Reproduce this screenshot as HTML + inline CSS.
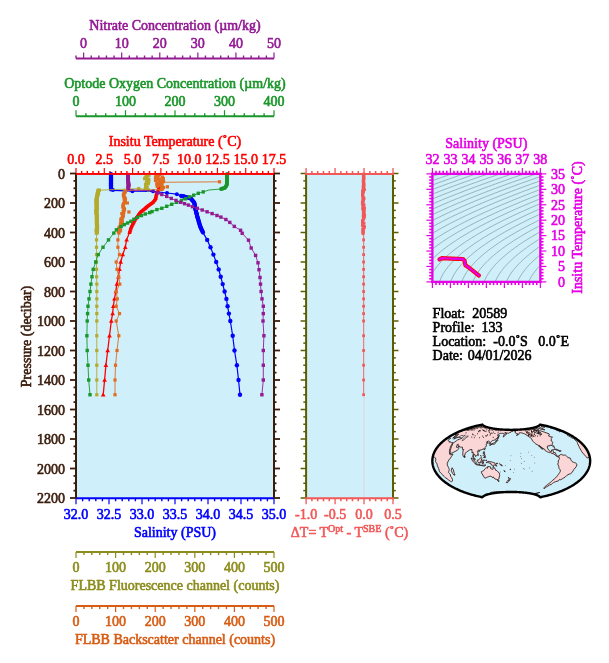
<!DOCTYPE html><html><head><meta charset="utf-8"><style>html,body{margin:0;padding:0;background:#fff;width:609px;height:663px;overflow:hidden}svg{display:block;will-change:transform}</style></head><body><svg width="609" height="663" viewBox="0 0 609 663" font-family="Liberation Serif, serif"><line x1="76.00" y1="58.50" x2="274.00" y2="58.50" stroke="#941a94" stroke-width="2" /><line x1="76.00" y1="58.50" x2="76.00" y2="55.50" stroke="#941a94" stroke-width="1.4" /><line x1="83.62" y1="58.50" x2="83.62" y2="52.50" stroke="#941a94" stroke-width="1.2" /><line x1="91.23" y1="58.50" x2="91.23" y2="55.50" stroke="#941a94" stroke-width="1.4" /><line x1="98.85" y1="58.50" x2="98.85" y2="55.50" stroke="#941a94" stroke-width="1.4" /><line x1="106.46" y1="58.50" x2="106.46" y2="55.50" stroke="#941a94" stroke-width="1.4" /><line x1="114.08" y1="58.50" x2="114.08" y2="55.50" stroke="#941a94" stroke-width="1.4" /><line x1="121.69" y1="58.50" x2="121.69" y2="52.50" stroke="#941a94" stroke-width="1.2" /><line x1="129.31" y1="58.50" x2="129.31" y2="55.50" stroke="#941a94" stroke-width="1.4" /><line x1="136.92" y1="58.50" x2="136.92" y2="55.50" stroke="#941a94" stroke-width="1.4" /><line x1="144.54" y1="58.50" x2="144.54" y2="55.50" stroke="#941a94" stroke-width="1.4" /><line x1="152.15" y1="58.50" x2="152.15" y2="55.50" stroke="#941a94" stroke-width="1.4" /><line x1="159.77" y1="58.50" x2="159.77" y2="52.50" stroke="#941a94" stroke-width="1.2" /><line x1="167.38" y1="58.50" x2="167.38" y2="55.50" stroke="#941a94" stroke-width="1.4" /><line x1="175.00" y1="58.50" x2="175.00" y2="55.50" stroke="#941a94" stroke-width="1.4" /><line x1="182.62" y1="58.50" x2="182.62" y2="55.50" stroke="#941a94" stroke-width="1.4" /><line x1="190.23" y1="58.50" x2="190.23" y2="55.50" stroke="#941a94" stroke-width="1.4" /><line x1="197.85" y1="58.50" x2="197.85" y2="52.50" stroke="#941a94" stroke-width="1.2" /><line x1="205.46" y1="58.50" x2="205.46" y2="55.50" stroke="#941a94" stroke-width="1.4" /><line x1="213.08" y1="58.50" x2="213.08" y2="55.50" stroke="#941a94" stroke-width="1.4" /><line x1="220.69" y1="58.50" x2="220.69" y2="55.50" stroke="#941a94" stroke-width="1.4" /><line x1="228.31" y1="58.50" x2="228.31" y2="55.50" stroke="#941a94" stroke-width="1.4" /><line x1="235.92" y1="58.50" x2="235.92" y2="52.50" stroke="#941a94" stroke-width="1.2" /><line x1="243.54" y1="58.50" x2="243.54" y2="55.50" stroke="#941a94" stroke-width="1.4" /><line x1="251.15" y1="58.50" x2="251.15" y2="55.50" stroke="#941a94" stroke-width="1.4" /><line x1="258.77" y1="58.50" x2="258.77" y2="55.50" stroke="#941a94" stroke-width="1.4" /><line x1="266.38" y1="58.50" x2="266.38" y2="55.50" stroke="#941a94" stroke-width="1.4" /><line x1="274.00" y1="58.50" x2="274.00" y2="52.50" stroke="#941a94" stroke-width="1.2" /><text x="83.62" y="48.00" fill="#941a94" stroke="#941a94" stroke-width="0.6" font-size="14" text-anchor="middle" >0</text><text x="121.69" y="48.00" fill="#941a94" stroke="#941a94" stroke-width="0.6" font-size="14" text-anchor="middle" >10</text><text x="159.77" y="48.00" fill="#941a94" stroke="#941a94" stroke-width="0.6" font-size="14" text-anchor="middle" >20</text><text x="197.85" y="48.00" fill="#941a94" stroke="#941a94" stroke-width="0.6" font-size="14" text-anchor="middle" >30</text><text x="235.92" y="48.00" fill="#941a94" stroke="#941a94" stroke-width="0.6" font-size="14" text-anchor="middle" >40</text><text x="274.00" y="48.00" fill="#941a94" stroke="#941a94" stroke-width="0.6" font-size="14" text-anchor="middle" >50</text><text x="175.00" y="30.00" fill="#941a94" stroke="#941a94" stroke-width="0.6" font-size="14" text-anchor="middle" >Nitrate Concentration (µm/kg)</text><line x1="76.00" y1="116.20" x2="274.00" y2="116.20" stroke="#1a962a" stroke-width="2" /><line x1="76.00" y1="116.20" x2="76.00" y2="110.20" stroke="#1a962a" stroke-width="1.2" /><line x1="85.90" y1="116.20" x2="85.90" y2="113.20" stroke="#1a962a" stroke-width="1.4" /><line x1="95.80" y1="116.20" x2="95.80" y2="113.20" stroke="#1a962a" stroke-width="1.4" /><line x1="105.70" y1="116.20" x2="105.70" y2="113.20" stroke="#1a962a" stroke-width="1.4" /><line x1="115.60" y1="116.20" x2="115.60" y2="113.20" stroke="#1a962a" stroke-width="1.4" /><line x1="125.50" y1="116.20" x2="125.50" y2="110.20" stroke="#1a962a" stroke-width="1.2" /><line x1="135.40" y1="116.20" x2="135.40" y2="113.20" stroke="#1a962a" stroke-width="1.4" /><line x1="145.30" y1="116.20" x2="145.30" y2="113.20" stroke="#1a962a" stroke-width="1.4" /><line x1="155.20" y1="116.20" x2="155.20" y2="113.20" stroke="#1a962a" stroke-width="1.4" /><line x1="165.10" y1="116.20" x2="165.10" y2="113.20" stroke="#1a962a" stroke-width="1.4" /><line x1="175.00" y1="116.20" x2="175.00" y2="110.20" stroke="#1a962a" stroke-width="1.2" /><line x1="184.90" y1="116.20" x2="184.90" y2="113.20" stroke="#1a962a" stroke-width="1.4" /><line x1="194.80" y1="116.20" x2="194.80" y2="113.20" stroke="#1a962a" stroke-width="1.4" /><line x1="204.70" y1="116.20" x2="204.70" y2="113.20" stroke="#1a962a" stroke-width="1.4" /><line x1="214.60" y1="116.20" x2="214.60" y2="113.20" stroke="#1a962a" stroke-width="1.4" /><line x1="224.50" y1="116.20" x2="224.50" y2="110.20" stroke="#1a962a" stroke-width="1.2" /><line x1="234.40" y1="116.20" x2="234.40" y2="113.20" stroke="#1a962a" stroke-width="1.4" /><line x1="244.30" y1="116.20" x2="244.30" y2="113.20" stroke="#1a962a" stroke-width="1.4" /><line x1="254.20" y1="116.20" x2="254.20" y2="113.20" stroke="#1a962a" stroke-width="1.4" /><line x1="264.10" y1="116.20" x2="264.10" y2="113.20" stroke="#1a962a" stroke-width="1.4" /><line x1="274.00" y1="116.20" x2="274.00" y2="110.20" stroke="#1a962a" stroke-width="1.2" /><text x="76.00" y="106.00" fill="#1a962a" stroke="#1a962a" stroke-width="0.6" font-size="14" text-anchor="middle" >0</text><text x="125.50" y="106.00" fill="#1a962a" stroke="#1a962a" stroke-width="0.6" font-size="14" text-anchor="middle" >100</text><text x="175.00" y="106.00" fill="#1a962a" stroke="#1a962a" stroke-width="0.6" font-size="14" text-anchor="middle" >200</text><text x="224.50" y="106.00" fill="#1a962a" stroke="#1a962a" stroke-width="0.6" font-size="14" text-anchor="middle" >300</text><text x="274.00" y="106.00" fill="#1a962a" stroke="#1a962a" stroke-width="0.6" font-size="14" text-anchor="middle" >400</text><text x="175.00" y="88.00" fill="#1a962a" stroke="#1a962a" stroke-width="0.6" font-size="14" text-anchor="middle" >Optode Oxygen Concentration (µm/kg)</text><rect x="76.0" y="173.5" width="198.0" height="324.5" fill="#cff0fa"/><line x1="76.00" y1="173.90" x2="274.00" y2="173.90" stroke="#ff0000" stroke-width="1.8" /><line x1="76.00" y1="173.90" x2="76.00" y2="167.90" stroke="#ff0000" stroke-width="1.2" /><line x1="81.66" y1="173.90" x2="81.66" y2="170.90" stroke="#ff0000" stroke-width="1.4" /><line x1="87.31" y1="173.90" x2="87.31" y2="170.90" stroke="#ff0000" stroke-width="1.4" /><line x1="92.97" y1="173.90" x2="92.97" y2="170.90" stroke="#ff0000" stroke-width="1.4" /><line x1="98.63" y1="173.90" x2="98.63" y2="170.90" stroke="#ff0000" stroke-width="1.4" /><line x1="104.29" y1="173.90" x2="104.29" y2="167.90" stroke="#ff0000" stroke-width="1.2" /><line x1="109.94" y1="173.90" x2="109.94" y2="170.90" stroke="#ff0000" stroke-width="1.4" /><line x1="115.60" y1="173.90" x2="115.60" y2="170.90" stroke="#ff0000" stroke-width="1.4" /><line x1="121.26" y1="173.90" x2="121.26" y2="170.90" stroke="#ff0000" stroke-width="1.4" /><line x1="126.91" y1="173.90" x2="126.91" y2="170.90" stroke="#ff0000" stroke-width="1.4" /><line x1="132.57" y1="173.90" x2="132.57" y2="167.90" stroke="#ff0000" stroke-width="1.2" /><line x1="138.23" y1="173.90" x2="138.23" y2="170.90" stroke="#ff0000" stroke-width="1.4" /><line x1="143.89" y1="173.90" x2="143.89" y2="170.90" stroke="#ff0000" stroke-width="1.4" /><line x1="149.54" y1="173.90" x2="149.54" y2="170.90" stroke="#ff0000" stroke-width="1.4" /><line x1="155.20" y1="173.90" x2="155.20" y2="170.90" stroke="#ff0000" stroke-width="1.4" /><line x1="160.86" y1="173.90" x2="160.86" y2="167.90" stroke="#ff0000" stroke-width="1.2" /><line x1="166.51" y1="173.90" x2="166.51" y2="170.90" stroke="#ff0000" stroke-width="1.4" /><line x1="172.17" y1="173.90" x2="172.17" y2="170.90" stroke="#ff0000" stroke-width="1.4" /><line x1="177.83" y1="173.90" x2="177.83" y2="170.90" stroke="#ff0000" stroke-width="1.4" /><line x1="183.49" y1="173.90" x2="183.49" y2="170.90" stroke="#ff0000" stroke-width="1.4" /><line x1="189.14" y1="173.90" x2="189.14" y2="167.90" stroke="#ff0000" stroke-width="1.2" /><line x1="194.80" y1="173.90" x2="194.80" y2="170.90" stroke="#ff0000" stroke-width="1.4" /><line x1="200.46" y1="173.90" x2="200.46" y2="170.90" stroke="#ff0000" stroke-width="1.4" /><line x1="206.11" y1="173.90" x2="206.11" y2="170.90" stroke="#ff0000" stroke-width="1.4" /><line x1="211.77" y1="173.90" x2="211.77" y2="170.90" stroke="#ff0000" stroke-width="1.4" /><line x1="217.43" y1="173.90" x2="217.43" y2="167.90" stroke="#ff0000" stroke-width="1.2" /><line x1="223.09" y1="173.90" x2="223.09" y2="170.90" stroke="#ff0000" stroke-width="1.4" /><line x1="228.74" y1="173.90" x2="228.74" y2="170.90" stroke="#ff0000" stroke-width="1.4" /><line x1="234.40" y1="173.90" x2="234.40" y2="170.90" stroke="#ff0000" stroke-width="1.4" /><line x1="240.06" y1="173.90" x2="240.06" y2="170.90" stroke="#ff0000" stroke-width="1.4" /><line x1="245.71" y1="173.90" x2="245.71" y2="167.90" stroke="#ff0000" stroke-width="1.2" /><line x1="251.37" y1="173.90" x2="251.37" y2="170.90" stroke="#ff0000" stroke-width="1.4" /><line x1="257.03" y1="173.90" x2="257.03" y2="170.90" stroke="#ff0000" stroke-width="1.4" /><line x1="262.69" y1="173.90" x2="262.69" y2="170.90" stroke="#ff0000" stroke-width="1.4" /><line x1="268.34" y1="173.90" x2="268.34" y2="170.90" stroke="#ff0000" stroke-width="1.4" /><line x1="274.00" y1="173.90" x2="274.00" y2="167.90" stroke="#ff0000" stroke-width="1.2" /><text x="76.00" y="163.50" fill="#ff0000" stroke="#ff0000" stroke-width="0.6" font-size="14" text-anchor="middle" >0.0</text><text x="104.29" y="163.50" fill="#ff0000" stroke="#ff0000" stroke-width="0.6" font-size="14" text-anchor="middle" >2.5</text><text x="132.57" y="163.50" fill="#ff0000" stroke="#ff0000" stroke-width="0.6" font-size="14" text-anchor="middle" >5.0</text><text x="160.86" y="163.50" fill="#ff0000" stroke="#ff0000" stroke-width="0.6" font-size="14" text-anchor="middle" >7.5</text><text x="189.14" y="163.50" fill="#ff0000" stroke="#ff0000" stroke-width="0.6" font-size="14" text-anchor="middle" >10.0</text><text x="217.43" y="163.50" fill="#ff0000" stroke="#ff0000" stroke-width="0.6" font-size="14" text-anchor="middle" >12.5</text><text x="245.71" y="163.50" fill="#ff0000" stroke="#ff0000" stroke-width="0.6" font-size="14" text-anchor="middle" >15.0</text><text x="274.00" y="163.50" fill="#ff0000" stroke="#ff0000" stroke-width="0.6" font-size="14" text-anchor="middle" >17.5</text><text x="175.00" y="146.00" fill="#ff0000" stroke="#ff0000" stroke-width="0.6" font-size="14" text-anchor="middle" >Insitu Temperature (˚C)</text><line x1="76.00" y1="498.30" x2="274.00" y2="498.30" stroke="#0000ff" stroke-width="2" /><line x1="76.00" y1="498.30" x2="76.00" y2="504.30" stroke="#0000ff" stroke-width="1.2" /><line x1="82.60" y1="498.30" x2="82.60" y2="501.30" stroke="#0000ff" stroke-width="1.4" /><line x1="89.20" y1="498.30" x2="89.20" y2="501.30" stroke="#0000ff" stroke-width="1.4" /><line x1="95.80" y1="498.30" x2="95.80" y2="501.30" stroke="#0000ff" stroke-width="1.4" /><line x1="102.40" y1="498.30" x2="102.40" y2="501.30" stroke="#0000ff" stroke-width="1.4" /><line x1="109.00" y1="498.30" x2="109.00" y2="504.30" stroke="#0000ff" stroke-width="1.2" /><line x1="115.60" y1="498.30" x2="115.60" y2="501.30" stroke="#0000ff" stroke-width="1.4" /><line x1="122.20" y1="498.30" x2="122.20" y2="501.30" stroke="#0000ff" stroke-width="1.4" /><line x1="128.80" y1="498.30" x2="128.80" y2="501.30" stroke="#0000ff" stroke-width="1.4" /><line x1="135.40" y1="498.30" x2="135.40" y2="501.30" stroke="#0000ff" stroke-width="1.4" /><line x1="142.00" y1="498.30" x2="142.00" y2="504.30" stroke="#0000ff" stroke-width="1.2" /><line x1="148.60" y1="498.30" x2="148.60" y2="501.30" stroke="#0000ff" stroke-width="1.4" /><line x1="155.20" y1="498.30" x2="155.20" y2="501.30" stroke="#0000ff" stroke-width="1.4" /><line x1="161.80" y1="498.30" x2="161.80" y2="501.30" stroke="#0000ff" stroke-width="1.4" /><line x1="168.40" y1="498.30" x2="168.40" y2="501.30" stroke="#0000ff" stroke-width="1.4" /><line x1="175.00" y1="498.30" x2="175.00" y2="504.30" stroke="#0000ff" stroke-width="1.2" /><line x1="181.60" y1="498.30" x2="181.60" y2="501.30" stroke="#0000ff" stroke-width="1.4" /><line x1="188.20" y1="498.30" x2="188.20" y2="501.30" stroke="#0000ff" stroke-width="1.4" /><line x1="194.80" y1="498.30" x2="194.80" y2="501.30" stroke="#0000ff" stroke-width="1.4" /><line x1="201.40" y1="498.30" x2="201.40" y2="501.30" stroke="#0000ff" stroke-width="1.4" /><line x1="208.00" y1="498.30" x2="208.00" y2="504.30" stroke="#0000ff" stroke-width="1.2" /><line x1="214.60" y1="498.30" x2="214.60" y2="501.30" stroke="#0000ff" stroke-width="1.4" /><line x1="221.20" y1="498.30" x2="221.20" y2="501.30" stroke="#0000ff" stroke-width="1.4" /><line x1="227.80" y1="498.30" x2="227.80" y2="501.30" stroke="#0000ff" stroke-width="1.4" /><line x1="234.40" y1="498.30" x2="234.40" y2="501.30" stroke="#0000ff" stroke-width="1.4" /><line x1="241.00" y1="498.30" x2="241.00" y2="504.30" stroke="#0000ff" stroke-width="1.2" /><line x1="247.60" y1="498.30" x2="247.60" y2="501.30" stroke="#0000ff" stroke-width="1.4" /><line x1="254.20" y1="498.30" x2="254.20" y2="501.30" stroke="#0000ff" stroke-width="1.4" /><line x1="260.80" y1="498.30" x2="260.80" y2="501.30" stroke="#0000ff" stroke-width="1.4" /><line x1="267.40" y1="498.30" x2="267.40" y2="501.30" stroke="#0000ff" stroke-width="1.4" /><line x1="274.00" y1="498.30" x2="274.00" y2="504.30" stroke="#0000ff" stroke-width="1.2" /><text x="76.00" y="518.50" fill="#0000ff" stroke="#0000ff" stroke-width="0.6" font-size="14" text-anchor="middle" >32.0</text><text x="109.00" y="518.50" fill="#0000ff" stroke="#0000ff" stroke-width="0.6" font-size="14" text-anchor="middle" >32.5</text><text x="142.00" y="518.50" fill="#0000ff" stroke="#0000ff" stroke-width="0.6" font-size="14" text-anchor="middle" >33.0</text><text x="175.00" y="518.50" fill="#0000ff" stroke="#0000ff" stroke-width="0.6" font-size="14" text-anchor="middle" >33.5</text><text x="208.00" y="518.50" fill="#0000ff" stroke="#0000ff" stroke-width="0.6" font-size="14" text-anchor="middle" >34.0</text><text x="241.00" y="518.50" fill="#0000ff" stroke="#0000ff" stroke-width="0.6" font-size="14" text-anchor="middle" >34.5</text><text x="274.00" y="518.50" fill="#0000ff" stroke="#0000ff" stroke-width="0.6" font-size="14" text-anchor="middle" >35.0</text><text x="175.00" y="536.50" fill="#0000ff" stroke="#0000ff" stroke-width="0.6" font-size="14" text-anchor="middle" >Salinity (PSU)</text><line x1="76.00" y1="173.50" x2="76.00" y2="498.00" stroke="#3a1c0c" stroke-width="2" /><line x1="76.00" y1="173.50" x2="70.00" y2="173.50" stroke="#3a1c0c" stroke-width="1.8" /><text x="65.00" y="178.50" fill="#3a1c0c" stroke="#3a1c0c" stroke-width="0.6" font-size="14" text-anchor="end" >0</text><line x1="76.00" y1="180.88" x2="73.50" y2="180.88" stroke="#3a1c0c" stroke-width="1.8" /><line x1="76.00" y1="188.25" x2="73.50" y2="188.25" stroke="#3a1c0c" stroke-width="1.8" /><line x1="76.00" y1="195.62" x2="73.50" y2="195.62" stroke="#3a1c0c" stroke-width="1.8" /><line x1="76.00" y1="203.00" x2="70.00" y2="203.00" stroke="#3a1c0c" stroke-width="1.8" /><text x="65.00" y="208.00" fill="#3a1c0c" stroke="#3a1c0c" stroke-width="0.6" font-size="14" text-anchor="end" >200</text><line x1="76.00" y1="210.38" x2="73.50" y2="210.38" stroke="#3a1c0c" stroke-width="1.8" /><line x1="76.00" y1="217.75" x2="73.50" y2="217.75" stroke="#3a1c0c" stroke-width="1.8" /><line x1="76.00" y1="225.12" x2="73.50" y2="225.12" stroke="#3a1c0c" stroke-width="1.8" /><line x1="76.00" y1="232.50" x2="70.00" y2="232.50" stroke="#3a1c0c" stroke-width="1.8" /><text x="65.00" y="237.50" fill="#3a1c0c" stroke="#3a1c0c" stroke-width="0.6" font-size="14" text-anchor="end" >400</text><line x1="76.00" y1="239.88" x2="73.50" y2="239.88" stroke="#3a1c0c" stroke-width="1.8" /><line x1="76.00" y1="247.25" x2="73.50" y2="247.25" stroke="#3a1c0c" stroke-width="1.8" /><line x1="76.00" y1="254.62" x2="73.50" y2="254.62" stroke="#3a1c0c" stroke-width="1.8" /><line x1="76.00" y1="262.00" x2="70.00" y2="262.00" stroke="#3a1c0c" stroke-width="1.8" /><text x="65.00" y="267.00" fill="#3a1c0c" stroke="#3a1c0c" stroke-width="0.6" font-size="14" text-anchor="end" >600</text><line x1="76.00" y1="269.38" x2="73.50" y2="269.38" stroke="#3a1c0c" stroke-width="1.8" /><line x1="76.00" y1="276.75" x2="73.50" y2="276.75" stroke="#3a1c0c" stroke-width="1.8" /><line x1="76.00" y1="284.12" x2="73.50" y2="284.12" stroke="#3a1c0c" stroke-width="1.8" /><line x1="76.00" y1="291.50" x2="70.00" y2="291.50" stroke="#3a1c0c" stroke-width="1.8" /><text x="65.00" y="296.50" fill="#3a1c0c" stroke="#3a1c0c" stroke-width="0.6" font-size="14" text-anchor="end" >800</text><line x1="76.00" y1="298.88" x2="73.50" y2="298.88" stroke="#3a1c0c" stroke-width="1.8" /><line x1="76.00" y1="306.25" x2="73.50" y2="306.25" stroke="#3a1c0c" stroke-width="1.8" /><line x1="76.00" y1="313.62" x2="73.50" y2="313.62" stroke="#3a1c0c" stroke-width="1.8" /><line x1="76.00" y1="321.00" x2="70.00" y2="321.00" stroke="#3a1c0c" stroke-width="1.8" /><text x="65.00" y="326.00" fill="#3a1c0c" stroke="#3a1c0c" stroke-width="0.6" font-size="14" text-anchor="end" >1000</text><line x1="76.00" y1="328.38" x2="73.50" y2="328.38" stroke="#3a1c0c" stroke-width="1.8" /><line x1="76.00" y1="335.75" x2="73.50" y2="335.75" stroke="#3a1c0c" stroke-width="1.8" /><line x1="76.00" y1="343.12" x2="73.50" y2="343.12" stroke="#3a1c0c" stroke-width="1.8" /><line x1="76.00" y1="350.50" x2="70.00" y2="350.50" stroke="#3a1c0c" stroke-width="1.8" /><text x="65.00" y="355.50" fill="#3a1c0c" stroke="#3a1c0c" stroke-width="0.6" font-size="14" text-anchor="end" >1200</text><line x1="76.00" y1="357.88" x2="73.50" y2="357.88" stroke="#3a1c0c" stroke-width="1.8" /><line x1="76.00" y1="365.25" x2="73.50" y2="365.25" stroke="#3a1c0c" stroke-width="1.8" /><line x1="76.00" y1="372.62" x2="73.50" y2="372.62" stroke="#3a1c0c" stroke-width="1.8" /><line x1="76.00" y1="380.00" x2="70.00" y2="380.00" stroke="#3a1c0c" stroke-width="1.8" /><text x="65.00" y="385.00" fill="#3a1c0c" stroke="#3a1c0c" stroke-width="0.6" font-size="14" text-anchor="end" >1400</text><line x1="76.00" y1="387.38" x2="73.50" y2="387.38" stroke="#3a1c0c" stroke-width="1.8" /><line x1="76.00" y1="394.75" x2="73.50" y2="394.75" stroke="#3a1c0c" stroke-width="1.8" /><line x1="76.00" y1="402.12" x2="73.50" y2="402.12" stroke="#3a1c0c" stroke-width="1.8" /><line x1="76.00" y1="409.50" x2="70.00" y2="409.50" stroke="#3a1c0c" stroke-width="1.8" /><text x="65.00" y="414.50" fill="#3a1c0c" stroke="#3a1c0c" stroke-width="0.6" font-size="14" text-anchor="end" >1600</text><line x1="76.00" y1="416.88" x2="73.50" y2="416.88" stroke="#3a1c0c" stroke-width="1.8" /><line x1="76.00" y1="424.25" x2="73.50" y2="424.25" stroke="#3a1c0c" stroke-width="1.8" /><line x1="76.00" y1="431.62" x2="73.50" y2="431.62" stroke="#3a1c0c" stroke-width="1.8" /><line x1="76.00" y1="439.00" x2="70.00" y2="439.00" stroke="#3a1c0c" stroke-width="1.8" /><text x="65.00" y="444.00" fill="#3a1c0c" stroke="#3a1c0c" stroke-width="0.6" font-size="14" text-anchor="end" >1800</text><line x1="76.00" y1="446.38" x2="73.50" y2="446.38" stroke="#3a1c0c" stroke-width="1.8" /><line x1="76.00" y1="453.75" x2="73.50" y2="453.75" stroke="#3a1c0c" stroke-width="1.8" /><line x1="76.00" y1="461.12" x2="73.50" y2="461.12" stroke="#3a1c0c" stroke-width="1.8" /><line x1="76.00" y1="468.50" x2="70.00" y2="468.50" stroke="#3a1c0c" stroke-width="1.8" /><text x="65.00" y="473.50" fill="#3a1c0c" stroke="#3a1c0c" stroke-width="0.6" font-size="14" text-anchor="end" >2000</text><line x1="76.00" y1="475.88" x2="73.50" y2="475.88" stroke="#3a1c0c" stroke-width="1.8" /><line x1="76.00" y1="483.25" x2="73.50" y2="483.25" stroke="#3a1c0c" stroke-width="1.8" /><line x1="76.00" y1="490.62" x2="73.50" y2="490.62" stroke="#3a1c0c" stroke-width="1.8" /><line x1="76.00" y1="498.00" x2="70.00" y2="498.00" stroke="#3a1c0c" stroke-width="1.8" /><text x="65.00" y="503.00" fill="#3a1c0c" stroke="#3a1c0c" stroke-width="0.6" font-size="14" text-anchor="end" >2200</text><line x1="274.00" y1="173.50" x2="274.00" y2="498.00" stroke="#3a1c0c" stroke-width="2" /><line x1="274.00" y1="173.50" x2="280.00" y2="173.50" stroke="#3a1c0c" stroke-width="1.8" /><line x1="274.00" y1="180.88" x2="276.50" y2="180.88" stroke="#3a1c0c" stroke-width="1.8" /><line x1="274.00" y1="188.25" x2="276.50" y2="188.25" stroke="#3a1c0c" stroke-width="1.8" /><line x1="274.00" y1="195.62" x2="276.50" y2="195.62" stroke="#3a1c0c" stroke-width="1.8" /><line x1="274.00" y1="203.00" x2="280.00" y2="203.00" stroke="#3a1c0c" stroke-width="1.8" /><line x1="274.00" y1="210.38" x2="276.50" y2="210.38" stroke="#3a1c0c" stroke-width="1.8" /><line x1="274.00" y1="217.75" x2="276.50" y2="217.75" stroke="#3a1c0c" stroke-width="1.8" /><line x1="274.00" y1="225.12" x2="276.50" y2="225.12" stroke="#3a1c0c" stroke-width="1.8" /><line x1="274.00" y1="232.50" x2="280.00" y2="232.50" stroke="#3a1c0c" stroke-width="1.8" /><line x1="274.00" y1="239.88" x2="276.50" y2="239.88" stroke="#3a1c0c" stroke-width="1.8" /><line x1="274.00" y1="247.25" x2="276.50" y2="247.25" stroke="#3a1c0c" stroke-width="1.8" /><line x1="274.00" y1="254.62" x2="276.50" y2="254.62" stroke="#3a1c0c" stroke-width="1.8" /><line x1="274.00" y1="262.00" x2="280.00" y2="262.00" stroke="#3a1c0c" stroke-width="1.8" /><line x1="274.00" y1="269.38" x2="276.50" y2="269.38" stroke="#3a1c0c" stroke-width="1.8" /><line x1="274.00" y1="276.75" x2="276.50" y2="276.75" stroke="#3a1c0c" stroke-width="1.8" /><line x1="274.00" y1="284.12" x2="276.50" y2="284.12" stroke="#3a1c0c" stroke-width="1.8" /><line x1="274.00" y1="291.50" x2="280.00" y2="291.50" stroke="#3a1c0c" stroke-width="1.8" /><line x1="274.00" y1="298.88" x2="276.50" y2="298.88" stroke="#3a1c0c" stroke-width="1.8" /><line x1="274.00" y1="306.25" x2="276.50" y2="306.25" stroke="#3a1c0c" stroke-width="1.8" /><line x1="274.00" y1="313.62" x2="276.50" y2="313.62" stroke="#3a1c0c" stroke-width="1.8" /><line x1="274.00" y1="321.00" x2="280.00" y2="321.00" stroke="#3a1c0c" stroke-width="1.8" /><line x1="274.00" y1="328.38" x2="276.50" y2="328.38" stroke="#3a1c0c" stroke-width="1.8" /><line x1="274.00" y1="335.75" x2="276.50" y2="335.75" stroke="#3a1c0c" stroke-width="1.8" /><line x1="274.00" y1="343.12" x2="276.50" y2="343.12" stroke="#3a1c0c" stroke-width="1.8" /><line x1="274.00" y1="350.50" x2="280.00" y2="350.50" stroke="#3a1c0c" stroke-width="1.8" /><line x1="274.00" y1="357.88" x2="276.50" y2="357.88" stroke="#3a1c0c" stroke-width="1.8" /><line x1="274.00" y1="365.25" x2="276.50" y2="365.25" stroke="#3a1c0c" stroke-width="1.8" /><line x1="274.00" y1="372.62" x2="276.50" y2="372.62" stroke="#3a1c0c" stroke-width="1.8" /><line x1="274.00" y1="380.00" x2="280.00" y2="380.00" stroke="#3a1c0c" stroke-width="1.8" /><line x1="274.00" y1="387.38" x2="276.50" y2="387.38" stroke="#3a1c0c" stroke-width="1.8" /><line x1="274.00" y1="394.75" x2="276.50" y2="394.75" stroke="#3a1c0c" stroke-width="1.8" /><line x1="274.00" y1="402.12" x2="276.50" y2="402.12" stroke="#3a1c0c" stroke-width="1.8" /><line x1="274.00" y1="409.50" x2="280.00" y2="409.50" stroke="#3a1c0c" stroke-width="1.8" /><line x1="274.00" y1="416.88" x2="276.50" y2="416.88" stroke="#3a1c0c" stroke-width="1.8" /><line x1="274.00" y1="424.25" x2="276.50" y2="424.25" stroke="#3a1c0c" stroke-width="1.8" /><line x1="274.00" y1="431.62" x2="276.50" y2="431.62" stroke="#3a1c0c" stroke-width="1.8" /><line x1="274.00" y1="439.00" x2="280.00" y2="439.00" stroke="#3a1c0c" stroke-width="1.8" /><line x1="274.00" y1="446.38" x2="276.50" y2="446.38" stroke="#3a1c0c" stroke-width="1.8" /><line x1="274.00" y1="453.75" x2="276.50" y2="453.75" stroke="#3a1c0c" stroke-width="1.8" /><line x1="274.00" y1="461.12" x2="276.50" y2="461.12" stroke="#3a1c0c" stroke-width="1.8" /><line x1="274.00" y1="468.50" x2="280.00" y2="468.50" stroke="#3a1c0c" stroke-width="1.8" /><line x1="274.00" y1="475.88" x2="276.50" y2="475.88" stroke="#3a1c0c" stroke-width="1.8" /><line x1="274.00" y1="483.25" x2="276.50" y2="483.25" stroke="#3a1c0c" stroke-width="1.8" /><line x1="274.00" y1="490.62" x2="276.50" y2="490.62" stroke="#3a1c0c" stroke-width="1.8" /><line x1="274.00" y1="498.00" x2="280.00" y2="498.00" stroke="#3a1c0c" stroke-width="1.8" /><text x="0.00" y="0.00" fill="#3a1c0c" stroke="#3a1c0c" stroke-width="0.6" font-size="14" text-anchor="middle" transform="translate(31,336.5) rotate(-90)">Pressure (decibar)</text><line x1="76.00" y1="552.10" x2="274.00" y2="552.10" stroke="#8c8c1c" stroke-width="2" /><line x1="76.00" y1="552.10" x2="76.00" y2="558.10" stroke="#8c8c1c" stroke-width="1.2" /><line x1="83.92" y1="552.10" x2="83.92" y2="555.10" stroke="#8c8c1c" stroke-width="1.4" /><line x1="91.84" y1="552.10" x2="91.84" y2="555.10" stroke="#8c8c1c" stroke-width="1.4" /><line x1="99.76" y1="552.10" x2="99.76" y2="555.10" stroke="#8c8c1c" stroke-width="1.4" /><line x1="107.68" y1="552.10" x2="107.68" y2="555.10" stroke="#8c8c1c" stroke-width="1.4" /><line x1="115.60" y1="552.10" x2="115.60" y2="558.10" stroke="#8c8c1c" stroke-width="1.2" /><line x1="123.52" y1="552.10" x2="123.52" y2="555.10" stroke="#8c8c1c" stroke-width="1.4" /><line x1="131.44" y1="552.10" x2="131.44" y2="555.10" stroke="#8c8c1c" stroke-width="1.4" /><line x1="139.36" y1="552.10" x2="139.36" y2="555.10" stroke="#8c8c1c" stroke-width="1.4" /><line x1="147.28" y1="552.10" x2="147.28" y2="555.10" stroke="#8c8c1c" stroke-width="1.4" /><line x1="155.20" y1="552.10" x2="155.20" y2="558.10" stroke="#8c8c1c" stroke-width="1.2" /><line x1="163.12" y1="552.10" x2="163.12" y2="555.10" stroke="#8c8c1c" stroke-width="1.4" /><line x1="171.04" y1="552.10" x2="171.04" y2="555.10" stroke="#8c8c1c" stroke-width="1.4" /><line x1="178.96" y1="552.10" x2="178.96" y2="555.10" stroke="#8c8c1c" stroke-width="1.4" /><line x1="186.88" y1="552.10" x2="186.88" y2="555.10" stroke="#8c8c1c" stroke-width="1.4" /><line x1="194.80" y1="552.10" x2="194.80" y2="558.10" stroke="#8c8c1c" stroke-width="1.2" /><line x1="202.72" y1="552.10" x2="202.72" y2="555.10" stroke="#8c8c1c" stroke-width="1.4" /><line x1="210.64" y1="552.10" x2="210.64" y2="555.10" stroke="#8c8c1c" stroke-width="1.4" /><line x1="218.56" y1="552.10" x2="218.56" y2="555.10" stroke="#8c8c1c" stroke-width="1.4" /><line x1="226.48" y1="552.10" x2="226.48" y2="555.10" stroke="#8c8c1c" stroke-width="1.4" /><line x1="234.40" y1="552.10" x2="234.40" y2="558.10" stroke="#8c8c1c" stroke-width="1.2" /><line x1="242.32" y1="552.10" x2="242.32" y2="555.10" stroke="#8c8c1c" stroke-width="1.4" /><line x1="250.24" y1="552.10" x2="250.24" y2="555.10" stroke="#8c8c1c" stroke-width="1.4" /><line x1="258.16" y1="552.10" x2="258.16" y2="555.10" stroke="#8c8c1c" stroke-width="1.4" /><line x1="266.08" y1="552.10" x2="266.08" y2="555.10" stroke="#8c8c1c" stroke-width="1.4" /><line x1="274.00" y1="552.10" x2="274.00" y2="558.10" stroke="#8c8c1c" stroke-width="1.2" /><text x="76.00" y="572.00" fill="#8c8c1c" stroke="#8c8c1c" stroke-width="0.6" font-size="14" text-anchor="middle" >0</text><text x="115.60" y="572.00" fill="#8c8c1c" stroke="#8c8c1c" stroke-width="0.6" font-size="14" text-anchor="middle" >100</text><text x="155.20" y="572.00" fill="#8c8c1c" stroke="#8c8c1c" stroke-width="0.6" font-size="14" text-anchor="middle" >200</text><text x="194.80" y="572.00" fill="#8c8c1c" stroke="#8c8c1c" stroke-width="0.6" font-size="14" text-anchor="middle" >300</text><text x="234.40" y="572.00" fill="#8c8c1c" stroke="#8c8c1c" stroke-width="0.6" font-size="14" text-anchor="middle" >400</text><text x="274.00" y="572.00" fill="#8c8c1c" stroke="#8c8c1c" stroke-width="0.6" font-size="14" text-anchor="middle" >500</text><text x="175.00" y="590.00" fill="#8c8c1c" stroke="#8c8c1c" stroke-width="0.6" font-size="14" text-anchor="middle" >FLBB Fluorescence channel (counts)</text><line x1="76.00" y1="606.10" x2="274.00" y2="606.10" stroke="#d85c14" stroke-width="2" /><line x1="76.00" y1="606.10" x2="76.00" y2="612.10" stroke="#d85c14" stroke-width="1.2" /><line x1="83.92" y1="606.10" x2="83.92" y2="609.10" stroke="#d85c14" stroke-width="1.4" /><line x1="91.84" y1="606.10" x2="91.84" y2="609.10" stroke="#d85c14" stroke-width="1.4" /><line x1="99.76" y1="606.10" x2="99.76" y2="609.10" stroke="#d85c14" stroke-width="1.4" /><line x1="107.68" y1="606.10" x2="107.68" y2="609.10" stroke="#d85c14" stroke-width="1.4" /><line x1="115.60" y1="606.10" x2="115.60" y2="612.10" stroke="#d85c14" stroke-width="1.2" /><line x1="123.52" y1="606.10" x2="123.52" y2="609.10" stroke="#d85c14" stroke-width="1.4" /><line x1="131.44" y1="606.10" x2="131.44" y2="609.10" stroke="#d85c14" stroke-width="1.4" /><line x1="139.36" y1="606.10" x2="139.36" y2="609.10" stroke="#d85c14" stroke-width="1.4" /><line x1="147.28" y1="606.10" x2="147.28" y2="609.10" stroke="#d85c14" stroke-width="1.4" /><line x1="155.20" y1="606.10" x2="155.20" y2="612.10" stroke="#d85c14" stroke-width="1.2" /><line x1="163.12" y1="606.10" x2="163.12" y2="609.10" stroke="#d85c14" stroke-width="1.4" /><line x1="171.04" y1="606.10" x2="171.04" y2="609.10" stroke="#d85c14" stroke-width="1.4" /><line x1="178.96" y1="606.10" x2="178.96" y2="609.10" stroke="#d85c14" stroke-width="1.4" /><line x1="186.88" y1="606.10" x2="186.88" y2="609.10" stroke="#d85c14" stroke-width="1.4" /><line x1="194.80" y1="606.10" x2="194.80" y2="612.10" stroke="#d85c14" stroke-width="1.2" /><line x1="202.72" y1="606.10" x2="202.72" y2="609.10" stroke="#d85c14" stroke-width="1.4" /><line x1="210.64" y1="606.10" x2="210.64" y2="609.10" stroke="#d85c14" stroke-width="1.4" /><line x1="218.56" y1="606.10" x2="218.56" y2="609.10" stroke="#d85c14" stroke-width="1.4" /><line x1="226.48" y1="606.10" x2="226.48" y2="609.10" stroke="#d85c14" stroke-width="1.4" /><line x1="234.40" y1="606.10" x2="234.40" y2="612.10" stroke="#d85c14" stroke-width="1.2" /><line x1="242.32" y1="606.10" x2="242.32" y2="609.10" stroke="#d85c14" stroke-width="1.4" /><line x1="250.24" y1="606.10" x2="250.24" y2="609.10" stroke="#d85c14" stroke-width="1.4" /><line x1="258.16" y1="606.10" x2="258.16" y2="609.10" stroke="#d85c14" stroke-width="1.4" /><line x1="266.08" y1="606.10" x2="266.08" y2="609.10" stroke="#d85c14" stroke-width="1.4" /><line x1="274.00" y1="606.10" x2="274.00" y2="612.10" stroke="#d85c14" stroke-width="1.2" /><text x="76.00" y="626.00" fill="#d85c14" stroke="#d85c14" stroke-width="0.6" font-size="14" text-anchor="middle" >0</text><text x="115.60" y="626.00" fill="#d85c14" stroke="#d85c14" stroke-width="0.6" font-size="14" text-anchor="middle" >100</text><text x="155.20" y="626.00" fill="#d85c14" stroke="#d85c14" stroke-width="0.6" font-size="14" text-anchor="middle" >200</text><text x="194.80" y="626.00" fill="#d85c14" stroke="#d85c14" stroke-width="0.6" font-size="14" text-anchor="middle" >300</text><text x="234.40" y="626.00" fill="#d85c14" stroke="#d85c14" stroke-width="0.6" font-size="14" text-anchor="middle" >400</text><text x="274.00" y="626.00" fill="#d85c14" stroke="#d85c14" stroke-width="0.6" font-size="14" text-anchor="middle" >500</text><text x="175.00" y="643.50" fill="#d85c14" stroke="#d85c14" stroke-width="0.6" font-size="14" text-anchor="middle" >FLBB Backscatter channel (counts)</text><polyline points="111.00,174.00 111.00,189.50 113.00,190.30 132.40,191.20 153.00,191.30 167.00,193.00 176.90,194.20 181.00,195.80 186.00,197.00 190.80,198.50 194.30,202.70 195.30,208.60 197.30,216.50 200.20,226.40 203.00,232.60 207.20,239.88 210.50,247.25 213.40,254.62 216.20,262.00 218.70,269.38 220.70,276.75 222.70,284.12 224.60,291.50 226.40,298.88 227.60,306.25 228.90,313.62 230.30,321.00 232.70,335.75 234.50,350.50 236.90,365.25 238.50,380.00 240.00,394.75" fill="none" stroke="#0000ff" stroke-width="1.2" stroke-linejoin="round" /><circle cx="111.00" cy="174.00" r="2.1" fill="#0000ff"/><circle cx="111.00" cy="174.70" r="2.1" fill="#0000ff"/><circle cx="111.00" cy="175.41" r="2.1" fill="#0000ff"/><circle cx="111.00" cy="176.11" r="2.1" fill="#0000ff"/><circle cx="111.00" cy="176.82" r="2.1" fill="#0000ff"/><circle cx="111.00" cy="177.52" r="2.1" fill="#0000ff"/><circle cx="111.00" cy="178.23" r="2.1" fill="#0000ff"/><circle cx="111.00" cy="178.93" r="2.1" fill="#0000ff"/><circle cx="111.00" cy="179.64" r="2.1" fill="#0000ff"/><circle cx="111.00" cy="180.34" r="2.1" fill="#0000ff"/><circle cx="111.00" cy="181.05" r="2.1" fill="#0000ff"/><circle cx="111.00" cy="181.75" r="2.1" fill="#0000ff"/><circle cx="111.00" cy="182.45" r="2.1" fill="#0000ff"/><circle cx="111.00" cy="183.16" r="2.1" fill="#0000ff"/><circle cx="111.00" cy="183.86" r="2.1" fill="#0000ff"/><circle cx="111.00" cy="184.57" r="2.1" fill="#0000ff"/><circle cx="111.00" cy="185.27" r="2.1" fill="#0000ff"/><circle cx="111.00" cy="185.98" r="2.1" fill="#0000ff"/><circle cx="111.00" cy="186.68" r="2.1" fill="#0000ff"/><circle cx="111.00" cy="187.39" r="2.1" fill="#0000ff"/><circle cx="111.00" cy="188.09" r="2.1" fill="#0000ff"/><circle cx="111.00" cy="188.80" r="2.1" fill="#0000ff"/><circle cx="111.00" cy="189.50" r="2.1" fill="#0000ff"/><circle cx="113.00" cy="190.10" r="2.0" fill="#0000ff"/><circle cx="132.40" cy="191.20" r="2.0" fill="#0000ff"/><circle cx="153.00" cy="191.30" r="2.0" fill="#0000ff"/><circle cx="167.00" cy="193.00" r="2.0" fill="#0000ff"/><circle cx="176.90" cy="194.20" r="2.0" fill="#0000ff"/><circle cx="181.00" cy="195.80" r="2.1" fill="#0000ff"/><circle cx="181.83" cy="196.00" r="2.1" fill="#0000ff"/><circle cx="182.67" cy="196.20" r="2.1" fill="#0000ff"/><circle cx="183.50" cy="196.40" r="2.1" fill="#0000ff"/><circle cx="184.33" cy="196.60" r="2.1" fill="#0000ff"/><circle cx="185.17" cy="196.80" r="2.1" fill="#0000ff"/><circle cx="186.00" cy="197.00" r="2.1" fill="#0000ff"/><circle cx="186.80" cy="197.25" r="2.1" fill="#0000ff"/><circle cx="187.60" cy="197.50" r="2.1" fill="#0000ff"/><circle cx="188.40" cy="197.75" r="2.1" fill="#0000ff"/><circle cx="189.20" cy="198.00" r="2.1" fill="#0000ff"/><circle cx="190.00" cy="198.25" r="2.1" fill="#0000ff"/><circle cx="190.80" cy="198.50" r="2.1" fill="#0000ff"/><circle cx="191.38" cy="199.20" r="2.1" fill="#0000ff"/><circle cx="191.97" cy="199.90" r="2.1" fill="#0000ff"/><circle cx="192.55" cy="200.60" r="2.1" fill="#0000ff"/><circle cx="193.13" cy="201.30" r="2.1" fill="#0000ff"/><circle cx="193.72" cy="202.00" r="2.1" fill="#0000ff"/><circle cx="194.30" cy="202.70" r="2.1" fill="#0000ff"/><circle cx="194.44" cy="203.54" r="2.1" fill="#0000ff"/><circle cx="194.59" cy="204.39" r="2.1" fill="#0000ff"/><circle cx="194.73" cy="205.23" r="2.1" fill="#0000ff"/><circle cx="194.87" cy="206.07" r="2.1" fill="#0000ff"/><circle cx="195.01" cy="206.91" r="2.1" fill="#0000ff"/><circle cx="195.16" cy="207.76" r="2.1" fill="#0000ff"/><circle cx="195.30" cy="208.60" r="2.1" fill="#0000ff"/><circle cx="195.50" cy="209.39" r="2.1" fill="#0000ff"/><circle cx="195.70" cy="210.18" r="2.1" fill="#0000ff"/><circle cx="195.90" cy="210.97" r="2.1" fill="#0000ff"/><circle cx="196.10" cy="211.76" r="2.1" fill="#0000ff"/><circle cx="196.30" cy="212.55" r="2.1" fill="#0000ff"/><circle cx="196.50" cy="213.34" r="2.1" fill="#0000ff"/><circle cx="196.70" cy="214.13" r="2.1" fill="#0000ff"/><circle cx="196.90" cy="214.92" r="2.1" fill="#0000ff"/><circle cx="197.10" cy="215.71" r="2.1" fill="#0000ff"/><circle cx="197.30" cy="216.50" r="2.1" fill="#0000ff"/><circle cx="197.54" cy="217.32" r="2.1" fill="#0000ff"/><circle cx="197.78" cy="218.15" r="2.1" fill="#0000ff"/><circle cx="198.03" cy="218.97" r="2.1" fill="#0000ff"/><circle cx="198.27" cy="219.80" r="2.1" fill="#0000ff"/><circle cx="198.51" cy="220.62" r="2.1" fill="#0000ff"/><circle cx="198.75" cy="221.45" r="2.1" fill="#0000ff"/><circle cx="198.99" cy="222.28" r="2.1" fill="#0000ff"/><circle cx="199.23" cy="223.10" r="2.1" fill="#0000ff"/><circle cx="199.47" cy="223.93" r="2.1" fill="#0000ff"/><circle cx="199.72" cy="224.75" r="2.1" fill="#0000ff"/><circle cx="199.96" cy="225.58" r="2.1" fill="#0000ff"/><circle cx="200.20" cy="226.40" r="2.1" fill="#0000ff"/><circle cx="200.55" cy="227.18" r="2.1" fill="#0000ff"/><circle cx="200.90" cy="227.95" r="2.1" fill="#0000ff"/><circle cx="201.25" cy="228.72" r="2.1" fill="#0000ff"/><circle cx="201.60" cy="229.50" r="2.1" fill="#0000ff"/><circle cx="201.95" cy="230.28" r="2.1" fill="#0000ff"/><circle cx="202.30" cy="231.05" r="2.1" fill="#0000ff"/><circle cx="202.65" cy="231.82" r="2.1" fill="#0000ff"/><circle cx="203.00" cy="232.60" r="2.1" fill="#0000ff"/><circle cx="207.20" cy="239.88" r="2.2" fill="#0000ff"/><circle cx="210.50" cy="247.25" r="2.2" fill="#0000ff"/><circle cx="213.40" cy="254.62" r="2.2" fill="#0000ff"/><circle cx="216.20" cy="262.00" r="2.2" fill="#0000ff"/><circle cx="218.70" cy="269.38" r="2.2" fill="#0000ff"/><circle cx="220.70" cy="276.75" r="2.2" fill="#0000ff"/><circle cx="222.70" cy="284.12" r="2.2" fill="#0000ff"/><circle cx="224.60" cy="291.50" r="2.2" fill="#0000ff"/><circle cx="226.40" cy="298.88" r="2.2" fill="#0000ff"/><circle cx="227.60" cy="306.25" r="2.2" fill="#0000ff"/><circle cx="228.90" cy="313.62" r="2.2" fill="#0000ff"/><circle cx="230.30" cy="321.00" r="2.2" fill="#0000ff"/><circle cx="232.70" cy="335.75" r="2.2" fill="#0000ff"/><circle cx="234.50" cy="350.50" r="2.2" fill="#0000ff"/><circle cx="236.90" cy="365.25" r="2.2" fill="#0000ff"/><circle cx="238.50" cy="380.00" r="2.2" fill="#0000ff"/><circle cx="240.00" cy="394.75" r="2.2" fill="#0000ff"/><polyline points="159.00,183.00 159.00,189.00 158.00,190.50 156.70,192.50 155.60,198.50 152.50,202.60 147.60,206.10 140.10,212.20 134.80,219.70 131.00,227.30 129.50,232.60 126.60,239.88 125.30,247.25 122.80,254.62 120.70,262.00 119.50,269.38 118.40,276.75 116.80,284.12 115.90,291.50 114.40,298.88 113.30,306.25 112.60,313.62 111.30,321.00 109.50,335.75 107.70,350.50 105.90,365.25 104.60,380.00 103.20,394.75" fill="none" stroke="#ff0000" stroke-width="1.3" stroke-linejoin="round" /><polygon points="159.00,180.62 156.80,184.58 161.20,184.58" fill="#ff0000"/><polygon points="159.00,181.48 156.80,185.44 161.20,185.44" fill="#ff0000"/><polygon points="159.00,182.34 156.80,186.30 161.20,186.30" fill="#ff0000"/><polygon points="159.00,183.20 156.80,187.16 161.20,187.16" fill="#ff0000"/><polygon points="159.00,184.05 156.80,188.01 161.20,188.01" fill="#ff0000"/><polygon points="159.00,184.91 156.80,188.87 161.20,188.87" fill="#ff0000"/><polygon points="159.00,185.77 156.80,189.73 161.20,189.73" fill="#ff0000"/><polygon points="159.00,186.62 156.80,190.58 161.20,190.58" fill="#ff0000"/><polygon points="158.00,188.23 155.90,192.01 160.10,192.01" fill="#ff0000"/><polygon points="157.35,189.23 155.25,193.01 159.45,193.01" fill="#ff0000"/><polygon points="156.70,190.23 154.60,194.01 158.80,194.01" fill="#ff0000"/><polygon points="156.54,191.09 154.44,194.87 158.64,194.87" fill="#ff0000"/><polygon points="156.39,191.95 154.29,195.73 158.49,195.73" fill="#ff0000"/><polygon points="156.23,192.80 154.13,196.58 158.33,196.58" fill="#ff0000"/><polygon points="156.07,193.66 153.97,197.44 158.17,197.44" fill="#ff0000"/><polygon points="155.91,194.52 153.81,198.30 158.01,198.30" fill="#ff0000"/><polygon points="155.76,195.37 153.66,199.15 157.86,199.15" fill="#ff0000"/><polygon points="155.60,196.23 153.50,200.01 157.70,200.01" fill="#ff0000"/><polygon points="155.08,196.92 152.98,200.70 157.18,200.70" fill="#ff0000"/><polygon points="154.57,197.60 152.47,201.38 156.67,201.38" fill="#ff0000"/><polygon points="154.05,198.28 151.95,202.06 156.15,202.06" fill="#ff0000"/><polygon points="153.53,198.97 151.43,202.75 155.63,202.75" fill="#ff0000"/><polygon points="153.02,199.65 150.92,203.43 155.12,203.43" fill="#ff0000"/><polygon points="152.50,200.33 150.40,204.11 154.60,204.11" fill="#ff0000"/><polygon points="151.80,200.83 149.70,204.61 153.90,204.61" fill="#ff0000"/><polygon points="151.10,201.33 149.00,205.11 153.20,205.11" fill="#ff0000"/><polygon points="150.40,201.83 148.30,205.61 152.50,205.61" fill="#ff0000"/><polygon points="149.70,202.33 147.60,206.11 151.80,206.11" fill="#ff0000"/><polygon points="149.00,202.83 146.90,206.61 151.10,206.61" fill="#ff0000"/><polygon points="148.30,203.33 146.20,207.11 150.40,207.11" fill="#ff0000"/><polygon points="147.60,203.83 145.50,207.61 149.70,207.61" fill="#ff0000"/><polygon points="146.97,204.34 144.88,208.12 149.07,208.12" fill="#ff0000"/><polygon points="146.35,204.85 144.25,208.63 148.45,208.63" fill="#ff0000"/><polygon points="145.72,205.36 143.62,209.14 147.82,209.14" fill="#ff0000"/><polygon points="145.10,205.87 143.00,209.65 147.20,209.65" fill="#ff0000"/><polygon points="144.47,206.37 142.38,210.15 146.57,210.15" fill="#ff0000"/><polygon points="143.85,206.88 141.75,210.66 145.95,210.66" fill="#ff0000"/><polygon points="143.22,207.39 141.12,211.17 145.32,211.17" fill="#ff0000"/><polygon points="142.60,207.90 140.50,211.68 144.70,211.68" fill="#ff0000"/><polygon points="141.97,208.41 139.88,212.19 144.07,212.19" fill="#ff0000"/><polygon points="141.35,208.92 139.25,212.70 143.45,212.70" fill="#ff0000"/><polygon points="140.72,209.42 138.62,213.20 142.82,213.20" fill="#ff0000"/><polygon points="140.10,209.93 138.00,213.71 142.20,213.71" fill="#ff0000"/><polygon points="139.62,210.61 137.52,214.39 141.72,214.39" fill="#ff0000"/><polygon points="139.14,211.30 137.04,215.08 141.24,215.08" fill="#ff0000"/><polygon points="138.65,211.98 136.55,215.76 140.75,215.76" fill="#ff0000"/><polygon points="138.17,212.66 136.07,216.44 140.27,216.44" fill="#ff0000"/><polygon points="137.69,213.34 135.59,217.12 139.79,217.12" fill="#ff0000"/><polygon points="137.21,214.02 135.11,217.80 139.31,217.80" fill="#ff0000"/><polygon points="136.73,214.70 134.63,218.48 138.83,218.48" fill="#ff0000"/><polygon points="136.25,215.39 134.15,219.17 138.35,219.17" fill="#ff0000"/><polygon points="135.76,216.07 133.66,219.85 137.86,219.85" fill="#ff0000"/><polygon points="135.28,216.75 133.18,220.53 137.38,220.53" fill="#ff0000"/><polygon points="134.80,217.43 132.70,221.21 136.90,221.21" fill="#ff0000"/><polygon points="134.42,218.19 132.32,221.97 136.52,221.97" fill="#ff0000"/><polygon points="134.04,218.95 131.94,222.73 136.14,222.73" fill="#ff0000"/><polygon points="133.66,219.71 131.56,223.49 135.76,223.49" fill="#ff0000"/><polygon points="133.28,220.47 131.18,224.25 135.38,224.25" fill="#ff0000"/><polygon points="132.90,221.23 130.80,225.01 135.00,225.01" fill="#ff0000"/><polygon points="132.52,221.99 130.42,225.77 134.62,225.77" fill="#ff0000"/><polygon points="132.14,222.75 130.04,226.53 134.24,226.53" fill="#ff0000"/><polygon points="131.76,223.51 129.66,227.29 133.86,227.29" fill="#ff0000"/><polygon points="131.38,224.27 129.28,228.05 133.48,228.05" fill="#ff0000"/><polygon points="131.00,225.03 128.90,228.81 133.10,228.81" fill="#ff0000"/><polygon points="130.75,225.92 128.65,229.70 132.85,229.70" fill="#ff0000"/><polygon points="130.50,226.80 128.40,230.58 132.60,230.58" fill="#ff0000"/><polygon points="130.25,227.68 128.15,231.46 132.35,231.46" fill="#ff0000"/><polygon points="130.00,228.57 127.90,232.35 132.10,232.35" fill="#ff0000"/><polygon points="129.75,229.45 127.65,233.23 131.85,233.23" fill="#ff0000"/><polygon points="129.50,230.33 127.40,234.11 131.60,234.11" fill="#ff0000"/><polygon points="126.60,237.39 124.30,241.53 128.90,241.53" fill="#ff0000"/><polygon points="125.30,244.77 123.00,248.91 127.60,248.91" fill="#ff0000"/><polygon points="122.80,252.14 120.50,256.28 125.10,256.28" fill="#ff0000"/><polygon points="120.70,259.52 118.40,263.66 123.00,263.66" fill="#ff0000"/><polygon points="119.50,266.89 117.20,271.03 121.80,271.03" fill="#ff0000"/><polygon points="118.40,274.27 116.10,278.41 120.70,278.41" fill="#ff0000"/><polygon points="116.80,281.64 114.50,285.78 119.10,285.78" fill="#ff0000"/><polygon points="115.90,289.02 113.60,293.16 118.20,293.16" fill="#ff0000"/><polygon points="114.40,296.39 112.10,300.53 116.70,300.53" fill="#ff0000"/><polygon points="113.30,303.77 111.00,307.91 115.60,307.91" fill="#ff0000"/><polygon points="112.60,311.14 110.30,315.28 114.90,315.28" fill="#ff0000"/><polygon points="111.30,318.52 109.00,322.66 113.60,322.66" fill="#ff0000"/><polygon points="109.50,333.27 107.20,337.41 111.80,337.41" fill="#ff0000"/><polygon points="107.70,348.02 105.40,352.16 110.00,352.16" fill="#ff0000"/><polygon points="105.90,362.77 103.60,366.91 108.20,366.91" fill="#ff0000"/><polygon points="104.60,377.52 102.30,381.66 106.90,381.66" fill="#ff0000"/><polygon points="103.20,392.27 100.90,396.41 105.50,396.41" fill="#ff0000"/><polyline points="159.00,182.30 219.50,181.80" fill="none" stroke="#e06c20" stroke-width="0.9" stroke-linejoin="round" /><polyline points="160.00,189.60 125.50,190.70 124.50,195.00 124.30,200.00 123.50,210.00 121.50,220.00 120.00,228.00 119.00,233.00 117.90,239.88 117.90,247.25 119.50,254.62 116.20,262.00 117.00,269.38 118.70,276.75 119.80,284.12 116.20,291.50 117.30,298.88 116.20,306.25 119.50,313.62 116.20,321.00 118.80,335.75 117.00,350.50 115.50,365.25 115.00,380.00 115.00,394.75" fill="none" stroke="#e06c20" stroke-width="0.9" stroke-linejoin="round" /><rect x="157.76" y="172.90" width="3.2" height="3.2" fill="#e06c20"/><rect x="154.42" y="173.40" width="3.2" height="3.2" fill="#e06c20"/><rect x="154.56" y="173.90" width="3.2" height="3.2" fill="#e06c20"/><rect x="156.58" y="174.40" width="3.2" height="3.2" fill="#e06c20"/><rect x="155.92" y="174.90" width="3.2" height="3.2" fill="#e06c20"/><rect x="160.66" y="175.40" width="3.2" height="3.2" fill="#e06c20"/><rect x="155.06" y="175.90" width="3.2" height="3.2" fill="#e06c20"/><rect x="153.89" y="176.40" width="3.2" height="3.2" fill="#e06c20"/><rect x="161.69" y="176.90" width="3.2" height="3.2" fill="#e06c20"/><rect x="158.14" y="177.40" width="3.2" height="3.2" fill="#e06c20"/><rect x="154.93" y="177.90" width="3.2" height="3.2" fill="#e06c20"/><rect x="158.26" y="178.40" width="3.2" height="3.2" fill="#e06c20"/><rect x="153.93" y="178.90" width="3.2" height="3.2" fill="#e06c20"/><rect x="158.14" y="179.40" width="3.2" height="3.2" fill="#e06c20"/><rect x="161.92" y="179.90" width="3.2" height="3.2" fill="#e06c20"/><rect x="160.95" y="180.40" width="3.2" height="3.2" fill="#e06c20"/><rect x="159.55" y="180.90" width="3.2" height="3.2" fill="#e06c20"/><rect x="155.89" y="181.40" width="3.2" height="3.2" fill="#e06c20"/><rect x="156.78" y="181.90" width="3.2" height="3.2" fill="#e06c20"/><rect x="155.10" y="182.40" width="3.2" height="3.2" fill="#e06c20"/><rect x="160.18" y="182.90" width="3.2" height="3.2" fill="#e06c20"/><rect x="158.17" y="183.40" width="3.2" height="3.2" fill="#e06c20"/><rect x="160.24" y="183.90" width="3.2" height="3.2" fill="#e06c20"/><rect x="156.47" y="184.40" width="3.2" height="3.2" fill="#e06c20"/><rect x="155.57" y="184.90" width="3.2" height="3.2" fill="#e06c20"/><rect x="160.52" y="185.40" width="3.2" height="3.2" fill="#e06c20"/><rect x="161.97" y="185.90" width="3.2" height="3.2" fill="#e06c20"/><rect x="160.86" y="186.40" width="3.2" height="3.2" fill="#e06c20"/><rect x="160.47" y="186.90" width="3.2" height="3.2" fill="#e06c20"/><rect x="160.57" y="187.40" width="3.2" height="3.2" fill="#e06c20"/><rect x="159.91" y="187.90" width="3.2" height="3.2" fill="#e06c20"/><rect x="217.90" y="180.20" width="3.2" height="3.2" fill="#e06c20"/><rect x="165.80" y="185.20" width="3.2" height="3.2" fill="#e06c20"/><rect x="123.24" y="189.10" width="3.2" height="3.2" fill="#e06c20"/><rect x="123.69" y="190.17" width="3.2" height="3.2" fill="#e06c20"/><rect x="123.05" y="191.25" width="3.2" height="3.2" fill="#e06c20"/><rect x="122.02" y="192.33" width="3.2" height="3.2" fill="#e06c20"/><rect x="121.77" y="193.40" width="3.2" height="3.2" fill="#e06c20"/><rect x="122.33" y="194.40" width="3.2" height="3.2" fill="#e06c20"/><rect x="122.24" y="195.40" width="3.2" height="3.2" fill="#e06c20"/><rect x="123.24" y="196.40" width="3.2" height="3.2" fill="#e06c20"/><rect x="123.84" y="197.40" width="3.2" height="3.2" fill="#e06c20"/><rect x="122.57" y="198.40" width="3.2" height="3.2" fill="#e06c20"/><rect x="123.68" y="199.31" width="3.2" height="3.2" fill="#e06c20"/><rect x="123.73" y="200.22" width="3.2" height="3.2" fill="#e06c20"/><rect x="123.57" y="201.13" width="3.2" height="3.2" fill="#e06c20"/><rect x="122.08" y="202.04" width="3.2" height="3.2" fill="#e06c20"/><rect x="121.67" y="202.95" width="3.2" height="3.2" fill="#e06c20"/><rect x="121.61" y="203.85" width="3.2" height="3.2" fill="#e06c20"/><rect x="121.46" y="204.76" width="3.2" height="3.2" fill="#e06c20"/><rect x="121.41" y="205.67" width="3.2" height="3.2" fill="#e06c20"/><rect x="122.34" y="206.58" width="3.2" height="3.2" fill="#e06c20"/><rect x="122.93" y="207.49" width="3.2" height="3.2" fill="#e06c20"/><rect x="122.72" y="208.40" width="3.2" height="3.2" fill="#e06c20"/><rect x="121.67" y="209.31" width="3.2" height="3.2" fill="#e06c20"/><rect x="121.90" y="210.22" width="3.2" height="3.2" fill="#e06c20"/><rect x="122.07" y="211.13" width="3.2" height="3.2" fill="#e06c20"/><rect x="120.18" y="212.04" width="3.2" height="3.2" fill="#e06c20"/><rect x="121.38" y="212.95" width="3.2" height="3.2" fill="#e06c20"/><rect x="121.79" y="213.85" width="3.2" height="3.2" fill="#e06c20"/><rect x="121.30" y="214.76" width="3.2" height="3.2" fill="#e06c20"/><rect x="121.05" y="215.67" width="3.2" height="3.2" fill="#e06c20"/><rect x="120.21" y="216.58" width="3.2" height="3.2" fill="#e06c20"/><rect x="119.31" y="217.49" width="3.2" height="3.2" fill="#e06c20"/><rect x="120.59" y="218.40" width="3.2" height="3.2" fill="#e06c20"/><rect x="119.33" y="219.29" width="3.2" height="3.2" fill="#e06c20"/><rect x="120.29" y="220.18" width="3.2" height="3.2" fill="#e06c20"/><rect x="120.53" y="221.07" width="3.2" height="3.2" fill="#e06c20"/><rect x="118.98" y="221.96" width="3.2" height="3.2" fill="#e06c20"/><rect x="118.83" y="222.84" width="3.2" height="3.2" fill="#e06c20"/><rect x="119.97" y="223.73" width="3.2" height="3.2" fill="#e06c20"/><rect x="119.27" y="224.62" width="3.2" height="3.2" fill="#e06c20"/><rect x="117.77" y="225.51" width="3.2" height="3.2" fill="#e06c20"/><rect x="117.50" y="226.40" width="3.2" height="3.2" fill="#e06c20"/><rect x="117.36" y="227.40" width="3.2" height="3.2" fill="#e06c20"/><rect x="118.97" y="228.40" width="3.2" height="3.2" fill="#e06c20"/><rect x="118.54" y="229.40" width="3.2" height="3.2" fill="#e06c20"/><rect x="116.75" y="230.40" width="3.2" height="3.2" fill="#e06c20"/><rect x="117.40" y="231.40" width="3.2" height="3.2" fill="#e06c20"/><rect x="127.30" y="210.40" width="3.2" height="3.2" fill="#e06c20"/><rect x="126.00" y="201.50" width="3.0" height="3.0" fill="#e06c20"/><rect x="116.30" y="238.28" width="3.2" height="3.2" fill="#e06c20"/><rect x="116.30" y="245.65" width="3.2" height="3.2" fill="#e06c20"/><rect x="117.90" y="253.03" width="3.2" height="3.2" fill="#e06c20"/><rect x="114.60" y="260.40" width="3.2" height="3.2" fill="#e06c20"/><rect x="115.40" y="267.77" width="3.2" height="3.2" fill="#e06c20"/><rect x="117.10" y="275.15" width="3.2" height="3.2" fill="#e06c20"/><rect x="118.20" y="282.52" width="3.2" height="3.2" fill="#e06c20"/><rect x="114.60" y="289.90" width="3.2" height="3.2" fill="#e06c20"/><rect x="115.70" y="297.27" width="3.2" height="3.2" fill="#e06c20"/><rect x="114.60" y="304.65" width="3.2" height="3.2" fill="#e06c20"/><rect x="117.90" y="312.02" width="3.2" height="3.2" fill="#e06c20"/><rect x="114.60" y="319.40" width="3.2" height="3.2" fill="#e06c20"/><rect x="117.20" y="334.15" width="3.2" height="3.2" fill="#e06c20"/><rect x="115.40" y="348.90" width="3.2" height="3.2" fill="#e06c20"/><rect x="113.90" y="363.65" width="3.2" height="3.2" fill="#e06c20"/><rect x="113.40" y="378.40" width="3.2" height="3.2" fill="#e06c20"/><rect x="113.40" y="393.15" width="3.2" height="3.2" fill="#e06c20"/><polyline points="146.00,189.60 138.70,188.60 99.40,190.20 98.50,190.50 97.20,195.00 96.60,205.00 96.60,215.00 96.80,225.00 96.60,233.00 96.50,239.88 96.50,247.25 96.50,254.62 96.50,262.00 96.50,269.38 96.60,276.75 96.80,284.12 96.80,291.50 96.80,298.88 96.80,306.25 96.80,313.62 96.80,321.00 96.80,335.75 96.80,350.50 96.80,365.25 96.80,380.00 96.80,394.75" fill="none" stroke="#b4aa2c" stroke-width="0.9" stroke-linejoin="round" /><rect x="146.64" y="172.90" width="3.2" height="3.2" fill="#b4aa2c"/><rect x="147.31" y="173.60" width="3.2" height="3.2" fill="#b4aa2c"/><rect x="145.89" y="174.30" width="3.2" height="3.2" fill="#b4aa2c"/><rect x="144.54" y="175.00" width="3.2" height="3.2" fill="#b4aa2c"/><rect x="145.41" y="175.70" width="3.2" height="3.2" fill="#b4aa2c"/><rect x="143.58" y="176.40" width="3.2" height="3.2" fill="#b4aa2c"/><rect x="143.06" y="177.10" width="3.2" height="3.2" fill="#b4aa2c"/><rect x="147.27" y="177.80" width="3.2" height="3.2" fill="#b4aa2c"/><rect x="145.86" y="178.50" width="3.2" height="3.2" fill="#b4aa2c"/><rect x="145.32" y="179.20" width="3.2" height="3.2" fill="#b4aa2c"/><rect x="147.11" y="179.90" width="3.2" height="3.2" fill="#b4aa2c"/><rect x="144.91" y="180.60" width="3.2" height="3.2" fill="#b4aa2c"/><rect x="146.84" y="181.30" width="3.2" height="3.2" fill="#b4aa2c"/><rect x="146.64" y="182.00" width="3.2" height="3.2" fill="#b4aa2c"/><rect x="143.93" y="182.70" width="3.2" height="3.2" fill="#b4aa2c"/><rect x="144.11" y="183.40" width="3.2" height="3.2" fill="#b4aa2c"/><rect x="144.29" y="184.10" width="3.2" height="3.2" fill="#b4aa2c"/><rect x="144.06" y="184.80" width="3.2" height="3.2" fill="#b4aa2c"/><rect x="145.58" y="185.50" width="3.2" height="3.2" fill="#b4aa2c"/><rect x="144.14" y="186.20" width="3.2" height="3.2" fill="#b4aa2c"/><rect x="144.84" y="186.90" width="3.2" height="3.2" fill="#b4aa2c"/><rect x="143.58" y="187.60" width="3.2" height="3.2" fill="#b4aa2c"/><rect x="147.00" y="188.30" width="3.2" height="3.2" fill="#b4aa2c"/><rect x="137.10" y="187.00" width="3.2" height="3.2" fill="#b4aa2c"/><rect x="97.80" y="188.60" width="3.2" height="3.2" fill="#b4aa2c"/><rect x="96.47" y="188.65" width="3.7" height="3.7" fill="#b4aa2c"/><rect x="96.34" y="189.55" width="3.7" height="3.7" fill="#b4aa2c"/><rect x="96.23" y="190.45" width="3.7" height="3.7" fill="#b4aa2c"/><rect x="96.36" y="191.35" width="3.7" height="3.7" fill="#b4aa2c"/><rect x="95.51" y="192.25" width="3.7" height="3.7" fill="#b4aa2c"/><rect x="95.85" y="193.15" width="3.7" height="3.7" fill="#b4aa2c"/><rect x="95.30" y="194.06" width="3.7" height="3.7" fill="#b4aa2c"/><rect x="95.28" y="194.97" width="3.7" height="3.7" fill="#b4aa2c"/><rect x="95.21" y="195.88" width="3.7" height="3.7" fill="#b4aa2c"/><rect x="94.55" y="196.79" width="3.7" height="3.7" fill="#b4aa2c"/><rect x="95.01" y="197.70" width="3.7" height="3.7" fill="#b4aa2c"/><rect x="94.64" y="198.60" width="3.7" height="3.7" fill="#b4aa2c"/><rect x="94.37" y="199.51" width="3.7" height="3.7" fill="#b4aa2c"/><rect x="95.27" y="200.42" width="3.7" height="3.7" fill="#b4aa2c"/><rect x="94.47" y="201.33" width="3.7" height="3.7" fill="#b4aa2c"/><rect x="94.77" y="202.24" width="3.7" height="3.7" fill="#b4aa2c"/><rect x="95.02" y="203.15" width="3.7" height="3.7" fill="#b4aa2c"/><rect x="94.82" y="204.06" width="3.7" height="3.7" fill="#b4aa2c"/><rect x="94.54" y="204.97" width="3.7" height="3.7" fill="#b4aa2c"/><rect x="94.77" y="205.88" width="3.7" height="3.7" fill="#b4aa2c"/><rect x="94.82" y="206.79" width="3.7" height="3.7" fill="#b4aa2c"/><rect x="95.09" y="207.70" width="3.7" height="3.7" fill="#b4aa2c"/><rect x="94.28" y="208.60" width="3.7" height="3.7" fill="#b4aa2c"/><rect x="94.82" y="209.51" width="3.7" height="3.7" fill="#b4aa2c"/><rect x="94.45" y="210.42" width="3.7" height="3.7" fill="#b4aa2c"/><rect x="94.48" y="211.33" width="3.7" height="3.7" fill="#b4aa2c"/><rect x="95.08" y="212.24" width="3.7" height="3.7" fill="#b4aa2c"/><rect x="94.76" y="213.15" width="3.7" height="3.7" fill="#b4aa2c"/><rect x="94.84" y="214.06" width="3.7" height="3.7" fill="#b4aa2c"/><rect x="95.10" y="214.97" width="3.7" height="3.7" fill="#b4aa2c"/><rect x="95.30" y="215.88" width="3.7" height="3.7" fill="#b4aa2c"/><rect x="94.75" y="216.79" width="3.7" height="3.7" fill="#b4aa2c"/><rect x="94.98" y="217.70" width="3.7" height="3.7" fill="#b4aa2c"/><rect x="94.87" y="218.60" width="3.7" height="3.7" fill="#b4aa2c"/><rect x="94.89" y="219.51" width="3.7" height="3.7" fill="#b4aa2c"/><rect x="95.13" y="220.42" width="3.7" height="3.7" fill="#b4aa2c"/><rect x="94.86" y="221.33" width="3.7" height="3.7" fill="#b4aa2c"/><rect x="94.97" y="222.24" width="3.7" height="3.7" fill="#b4aa2c"/><rect x="94.92" y="223.15" width="3.7" height="3.7" fill="#b4aa2c"/><rect x="95.45" y="224.15" width="3.7" height="3.7" fill="#b4aa2c"/><rect x="95.14" y="225.15" width="3.7" height="3.7" fill="#b4aa2c"/><rect x="95.33" y="226.15" width="3.7" height="3.7" fill="#b4aa2c"/><rect x="95.38" y="227.15" width="3.7" height="3.7" fill="#b4aa2c"/><rect x="94.54" y="228.15" width="3.7" height="3.7" fill="#b4aa2c"/><rect x="94.87" y="229.15" width="3.7" height="3.7" fill="#b4aa2c"/><rect x="95.31" y="230.15" width="3.7" height="3.7" fill="#b4aa2c"/><rect x="94.75" y="231.15" width="3.7" height="3.7" fill="#b4aa2c"/><rect x="94.90" y="238.28" width="3.2" height="3.2" fill="#b4aa2c"/><rect x="94.90" y="245.65" width="3.2" height="3.2" fill="#b4aa2c"/><rect x="94.90" y="253.03" width="3.2" height="3.2" fill="#b4aa2c"/><rect x="94.90" y="260.40" width="3.2" height="3.2" fill="#b4aa2c"/><rect x="94.90" y="267.77" width="3.2" height="3.2" fill="#b4aa2c"/><rect x="95.00" y="275.15" width="3.2" height="3.2" fill="#b4aa2c"/><rect x="95.20" y="282.52" width="3.2" height="3.2" fill="#b4aa2c"/><rect x="95.20" y="289.90" width="3.2" height="3.2" fill="#b4aa2c"/><rect x="95.20" y="297.27" width="3.2" height="3.2" fill="#b4aa2c"/><rect x="95.20" y="304.65" width="3.2" height="3.2" fill="#b4aa2c"/><rect x="95.20" y="312.02" width="3.2" height="3.2" fill="#b4aa2c"/><rect x="95.20" y="319.40" width="3.2" height="3.2" fill="#b4aa2c"/><rect x="95.20" y="334.15" width="3.2" height="3.2" fill="#b4aa2c"/><rect x="95.20" y="348.90" width="3.2" height="3.2" fill="#b4aa2c"/><rect x="95.20" y="363.65" width="3.2" height="3.2" fill="#b4aa2c"/><rect x="95.20" y="378.40" width="3.2" height="3.2" fill="#b4aa2c"/><rect x="95.20" y="393.15" width="3.2" height="3.2" fill="#b4aa2c"/><polyline points="227.00,174.00 227.00,180.00 226.80,185.00 225.00,187.80 221.00,189.00 209.00,190.00 203.20,191.90 198.30,193.30 193.70,195.20 189.40,196.80 185.50,198.80 181.50,200.40 176.60,202.30 171.70,204.30 166.70,206.30 161.80,208.30 156.90,209.60 152.00,211.60 149.70,212.60 145.30,214.00 141.40,215.60 137.50,217.30 133.90,219.30 130.90,221.30 127.60,223.00 124.30,224.60 121.00,226.50 116.40,229.80 113.80,233.10 108.50,239.90 103.00,247.25 98.20,254.62 95.70,262.00 93.20,269.38 92.00,276.75 90.90,284.12 90.00,291.50 89.00,298.88 88.00,306.25 87.60,313.62 87.20,321.00 86.90,335.75 87.20,350.50 88.00,365.25 88.70,380.00 90.00,394.75" fill="none" stroke="#1a962a" stroke-width="0.9" stroke-linejoin="round" /><circle cx="227.00" cy="174.00" r="1.9" fill="#1a962a"/><circle cx="227.00" cy="174.75" r="1.9" fill="#1a962a"/><circle cx="227.00" cy="175.50" r="1.9" fill="#1a962a"/><circle cx="227.00" cy="176.25" r="1.9" fill="#1a962a"/><circle cx="227.00" cy="177.00" r="1.9" fill="#1a962a"/><circle cx="227.00" cy="177.75" r="1.9" fill="#1a962a"/><circle cx="227.00" cy="178.50" r="1.9" fill="#1a962a"/><circle cx="227.00" cy="179.25" r="1.9" fill="#1a962a"/><circle cx="227.00" cy="180.00" r="1.9" fill="#1a962a"/><circle cx="226.97" cy="180.71" r="1.9" fill="#1a962a"/><circle cx="226.94" cy="181.43" r="1.9" fill="#1a962a"/><circle cx="226.91" cy="182.14" r="1.9" fill="#1a962a"/><circle cx="226.89" cy="182.86" r="1.9" fill="#1a962a"/><circle cx="226.86" cy="183.57" r="1.9" fill="#1a962a"/><circle cx="226.83" cy="184.29" r="1.9" fill="#1a962a"/><circle cx="226.80" cy="185.00" r="1.9" fill="#1a962a"/><circle cx="226.35" cy="185.70" r="1.9" fill="#1a962a"/><circle cx="225.90" cy="186.40" r="1.9" fill="#1a962a"/><circle cx="225.45" cy="187.10" r="1.9" fill="#1a962a"/><circle cx="225.00" cy="187.80" r="1.9" fill="#1a962a"/><circle cx="224.20" cy="188.04" r="1.9" fill="#1a962a"/><circle cx="223.40" cy="188.28" r="1.9" fill="#1a962a"/><circle cx="222.60" cy="188.52" r="1.9" fill="#1a962a"/><circle cx="221.80" cy="188.76" r="1.9" fill="#1a962a"/><circle cx="221.00" cy="189.00" r="1.9" fill="#1a962a"/><rect x="201.50" y="190.20" width="3.4" height="3.4" fill="#1a962a"/><rect x="196.60" y="191.60" width="3.4" height="3.4" fill="#1a962a"/><rect x="192.00" y="193.50" width="3.4" height="3.4" fill="#1a962a"/><rect x="187.70" y="195.10" width="3.4" height="3.4" fill="#1a962a"/><rect x="183.80" y="197.10" width="3.4" height="3.4" fill="#1a962a"/><rect x="179.80" y="198.70" width="3.4" height="3.4" fill="#1a962a"/><rect x="174.90" y="200.60" width="3.4" height="3.4" fill="#1a962a"/><rect x="170.00" y="202.60" width="3.4" height="3.4" fill="#1a962a"/><rect x="165.00" y="204.60" width="3.4" height="3.4" fill="#1a962a"/><rect x="160.10" y="206.60" width="3.4" height="3.4" fill="#1a962a"/><rect x="155.20" y="207.90" width="3.4" height="3.4" fill="#1a962a"/><rect x="150.30" y="209.90" width="3.4" height="3.4" fill="#1a962a"/><rect x="148.00" y="210.90" width="3.4" height="3.4" fill="#1a962a"/><rect x="143.60" y="212.30" width="3.4" height="3.4" fill="#1a962a"/><rect x="139.70" y="213.90" width="3.4" height="3.4" fill="#1a962a"/><rect x="135.80" y="215.60" width="3.4" height="3.4" fill="#1a962a"/><rect x="132.20" y="217.60" width="3.4" height="3.4" fill="#1a962a"/><rect x="129.20" y="219.60" width="3.4" height="3.4" fill="#1a962a"/><rect x="125.90" y="221.30" width="3.4" height="3.4" fill="#1a962a"/><rect x="122.60" y="222.90" width="3.4" height="3.4" fill="#1a962a"/><rect x="119.30" y="224.80" width="3.4" height="3.4" fill="#1a962a"/><rect x="114.70" y="228.10" width="3.4" height="3.4" fill="#1a962a"/><rect x="112.10" y="231.40" width="3.4" height="3.4" fill="#1a962a"/><rect x="106.80" y="238.20" width="3.4" height="3.4" fill="#1a962a"/><rect x="101.30" y="245.55" width="3.4" height="3.4" fill="#1a962a"/><rect x="96.50" y="252.93" width="3.4" height="3.4" fill="#1a962a"/><rect x="94.00" y="260.30" width="3.4" height="3.4" fill="#1a962a"/><rect x="91.50" y="267.68" width="3.4" height="3.4" fill="#1a962a"/><rect x="90.30" y="275.05" width="3.4" height="3.4" fill="#1a962a"/><rect x="89.20" y="282.43" width="3.4" height="3.4" fill="#1a962a"/><rect x="88.30" y="289.80" width="3.4" height="3.4" fill="#1a962a"/><rect x="87.30" y="297.18" width="3.4" height="3.4" fill="#1a962a"/><rect x="86.30" y="304.55" width="3.4" height="3.4" fill="#1a962a"/><rect x="85.90" y="311.93" width="3.4" height="3.4" fill="#1a962a"/><rect x="85.50" y="319.30" width="3.4" height="3.4" fill="#1a962a"/><rect x="85.20" y="334.05" width="3.4" height="3.4" fill="#1a962a"/><rect x="85.50" y="348.80" width="3.4" height="3.4" fill="#1a962a"/><rect x="86.30" y="363.55" width="3.4" height="3.4" fill="#1a962a"/><rect x="87.00" y="378.30" width="3.4" height="3.4" fill="#1a962a"/><rect x="88.30" y="393.05" width="3.4" height="3.4" fill="#1a962a"/><polyline points="128.00,174.50 128.30,180.00 128.50,188.70 132.00,190.00 150.00,190.50 157.90,192.90 161.80,194.50 166.70,196.40 171.30,198.40 176.00,200.40 180.50,202.30 184.50,203.70 188.40,205.10 192.40,206.70 197.30,208.30 202.20,210.00 207.10,211.80 212.10,213.60 217.00,215.50 220.90,217.10 225.90,219.50 229.80,222.40 234.30,226.40 240.60,230.30 242.20,233.30 248.50,240.20 251.20,248.00 255.60,255.40 258.00,262.80 259.00,269.70 260.00,277.50 260.50,284.12 261.10,291.50 262.00,298.88 263.30,306.25 263.30,313.62 263.00,321.00 263.90,335.75 263.30,350.50 263.30,365.25 263.30,380.00 261.90,394.75" fill="none" stroke="#941a94" stroke-width="0.9" stroke-linejoin="round" /><rect x="126.31" y="172.80" width="3.4" height="3.4" fill="#941a94"/><rect x="126.21" y="173.59" width="3.4" height="3.4" fill="#941a94"/><rect x="126.14" y="174.37" width="3.4" height="3.4" fill="#941a94"/><rect x="126.28" y="175.16" width="3.4" height="3.4" fill="#941a94"/><rect x="126.65" y="175.94" width="3.4" height="3.4" fill="#941a94"/><rect x="126.13" y="176.73" width="3.4" height="3.4" fill="#941a94"/><rect x="126.60" y="177.51" width="3.4" height="3.4" fill="#941a94"/><rect x="126.55" y="178.30" width="3.4" height="3.4" fill="#941a94"/><rect x="126.23" y="179.03" width="3.4" height="3.4" fill="#941a94"/><rect x="126.50" y="179.75" width="3.4" height="3.4" fill="#941a94"/><rect x="126.75" y="180.48" width="3.4" height="3.4" fill="#941a94"/><rect x="126.68" y="181.20" width="3.4" height="3.4" fill="#941a94"/><rect x="126.33" y="181.93" width="3.4" height="3.4" fill="#941a94"/><rect x="127.09" y="182.65" width="3.4" height="3.4" fill="#941a94"/><rect x="126.95" y="183.38" width="3.4" height="3.4" fill="#941a94"/><rect x="127.11" y="184.10" width="3.4" height="3.4" fill="#941a94"/><rect x="126.43" y="184.82" width="3.4" height="3.4" fill="#941a94"/><rect x="126.58" y="185.55" width="3.4" height="3.4" fill="#941a94"/><rect x="126.42" y="186.28" width="3.4" height="3.4" fill="#941a94"/><rect x="126.80" y="187.00" width="3.4" height="3.4" fill="#941a94"/><rect x="156.20" y="191.20" width="3.4" height="3.4" fill="#941a94"/><rect x="160.10" y="192.80" width="3.4" height="3.4" fill="#941a94"/><rect x="165.00" y="194.70" width="3.4" height="3.4" fill="#941a94"/><rect x="169.60" y="196.70" width="3.4" height="3.4" fill="#941a94"/><rect x="174.30" y="198.70" width="3.4" height="3.4" fill="#941a94"/><rect x="178.80" y="200.60" width="3.4" height="3.4" fill="#941a94"/><rect x="182.80" y="202.00" width="3.4" height="3.4" fill="#941a94"/><rect x="186.70" y="203.40" width="3.4" height="3.4" fill="#941a94"/><rect x="190.70" y="205.00" width="3.4" height="3.4" fill="#941a94"/><rect x="195.60" y="206.60" width="3.4" height="3.4" fill="#941a94"/><rect x="200.50" y="208.30" width="3.4" height="3.4" fill="#941a94"/><rect x="205.40" y="210.10" width="3.4" height="3.4" fill="#941a94"/><rect x="210.40" y="211.90" width="3.4" height="3.4" fill="#941a94"/><rect x="215.30" y="213.80" width="3.4" height="3.4" fill="#941a94"/><rect x="219.20" y="215.40" width="3.4" height="3.4" fill="#941a94"/><rect x="224.20" y="217.80" width="3.4" height="3.4" fill="#941a94"/><rect x="228.10" y="220.70" width="3.4" height="3.4" fill="#941a94"/><rect x="232.60" y="224.70" width="3.4" height="3.4" fill="#941a94"/><rect x="238.90" y="228.60" width="3.4" height="3.4" fill="#941a94"/><rect x="240.50" y="231.60" width="3.4" height="3.4" fill="#941a94"/><rect x="246.80" y="238.50" width="3.4" height="3.4" fill="#941a94"/><rect x="249.50" y="246.30" width="3.4" height="3.4" fill="#941a94"/><rect x="253.90" y="253.70" width="3.4" height="3.4" fill="#941a94"/><rect x="256.30" y="261.10" width="3.4" height="3.4" fill="#941a94"/><rect x="257.30" y="268.00" width="3.4" height="3.4" fill="#941a94"/><rect x="258.30" y="275.80" width="3.4" height="3.4" fill="#941a94"/><rect x="258.80" y="282.43" width="3.4" height="3.4" fill="#941a94"/><rect x="259.40" y="289.80" width="3.4" height="3.4" fill="#941a94"/><rect x="260.30" y="297.18" width="3.4" height="3.4" fill="#941a94"/><rect x="261.60" y="304.55" width="3.4" height="3.4" fill="#941a94"/><rect x="261.60" y="311.93" width="3.4" height="3.4" fill="#941a94"/><rect x="261.30" y="319.30" width="3.4" height="3.4" fill="#941a94"/><rect x="262.20" y="334.05" width="3.4" height="3.4" fill="#941a94"/><rect x="261.60" y="348.80" width="3.4" height="3.4" fill="#941a94"/><rect x="261.60" y="363.55" width="3.4" height="3.4" fill="#941a94"/><rect x="261.60" y="378.30" width="3.4" height="3.4" fill="#941a94"/><rect x="260.20" y="393.05" width="3.4" height="3.4" fill="#941a94"/><line x1="76.00" y1="173.90" x2="274.00" y2="173.90" stroke="#ff0000" stroke-width="1.8" /><rect x="306.1" y="173.5" width="86.89999999999998" height="324.5" fill="#cff0fa"/><line x1="364.03" y1="173.50" x2="364.03" y2="498.00" stroke="#e8c8d0" stroke-width="0.8" /><line x1="306.10" y1="173.50" x2="306.10" y2="498.00" stroke="#5e5c00" stroke-width="2" /><line x1="306.10" y1="173.50" x2="300.60" y2="173.50" stroke="#5e5c00" stroke-width="1.5" /><line x1="306.10" y1="180.88" x2="303.30" y2="180.88" stroke="#5e5c00" stroke-width="1.5" /><line x1="306.10" y1="188.25" x2="303.30" y2="188.25" stroke="#5e5c00" stroke-width="1.5" /><line x1="306.10" y1="195.62" x2="303.30" y2="195.62" stroke="#5e5c00" stroke-width="1.5" /><line x1="306.10" y1="203.00" x2="300.60" y2="203.00" stroke="#5e5c00" stroke-width="1.5" /><line x1="306.10" y1="210.38" x2="303.30" y2="210.38" stroke="#5e5c00" stroke-width="1.5" /><line x1="306.10" y1="217.75" x2="303.30" y2="217.75" stroke="#5e5c00" stroke-width="1.5" /><line x1="306.10" y1="225.12" x2="303.30" y2="225.12" stroke="#5e5c00" stroke-width="1.5" /><line x1="306.10" y1="232.50" x2="300.60" y2="232.50" stroke="#5e5c00" stroke-width="1.5" /><line x1="306.10" y1="239.88" x2="303.30" y2="239.88" stroke="#5e5c00" stroke-width="1.5" /><line x1="306.10" y1="247.25" x2="303.30" y2="247.25" stroke="#5e5c00" stroke-width="1.5" /><line x1="306.10" y1="254.62" x2="303.30" y2="254.62" stroke="#5e5c00" stroke-width="1.5" /><line x1="306.10" y1="262.00" x2="300.60" y2="262.00" stroke="#5e5c00" stroke-width="1.5" /><line x1="306.10" y1="269.38" x2="303.30" y2="269.38" stroke="#5e5c00" stroke-width="1.5" /><line x1="306.10" y1="276.75" x2="303.30" y2="276.75" stroke="#5e5c00" stroke-width="1.5" /><line x1="306.10" y1="284.12" x2="303.30" y2="284.12" stroke="#5e5c00" stroke-width="1.5" /><line x1="306.10" y1="291.50" x2="300.60" y2="291.50" stroke="#5e5c00" stroke-width="1.5" /><line x1="306.10" y1="298.88" x2="303.30" y2="298.88" stroke="#5e5c00" stroke-width="1.5" /><line x1="306.10" y1="306.25" x2="303.30" y2="306.25" stroke="#5e5c00" stroke-width="1.5" /><line x1="306.10" y1="313.62" x2="303.30" y2="313.62" stroke="#5e5c00" stroke-width="1.5" /><line x1="306.10" y1="321.00" x2="300.60" y2="321.00" stroke="#5e5c00" stroke-width="1.5" /><line x1="306.10" y1="328.38" x2="303.30" y2="328.38" stroke="#5e5c00" stroke-width="1.5" /><line x1="306.10" y1="335.75" x2="303.30" y2="335.75" stroke="#5e5c00" stroke-width="1.5" /><line x1="306.10" y1="343.12" x2="303.30" y2="343.12" stroke="#5e5c00" stroke-width="1.5" /><line x1="306.10" y1="350.50" x2="300.60" y2="350.50" stroke="#5e5c00" stroke-width="1.5" /><line x1="306.10" y1="357.88" x2="303.30" y2="357.88" stroke="#5e5c00" stroke-width="1.5" /><line x1="306.10" y1="365.25" x2="303.30" y2="365.25" stroke="#5e5c00" stroke-width="1.5" /><line x1="306.10" y1="372.62" x2="303.30" y2="372.62" stroke="#5e5c00" stroke-width="1.5" /><line x1="306.10" y1="380.00" x2="300.60" y2="380.00" stroke="#5e5c00" stroke-width="1.5" /><line x1="306.10" y1="387.38" x2="303.30" y2="387.38" stroke="#5e5c00" stroke-width="1.5" /><line x1="306.10" y1="394.75" x2="303.30" y2="394.75" stroke="#5e5c00" stroke-width="1.5" /><line x1="306.10" y1="402.12" x2="303.30" y2="402.12" stroke="#5e5c00" stroke-width="1.5" /><line x1="306.10" y1="409.50" x2="300.60" y2="409.50" stroke="#5e5c00" stroke-width="1.5" /><line x1="306.10" y1="416.88" x2="303.30" y2="416.88" stroke="#5e5c00" stroke-width="1.5" /><line x1="306.10" y1="424.25" x2="303.30" y2="424.25" stroke="#5e5c00" stroke-width="1.5" /><line x1="306.10" y1="431.62" x2="303.30" y2="431.62" stroke="#5e5c00" stroke-width="1.5" /><line x1="306.10" y1="439.00" x2="300.60" y2="439.00" stroke="#5e5c00" stroke-width="1.5" /><line x1="306.10" y1="446.38" x2="303.30" y2="446.38" stroke="#5e5c00" stroke-width="1.5" /><line x1="306.10" y1="453.75" x2="303.30" y2="453.75" stroke="#5e5c00" stroke-width="1.5" /><line x1="306.10" y1="461.12" x2="303.30" y2="461.12" stroke="#5e5c00" stroke-width="1.5" /><line x1="306.10" y1="468.50" x2="300.60" y2="468.50" stroke="#5e5c00" stroke-width="1.5" /><line x1="306.10" y1="475.88" x2="303.30" y2="475.88" stroke="#5e5c00" stroke-width="1.5" /><line x1="306.10" y1="483.25" x2="303.30" y2="483.25" stroke="#5e5c00" stroke-width="1.5" /><line x1="306.10" y1="490.62" x2="303.30" y2="490.62" stroke="#5e5c00" stroke-width="1.5" /><line x1="306.10" y1="498.00" x2="300.60" y2="498.00" stroke="#5e5c00" stroke-width="1.5" /><line x1="393.00" y1="173.50" x2="393.00" y2="498.00" stroke="#5e5c00" stroke-width="2" /><line x1="393.00" y1="173.50" x2="398.50" y2="173.50" stroke="#5e5c00" stroke-width="1.5" /><line x1="393.00" y1="180.88" x2="395.80" y2="180.88" stroke="#5e5c00" stroke-width="1.5" /><line x1="393.00" y1="188.25" x2="395.80" y2="188.25" stroke="#5e5c00" stroke-width="1.5" /><line x1="393.00" y1="195.62" x2="395.80" y2="195.62" stroke="#5e5c00" stroke-width="1.5" /><line x1="393.00" y1="203.00" x2="398.50" y2="203.00" stroke="#5e5c00" stroke-width="1.5" /><line x1="393.00" y1="210.38" x2="395.80" y2="210.38" stroke="#5e5c00" stroke-width="1.5" /><line x1="393.00" y1="217.75" x2="395.80" y2="217.75" stroke="#5e5c00" stroke-width="1.5" /><line x1="393.00" y1="225.12" x2="395.80" y2="225.12" stroke="#5e5c00" stroke-width="1.5" /><line x1="393.00" y1="232.50" x2="398.50" y2="232.50" stroke="#5e5c00" stroke-width="1.5" /><line x1="393.00" y1="239.88" x2="395.80" y2="239.88" stroke="#5e5c00" stroke-width="1.5" /><line x1="393.00" y1="247.25" x2="395.80" y2="247.25" stroke="#5e5c00" stroke-width="1.5" /><line x1="393.00" y1="254.62" x2="395.80" y2="254.62" stroke="#5e5c00" stroke-width="1.5" /><line x1="393.00" y1="262.00" x2="398.50" y2="262.00" stroke="#5e5c00" stroke-width="1.5" /><line x1="393.00" y1="269.38" x2="395.80" y2="269.38" stroke="#5e5c00" stroke-width="1.5" /><line x1="393.00" y1="276.75" x2="395.80" y2="276.75" stroke="#5e5c00" stroke-width="1.5" /><line x1="393.00" y1="284.12" x2="395.80" y2="284.12" stroke="#5e5c00" stroke-width="1.5" /><line x1="393.00" y1="291.50" x2="398.50" y2="291.50" stroke="#5e5c00" stroke-width="1.5" /><line x1="393.00" y1="298.88" x2="395.80" y2="298.88" stroke="#5e5c00" stroke-width="1.5" /><line x1="393.00" y1="306.25" x2="395.80" y2="306.25" stroke="#5e5c00" stroke-width="1.5" /><line x1="393.00" y1="313.62" x2="395.80" y2="313.62" stroke="#5e5c00" stroke-width="1.5" /><line x1="393.00" y1="321.00" x2="398.50" y2="321.00" stroke="#5e5c00" stroke-width="1.5" /><line x1="393.00" y1="328.38" x2="395.80" y2="328.38" stroke="#5e5c00" stroke-width="1.5" /><line x1="393.00" y1="335.75" x2="395.80" y2="335.75" stroke="#5e5c00" stroke-width="1.5" /><line x1="393.00" y1="343.12" x2="395.80" y2="343.12" stroke="#5e5c00" stroke-width="1.5" /><line x1="393.00" y1="350.50" x2="398.50" y2="350.50" stroke="#5e5c00" stroke-width="1.5" /><line x1="393.00" y1="357.88" x2="395.80" y2="357.88" stroke="#5e5c00" stroke-width="1.5" /><line x1="393.00" y1="365.25" x2="395.80" y2="365.25" stroke="#5e5c00" stroke-width="1.5" /><line x1="393.00" y1="372.62" x2="395.80" y2="372.62" stroke="#5e5c00" stroke-width="1.5" /><line x1="393.00" y1="380.00" x2="398.50" y2="380.00" stroke="#5e5c00" stroke-width="1.5" /><line x1="393.00" y1="387.38" x2="395.80" y2="387.38" stroke="#5e5c00" stroke-width="1.5" /><line x1="393.00" y1="394.75" x2="395.80" y2="394.75" stroke="#5e5c00" stroke-width="1.5" /><line x1="393.00" y1="402.12" x2="395.80" y2="402.12" stroke="#5e5c00" stroke-width="1.5" /><line x1="393.00" y1="409.50" x2="398.50" y2="409.50" stroke="#5e5c00" stroke-width="1.5" /><line x1="393.00" y1="416.88" x2="395.80" y2="416.88" stroke="#5e5c00" stroke-width="1.5" /><line x1="393.00" y1="424.25" x2="395.80" y2="424.25" stroke="#5e5c00" stroke-width="1.5" /><line x1="393.00" y1="431.62" x2="395.80" y2="431.62" stroke="#5e5c00" stroke-width="1.5" /><line x1="393.00" y1="439.00" x2="398.50" y2="439.00" stroke="#5e5c00" stroke-width="1.5" /><line x1="393.00" y1="446.38" x2="395.80" y2="446.38" stroke="#5e5c00" stroke-width="1.5" /><line x1="393.00" y1="453.75" x2="395.80" y2="453.75" stroke="#5e5c00" stroke-width="1.5" /><line x1="393.00" y1="461.12" x2="395.80" y2="461.12" stroke="#5e5c00" stroke-width="1.5" /><line x1="393.00" y1="468.50" x2="398.50" y2="468.50" stroke="#5e5c00" stroke-width="1.5" /><line x1="393.00" y1="475.88" x2="395.80" y2="475.88" stroke="#5e5c00" stroke-width="1.5" /><line x1="393.00" y1="483.25" x2="395.80" y2="483.25" stroke="#5e5c00" stroke-width="1.5" /><line x1="393.00" y1="490.62" x2="395.80" y2="490.62" stroke="#5e5c00" stroke-width="1.5" /><line x1="393.00" y1="498.00" x2="398.50" y2="498.00" stroke="#5e5c00" stroke-width="1.5" /><line x1="305.10" y1="174.00" x2="394.00" y2="174.00" stroke="#f25858" stroke-width="1.9" /><line x1="306.10" y1="174.00" x2="306.10" y2="168.00" stroke="#f25858" stroke-width="1.3" /><line x1="311.89" y1="174.00" x2="311.89" y2="171.00" stroke="#f25858" stroke-width="1.5" /><line x1="317.69" y1="174.00" x2="317.69" y2="171.00" stroke="#f25858" stroke-width="1.5" /><line x1="323.48" y1="174.00" x2="323.48" y2="171.00" stroke="#f25858" stroke-width="1.5" /><line x1="329.27" y1="174.00" x2="329.27" y2="171.00" stroke="#f25858" stroke-width="1.5" /><line x1="335.07" y1="174.00" x2="335.07" y2="168.00" stroke="#f25858" stroke-width="1.3" /><line x1="340.86" y1="174.00" x2="340.86" y2="171.00" stroke="#f25858" stroke-width="1.5" /><line x1="346.65" y1="174.00" x2="346.65" y2="171.00" stroke="#f25858" stroke-width="1.5" /><line x1="352.45" y1="174.00" x2="352.45" y2="171.00" stroke="#f25858" stroke-width="1.5" /><line x1="358.24" y1="174.00" x2="358.24" y2="171.00" stroke="#f25858" stroke-width="1.5" /><line x1="364.03" y1="174.00" x2="364.03" y2="168.00" stroke="#f25858" stroke-width="1.3" /><line x1="369.83" y1="174.00" x2="369.83" y2="171.00" stroke="#f25858" stroke-width="1.5" /><line x1="375.62" y1="174.00" x2="375.62" y2="171.00" stroke="#f25858" stroke-width="1.5" /><line x1="381.41" y1="174.00" x2="381.41" y2="171.00" stroke="#f25858" stroke-width="1.5" /><line x1="387.21" y1="174.00" x2="387.21" y2="171.00" stroke="#f25858" stroke-width="1.5" /><line x1="393.00" y1="174.00" x2="393.00" y2="168.00" stroke="#f25858" stroke-width="1.3" /><line x1="305.10" y1="498.30" x2="394.00" y2="498.30" stroke="#f25858" stroke-width="1.9" /><line x1="306.10" y1="498.30" x2="306.10" y2="504.30" stroke="#f25858" stroke-width="1.3" /><line x1="311.89" y1="498.30" x2="311.89" y2="501.30" stroke="#f25858" stroke-width="1.5" /><line x1="317.69" y1="498.30" x2="317.69" y2="501.30" stroke="#f25858" stroke-width="1.5" /><line x1="323.48" y1="498.30" x2="323.48" y2="501.30" stroke="#f25858" stroke-width="1.5" /><line x1="329.27" y1="498.30" x2="329.27" y2="501.30" stroke="#f25858" stroke-width="1.5" /><line x1="335.07" y1="498.30" x2="335.07" y2="504.30" stroke="#f25858" stroke-width="1.3" /><line x1="340.86" y1="498.30" x2="340.86" y2="501.30" stroke="#f25858" stroke-width="1.5" /><line x1="346.65" y1="498.30" x2="346.65" y2="501.30" stroke="#f25858" stroke-width="1.5" /><line x1="352.45" y1="498.30" x2="352.45" y2="501.30" stroke="#f25858" stroke-width="1.5" /><line x1="358.24" y1="498.30" x2="358.24" y2="501.30" stroke="#f25858" stroke-width="1.5" /><line x1="364.03" y1="498.30" x2="364.03" y2="504.30" stroke="#f25858" stroke-width="1.3" /><line x1="369.83" y1="498.30" x2="369.83" y2="501.30" stroke="#f25858" stroke-width="1.5" /><line x1="375.62" y1="498.30" x2="375.62" y2="501.30" stroke="#f25858" stroke-width="1.5" /><line x1="381.41" y1="498.30" x2="381.41" y2="501.30" stroke="#f25858" stroke-width="1.5" /><line x1="387.21" y1="498.30" x2="387.21" y2="501.30" stroke="#f25858" stroke-width="1.5" /><line x1="393.00" y1="498.30" x2="393.00" y2="504.30" stroke="#f25858" stroke-width="1.3" /><text x="306.10" y="518.50" fill="#f25858" stroke="#f25858" stroke-width="0.6" font-size="14" text-anchor="middle" >-1.0</text><text x="335.07" y="518.50" fill="#f25858" stroke="#f25858" stroke-width="0.6" font-size="14" text-anchor="middle" >-0.5</text><text x="364.03" y="518.50" fill="#f25858" stroke="#f25858" stroke-width="0.6" font-size="14" text-anchor="middle" >0.0</text><text x="393.00" y="518.50" fill="#f25858" stroke="#f25858" stroke-width="0.6" font-size="14" text-anchor="middle" >0.5</text><text x="349.55" y="537.00" fill="#f25858" stroke="#f25858" stroke-width="0.6" font-size="14" text-anchor="middle" >ΔT= T<tspan dy="-5" font-size="10">Opt</tspan><tspan dy="5"> - T</tspan><tspan dy="-5" font-size="10">SBE</tspan><tspan dy="5"> (˚C)</tspan></text><polyline points="363.50,174.00 363.50,234.00 363.60,239.88 363.60,247.25 363.60,254.62 363.60,262.00 363.60,269.38 363.60,276.75 363.60,284.12 363.60,291.50 363.60,298.88 363.60,306.25 363.60,313.62 363.60,321.00 363.60,335.75 363.60,350.50 363.60,365.25 363.60,380.00 363.60,394.75" fill="none" stroke="#f25858" stroke-width="0.8" stroke-linejoin="round" /><rect x="362.42" y="172.60" width="2.8" height="2.8" fill="#f25858"/><rect x="362.02" y="173.20" width="2.8" height="2.8" fill="#f25858"/><rect x="361.90" y="173.80" width="2.8" height="2.8" fill="#f25858"/><rect x="362.14" y="174.40" width="2.8" height="2.8" fill="#f25858"/><rect x="362.53" y="175.00" width="2.8" height="2.8" fill="#f25858"/><rect x="362.46" y="175.60" width="2.8" height="2.8" fill="#f25858"/><rect x="362.01" y="176.20" width="2.8" height="2.8" fill="#f25858"/><rect x="361.92" y="176.80" width="2.8" height="2.8" fill="#f25858"/><rect x="362.54" y="177.40" width="2.8" height="2.8" fill="#f25858"/><rect x="362.26" y="178.00" width="2.8" height="2.8" fill="#f25858"/><rect x="362.36" y="178.60" width="2.8" height="2.8" fill="#f25858"/><rect x="361.87" y="179.20" width="2.8" height="2.8" fill="#f25858"/><rect x="361.85" y="179.80" width="2.8" height="2.8" fill="#f25858"/><rect x="362.35" y="180.40" width="2.8" height="2.8" fill="#f25858"/><rect x="362.14" y="181.00" width="2.8" height="2.8" fill="#f25858"/><rect x="361.86" y="181.60" width="2.8" height="2.8" fill="#f25858"/><rect x="362.55" y="182.20" width="2.8" height="2.8" fill="#f25858"/><rect x="362.31" y="182.80" width="2.8" height="2.8" fill="#f25858"/><rect x="362.44" y="183.40" width="2.8" height="2.8" fill="#f25858"/><rect x="361.87" y="184.00" width="2.8" height="2.8" fill="#f25858"/><rect x="362.48" y="184.60" width="2.8" height="2.8" fill="#f25858"/><rect x="361.85" y="185.20" width="2.8" height="2.8" fill="#f25858"/><rect x="362.49" y="185.80" width="2.8" height="2.8" fill="#f25858"/><rect x="362.16" y="186.40" width="2.8" height="2.8" fill="#f25858"/><rect x="361.71" y="186.60" width="2.8" height="2.8" fill="#f25858"/><rect x="362.23" y="187.40" width="2.8" height="2.8" fill="#f25858"/><rect x="363.12" y="188.20" width="2.8" height="2.8" fill="#f25858"/><rect x="361.54" y="189.00" width="2.8" height="2.8" fill="#f25858"/><rect x="361.21" y="189.80" width="2.8" height="2.8" fill="#f25858"/><rect x="362.16" y="190.60" width="2.8" height="2.8" fill="#f25858"/><rect x="361.47" y="191.40" width="2.8" height="2.8" fill="#f25858"/><rect x="361.16" y="192.20" width="2.8" height="2.8" fill="#f25858"/><rect x="361.29" y="193.00" width="2.8" height="2.8" fill="#f25858"/><rect x="361.02" y="193.80" width="2.8" height="2.8" fill="#f25858"/><rect x="361.38" y="194.60" width="2.8" height="2.8" fill="#f25858"/><rect x="361.65" y="195.40" width="2.8" height="2.8" fill="#f25858"/><rect x="361.63" y="196.20" width="2.8" height="2.8" fill="#f25858"/><rect x="362.72" y="197.00" width="2.8" height="2.8" fill="#f25858"/><rect x="361.60" y="197.80" width="2.8" height="2.8" fill="#f25858"/><rect x="362.10" y="198.60" width="2.8" height="2.8" fill="#f25858"/><rect x="361.33" y="199.40" width="2.8" height="2.8" fill="#f25858"/><rect x="361.73" y="200.20" width="2.8" height="2.8" fill="#f25858"/><rect x="360.94" y="201.00" width="2.8" height="2.8" fill="#f25858"/><rect x="361.50" y="201.80" width="2.8" height="2.8" fill="#f25858"/><rect x="360.94" y="202.60" width="2.8" height="2.8" fill="#f25858"/><rect x="362.66" y="203.40" width="2.8" height="2.8" fill="#f25858"/><rect x="362.22" y="204.20" width="2.8" height="2.8" fill="#f25858"/><rect x="361.35" y="205.00" width="2.8" height="2.8" fill="#f25858"/><rect x="362.04" y="205.80" width="2.8" height="2.8" fill="#f25858"/><rect x="363.14" y="206.60" width="2.8" height="2.8" fill="#f25858"/><rect x="361.16" y="207.40" width="2.8" height="2.8" fill="#f25858"/><rect x="362.87" y="208.20" width="2.8" height="2.8" fill="#f25858"/><rect x="361.94" y="209.00" width="2.8" height="2.8" fill="#f25858"/><rect x="362.09" y="209.80" width="2.8" height="2.8" fill="#f25858"/><rect x="362.90" y="210.60" width="2.8" height="2.8" fill="#f25858"/><rect x="361.84" y="211.40" width="2.8" height="2.8" fill="#f25858"/><rect x="362.12" y="212.20" width="2.8" height="2.8" fill="#f25858"/><rect x="362.55" y="213.00" width="2.8" height="2.8" fill="#f25858"/><rect x="363.26" y="213.80" width="2.8" height="2.8" fill="#f25858"/><rect x="361.72" y="214.60" width="2.8" height="2.8" fill="#f25858"/><rect x="362.90" y="215.40" width="2.8" height="2.8" fill="#f25858"/><rect x="362.60" y="216.20" width="2.8" height="2.8" fill="#f25858"/><rect x="362.43" y="217.00" width="2.8" height="2.8" fill="#f25858"/><rect x="361.87" y="217.80" width="2.8" height="2.8" fill="#f25858"/><rect x="361.73" y="218.60" width="2.8" height="2.8" fill="#f25858"/><rect x="361.03" y="219.40" width="2.8" height="2.8" fill="#f25858"/><rect x="361.21" y="220.20" width="2.8" height="2.8" fill="#f25858"/><rect x="361.07" y="221.00" width="2.8" height="2.8" fill="#f25858"/><rect x="362.68" y="221.80" width="2.8" height="2.8" fill="#f25858"/><rect x="361.51" y="222.60" width="2.8" height="2.8" fill="#f25858"/><rect x="361.29" y="223.40" width="2.8" height="2.8" fill="#f25858"/><rect x="361.10" y="224.20" width="2.8" height="2.8" fill="#f25858"/><rect x="362.92" y="225.00" width="2.8" height="2.8" fill="#f25858"/><rect x="362.99" y="225.80" width="2.8" height="2.8" fill="#f25858"/><rect x="362.51" y="226.60" width="2.8" height="2.8" fill="#f25858"/><rect x="361.58" y="227.40" width="2.8" height="2.8" fill="#f25858"/><rect x="361.48" y="228.20" width="2.8" height="2.8" fill="#f25858"/><rect x="361.60" y="229.00" width="2.8" height="2.8" fill="#f25858"/><rect x="362.00" y="229.80" width="2.8" height="2.8" fill="#f25858"/><rect x="361.28" y="230.60" width="2.8" height="2.8" fill="#f25858"/><rect x="361.97" y="231.40" width="2.8" height="2.8" fill="#f25858"/><rect x="361.53" y="232.20" width="2.8" height="2.8" fill="#f25858"/><rect x="362.20" y="238.47" width="2.8" height="2.8" fill="#f25858"/><rect x="362.20" y="245.85" width="2.8" height="2.8" fill="#f25858"/><rect x="362.20" y="253.22" width="2.8" height="2.8" fill="#f25858"/><rect x="362.20" y="260.60" width="2.8" height="2.8" fill="#f25858"/><rect x="362.20" y="267.98" width="2.8" height="2.8" fill="#f25858"/><rect x="362.20" y="275.35" width="2.8" height="2.8" fill="#f25858"/><rect x="362.20" y="282.73" width="2.8" height="2.8" fill="#f25858"/><rect x="362.20" y="290.10" width="2.8" height="2.8" fill="#f25858"/><rect x="362.20" y="297.48" width="2.8" height="2.8" fill="#f25858"/><rect x="362.20" y="304.85" width="2.8" height="2.8" fill="#f25858"/><rect x="362.20" y="312.23" width="2.8" height="2.8" fill="#f25858"/><rect x="362.20" y="319.60" width="2.8" height="2.8" fill="#f25858"/><rect x="362.20" y="334.35" width="2.8" height="2.8" fill="#f25858"/><rect x="362.20" y="349.10" width="2.8" height="2.8" fill="#f25858"/><rect x="362.20" y="363.85" width="2.8" height="2.8" fill="#f25858"/><rect x="362.20" y="378.60" width="2.8" height="2.8" fill="#f25858"/><rect x="362.20" y="393.35" width="2.8" height="2.8" fill="#f25858"/><rect x="432.4" y="173.9" width="107.95000000000005" height="107.99999999999997" fill="#cff0fa"/><clipPath id="tsclip"><rect x="432.40" y="173.90" width="107.95" height="108.00"/></clipPath><g clip-path="url(#tsclip)" fill="none" stroke="#76888a" stroke-width="0.6"><polyline points="432.40,160.35 434.20,159.78 436.00,159.21 437.80,158.65"/><polyline points="432.40,164.23 434.20,163.65 436.00,163.07 437.80,162.50 439.60,161.92 441.40,161.35 443.19,160.78 444.99,160.21 446.79,159.65 448.59,159.08 450.39,158.52"/><polyline points="432.40,168.19 434.20,167.60 436.00,167.01 437.80,166.42 439.60,165.83 441.40,165.25 443.19,164.66 444.99,164.08 446.79,163.51 448.59,162.93 450.39,162.35 452.19,161.78 453.99,161.21 455.79,160.64 457.59,160.08 459.39,159.51 461.19,158.95"/><polyline points="432.40,172.24 434.20,171.63 436.00,171.02 437.80,170.42 439.60,169.82 441.40,169.22 443.19,168.63 444.99,168.04 446.79,167.44 448.59,166.85 450.39,166.27 452.19,165.68 453.99,165.10 455.79,164.52 457.59,163.94 459.39,163.36 461.19,162.79 462.99,162.21 464.78,161.64 466.58,161.07 468.38,160.50 470.18,159.94 471.98,159.37 473.78,158.81"/><polyline points="432.40,176.38 434.20,175.76 436.00,175.14 437.80,174.52 439.60,173.90 441.40,173.29 443.19,172.68 444.99,172.07 446.79,171.47 448.59,170.86 450.39,170.26 452.19,169.66 453.99,169.07 455.79,168.47 457.59,167.88 459.39,167.29 461.19,166.70 462.99,166.12 464.78,165.53 466.58,164.95 468.38,164.37 470.18,163.79 471.98,163.22 473.78,162.64 475.58,162.07 477.38,161.50 479.18,160.93 480.98,160.37 482.78,159.80 484.58,159.24 486.38,158.67"/><polyline points="432.40,180.63 434.20,179.99 436.00,179.35 437.80,178.72 439.60,178.09 441.40,177.46 443.19,176.83 444.99,176.21 446.79,175.58 448.59,174.97 450.39,174.35 452.19,173.74 453.99,173.12 455.79,172.52 457.59,171.91 459.39,171.30 461.19,170.70 462.99,170.10 464.78,169.51 466.58,168.91 468.38,168.32 470.18,167.73 471.98,167.14 473.78,166.55 475.58,165.97 477.38,165.38 479.18,164.80 480.98,164.22 482.78,163.65 484.58,163.07 486.38,162.50 488.17,161.93 489.97,161.36 491.77,160.79 493.57,160.22 495.37,159.66 497.17,159.10 498.97,158.54"/><polyline points="432.40,185.00 434.20,184.34 436.00,183.68 437.80,183.03 439.60,182.38 441.40,181.73 443.19,181.08 444.99,180.44 446.79,179.80 448.59,179.17 450.39,178.54 452.19,177.90 453.99,177.28 455.79,176.65 457.59,176.03 459.39,175.41 461.19,174.79 462.99,174.18 464.78,173.57 466.58,172.96 468.38,172.35 470.18,171.74 471.98,171.14 473.78,170.54 475.58,169.94 477.38,169.35 479.18,168.75 480.98,168.16 482.78,167.57 484.58,166.98 486.38,166.40 488.17,165.81 489.97,165.23 491.77,164.65 493.57,164.07 495.37,163.50 497.17,162.93 498.97,162.35 500.77,161.78 502.57,161.21 504.37,160.65 506.17,160.08 507.97,159.52 509.76,158.96"/><polyline points="432.40,189.50 434.20,188.82 436.00,188.14 437.80,187.46 439.60,186.79 441.40,186.12 443.19,185.46 444.99,184.80 446.79,184.14 448.59,183.48 450.39,182.83 452.19,182.18 453.99,181.54 455.79,180.89 457.59,180.25 459.39,179.62 461.19,178.98 462.99,178.35 464.78,177.72 466.58,177.10 468.38,176.47 470.18,175.85 471.98,175.23 473.78,174.62 475.58,174.01 477.38,173.40 479.18,172.79 480.98,172.18 482.78,171.58 484.58,170.98 486.38,170.38 488.17,169.78 489.97,169.18 491.77,168.59 493.57,168.00 495.37,167.41 497.17,166.83 498.97,166.24 500.77,165.66 502.57,165.08 504.37,164.50 506.17,163.92 507.97,163.35 509.76,162.78 511.56,162.21 513.36,161.64 515.16,161.07 516.96,160.50 518.76,159.94 520.56,159.38 522.36,158.82"/><polyline points="432.40,194.14 434.20,193.44 436.00,192.73 437.80,192.04 439.60,191.34 441.40,190.65 443.19,189.96 444.99,189.28 446.79,188.60 448.59,187.92 450.39,187.25 452.19,186.58 453.99,185.92 455.79,185.25 457.59,184.59 459.39,183.94 461.19,183.28 462.99,182.63 464.78,181.99 466.58,181.34 468.38,180.70 470.18,180.06 471.98,179.43 473.78,178.80 475.58,178.17 477.38,177.54 479.18,176.92 480.98,176.29 482.78,175.68 484.58,175.06 486.38,174.44 488.17,173.83 489.97,173.22 491.77,172.62 493.57,172.01 495.37,171.41 497.17,170.81 498.97,170.21 500.77,169.62 502.57,169.02 504.37,168.43 506.17,167.84 507.97,167.25 509.76,166.67 511.56,166.09 513.36,165.51 515.16,164.93 516.96,164.35 518.76,163.77 520.56,163.20 522.36,162.63 524.16,162.06 525.96,161.49 527.76,160.92 529.55,160.36 531.35,159.80 533.15,159.24 534.95,158.68"/><polyline points="432.40,198.96 434.20,198.22 436.00,197.49 437.80,196.77 439.60,196.04 441.40,195.33 443.19,194.61 444.99,193.91 446.79,193.20 448.59,192.50 450.39,191.81 452.19,191.11 453.99,190.43 455.79,189.74 457.59,189.06 459.39,188.38 461.19,187.71 462.99,187.04 464.78,186.37 466.58,185.71 468.38,185.05 470.18,184.39 471.98,183.74 473.78,183.08 475.58,182.44 477.38,181.79 479.18,181.15 480.98,180.51 482.78,179.87 484.58,179.24 486.38,178.61 488.17,177.98 489.97,177.36 491.77,176.73 493.57,176.11 495.37,175.50 497.17,174.88 498.97,174.27 500.77,173.66 502.57,173.05 504.37,172.45 506.17,171.84 507.97,171.24 509.76,170.64 511.56,170.05 513.36,169.45 515.16,168.86 516.96,168.27 518.76,167.68 520.56,167.10 522.36,166.51 524.16,165.93 525.96,165.35 527.76,164.77 529.55,164.20 531.35,163.62 533.15,163.05 534.95,162.48 536.75,161.91 538.55,161.34 540.35,160.78"/><polyline points="432.40,203.96 434.20,203.19 436.00,202.43 437.80,201.67 439.60,200.92 441.40,200.18 443.19,199.43 444.99,198.70 446.79,197.97 448.59,197.24 450.39,196.52 452.19,195.80 453.99,195.08 455.79,194.37 457.59,193.67 459.39,192.97 461.19,192.27 462.99,191.58 464.78,190.89 466.58,190.20 468.38,189.52 470.18,188.84 471.98,188.16 473.78,187.49 475.58,186.82 477.38,186.16 479.18,185.50 480.98,184.84 482.78,184.18 484.58,183.53 486.38,182.88 488.17,182.24 489.97,181.59 491.77,180.95 493.57,180.32 495.37,179.68 497.17,179.05 498.97,178.42 500.77,177.80 502.57,177.17 504.37,176.55 506.17,175.93 507.97,175.32 509.76,174.70 511.56,174.09 513.36,173.48 515.16,172.88 516.96,172.27 518.76,171.67 520.56,171.07 522.36,170.47 524.16,169.88 525.96,169.29 527.76,168.70 529.55,168.11 531.35,167.52 533.15,166.94 534.95,166.35 536.75,165.77 538.55,165.19 540.35,164.62"/><polyline points="432.40,209.19 434.20,208.38 436.00,207.58 437.80,206.79 439.60,206.00 441.40,205.22 443.19,204.45 444.99,203.68 446.79,202.91 448.59,202.15 450.39,201.40 452.19,200.65 453.99,199.91 455.79,199.17 457.59,198.44 459.39,197.71 461.19,196.99 462.99,196.27 464.78,195.55 466.58,194.84 468.38,194.13 470.18,193.43 471.98,192.73 473.78,192.04 475.58,191.35 477.38,190.66 479.18,189.97 480.98,189.29 482.78,188.62 484.58,187.95 486.38,187.28 488.17,186.61 489.97,185.95 491.77,185.29 493.57,184.63 495.37,183.98 497.17,183.33 498.97,182.68 500.77,182.04 502.57,181.40 504.37,180.76 506.17,180.12 507.97,179.49 509.76,178.86 511.56,178.23 513.36,177.61 515.16,176.99 516.96,176.37 518.76,175.75 520.56,175.14 522.36,174.52 524.16,173.91 525.96,173.31 527.76,172.70 529.55,172.10 531.35,171.50 533.15,170.90 534.95,170.31 536.75,169.71 538.55,169.12 540.35,168.53"/><polyline points="432.40,214.67 434.20,213.82 436.00,212.98 437.80,212.14 439.60,211.31 441.40,210.49 443.19,209.68 444.99,208.87 446.79,208.07 448.59,207.27 450.39,206.49 452.19,205.70 453.99,204.93 455.79,204.16 457.59,203.39 459.39,202.63 461.19,201.88 462.99,201.13 464.78,200.38 466.58,199.64 468.38,198.91 470.18,198.18 471.98,197.45 473.78,196.73 475.58,196.01 477.38,195.30 479.18,194.59 480.98,193.89 482.78,193.19 484.58,192.49 486.38,191.80 488.17,191.11 489.97,190.43 491.77,189.75 493.57,189.07 495.37,188.40 497.17,187.73 498.97,187.06 500.77,186.40 502.57,185.74 504.37,185.08 506.17,184.42 507.97,183.77 509.76,183.12 511.56,182.48 513.36,181.84 515.16,181.20 516.96,180.56 518.76,179.93 520.56,179.30 522.36,178.67 524.16,178.04 525.96,177.42 527.76,176.80 529.55,176.18 531.35,175.57 533.15,174.95 534.95,174.34 536.75,173.74 538.55,173.13 540.35,172.53"/><polyline points="432.40,220.47 434.20,219.56 436.00,218.67 437.80,217.78 439.60,216.90 441.40,216.03 443.19,215.17 444.99,214.32 446.79,213.47 448.59,212.64 450.39,211.81 452.19,210.98 453.99,210.17 455.79,209.36 457.59,208.56 459.39,207.76 461.19,206.97 462.99,206.19 464.78,205.41 466.58,204.64 468.38,203.87 470.18,203.11 471.98,202.35 473.78,201.60 475.58,200.85 477.38,200.11 479.18,199.38 480.98,198.64 482.78,197.92 484.58,197.20 486.38,196.48 488.17,195.76 489.97,195.05 491.77,194.35 493.57,193.65 495.37,192.95 497.17,192.26 498.97,191.57 500.77,190.88 502.57,190.20 504.37,189.52 506.17,188.85 507.97,188.18 509.76,187.51 511.56,186.84 513.36,186.18 515.16,185.52 516.96,184.87 518.76,184.21 520.56,183.57 522.36,182.92 524.16,182.28 525.96,181.64 527.76,181.00 529.55,180.36 531.35,179.73 533.15,179.10 534.95,178.48 536.75,177.85 538.55,177.23 540.35,176.61"/><polyline points="432.40,226.65 434.20,225.68 436.00,224.72 437.80,223.77 439.60,222.83 441.40,221.90 443.19,220.98 444.99,220.07 446.79,219.17 448.59,218.28 450.39,217.41 452.19,216.53 453.99,215.67 455.79,214.82 457.59,213.97 459.39,213.13 461.19,212.30 462.99,211.47 464.78,210.66 466.58,209.84 468.38,209.04 470.18,208.24 471.98,207.45 473.78,206.67 475.58,205.89 477.38,205.11 479.18,204.34 480.98,203.58 482.78,202.82 484.58,202.07 486.38,201.32 488.17,200.58 489.97,199.84 491.77,199.11 493.57,198.38 495.37,197.66 497.17,196.94 498.97,196.22 500.77,195.51 502.57,194.81 504.37,194.10 506.17,193.41 507.97,192.71 509.76,192.02 511.56,191.33 513.36,190.65 515.16,189.97 516.96,189.29 518.76,188.62 520.56,187.95 522.36,187.29 524.16,186.62 525.96,185.96 527.76,185.31 529.55,184.66 531.35,184.01 533.15,183.36 534.95,182.71 536.75,182.07 538.55,181.43 540.35,180.80"/><polyline points="432.40,233.33 434.20,232.27 436.00,231.22 437.80,230.19 439.60,229.17 441.40,228.17 443.19,227.18 444.99,226.20 446.79,225.23 448.59,224.28 450.39,223.34 452.19,222.41 453.99,221.49 455.79,220.58 457.59,219.68 459.39,218.79 461.19,217.91 462.99,217.03 464.78,216.17 466.58,215.31 468.38,214.46 470.18,213.62 471.98,212.79 473.78,211.96 475.58,211.14 477.38,210.33 479.18,209.52 480.98,208.72 482.78,207.93 484.58,207.14 486.38,206.36 488.17,205.59 489.97,204.82 491.77,204.05 493.57,203.29 495.37,202.54 497.17,201.79 498.97,201.05 500.77,200.31 502.57,199.57 504.37,198.84 506.17,198.12 507.97,197.40 509.76,196.68 511.56,195.97 513.36,195.26 515.16,194.56 516.96,193.86 518.76,193.16 520.56,192.47 522.36,191.78 524.16,191.10 525.96,190.42 527.76,189.74 529.55,189.07 531.35,188.40 533.15,187.73 534.95,187.07 536.75,186.41 538.55,185.75 540.35,185.09"/><polyline points="432.40,240.68 434.20,239.49 436.00,238.33 437.80,237.18 439.60,236.06 441.40,234.96 443.19,233.87 444.99,232.80 446.79,231.75 448.59,230.72 450.39,229.70 452.19,228.69 453.99,227.70 455.79,226.72 457.59,225.75 459.39,224.80 461.19,223.85 462.99,222.92 464.78,222.00 466.58,221.08 468.38,220.18 470.18,219.29 471.98,218.40 473.78,217.53 475.58,216.66 477.38,215.80 479.18,214.95 480.98,214.11 482.78,213.27 484.58,212.45 486.38,211.62 488.17,210.81 489.97,210.00 491.77,209.20 493.57,208.41 495.37,207.62 497.17,206.83 498.97,206.06 500.77,205.29 502.57,204.52 504.37,203.76 506.17,203.00 507.97,202.25 509.76,201.51 511.56,200.77 513.36,200.03 515.16,199.30 516.96,198.58 518.76,197.85 520.56,197.14 522.36,196.42 524.16,195.71 525.96,195.01 527.76,194.31 529.55,193.61 531.35,192.92 533.15,192.23 534.95,191.54 536.75,190.86 538.55,190.18 540.35,189.51"/><polyline points="432.40,249.01 434.20,247.63 436.00,246.29 437.80,244.98 439.60,243.71 441.40,242.46 443.19,241.24 444.99,240.05 446.79,238.88 448.59,237.73 450.39,236.60 452.19,235.50 453.99,234.41 455.79,233.34 457.59,232.28 459.39,231.24 461.19,230.22 462.99,229.21 464.78,228.22 466.58,227.23 468.38,226.26 470.18,225.31 471.98,224.36 473.78,223.43 475.58,222.50 477.38,221.59 479.18,220.68 480.98,219.79 482.78,218.90 484.58,218.02 486.38,217.15 488.17,216.29 489.97,215.44 491.77,214.60 493.57,213.76 495.37,212.93 497.17,212.11 498.97,211.29 500.77,210.48 502.57,209.68 504.37,208.88 506.17,208.09 507.97,207.31 509.76,206.53 511.56,205.75 513.36,204.99 515.16,204.23 516.96,203.47 518.76,202.72 520.56,201.97 522.36,201.23 524.16,200.49 525.96,199.76 527.76,199.03 529.55,198.31 531.35,197.59 533.15,196.88 534.95,196.17 536.75,195.46 538.55,194.76 540.35,194.06"/><polyline points="432.40,259.00 434.20,257.27 436.00,255.62 437.80,254.03 439.60,252.50 441.40,251.03 443.19,249.60 444.99,248.21 446.79,246.87 448.59,245.55 450.39,244.27 452.19,243.02 453.99,241.80 455.79,240.60 457.59,239.43 459.39,238.27 461.19,237.14 462.99,236.03 464.78,234.94 466.58,233.87 468.38,232.81 470.18,231.77 471.98,230.74 473.78,229.73 475.58,228.73 477.38,227.75 479.18,226.78 480.98,225.82 482.78,224.87 484.58,223.93 486.38,223.00 488.17,222.08 489.97,221.18 491.77,220.28 493.57,219.39 495.37,218.51 497.17,217.64 498.97,216.78 500.77,215.93 502.57,215.08 504.37,214.24 506.17,213.41 507.97,212.58 509.76,211.77 511.56,210.96 513.36,210.15 515.16,209.35 516.96,208.56 518.76,207.78 520.56,207.00 522.36,206.22 524.16,205.45 525.96,204.69 527.76,203.93 529.55,203.18 531.35,202.43 533.15,201.69 534.95,200.95 536.75,200.22 538.55,199.49 540.35,198.76"/><polyline points="432.40,272.98 434.20,270.20 436.00,267.74 437.80,265.49 439.60,263.42 441.40,261.47 443.19,259.64 444.99,257.90 446.79,256.23 448.59,254.64 450.39,253.10 452.19,251.62 453.99,250.18 455.79,248.79 457.59,247.44 459.39,246.12 461.19,244.83 462.99,243.58 464.78,242.35 466.58,241.15 468.38,239.97 470.18,238.81 471.98,237.68 473.78,236.57 475.58,235.47 477.38,234.39 479.18,233.33 480.98,232.29 482.78,231.26 484.58,230.25 486.38,229.25 488.17,228.26 489.97,227.28 491.77,226.32 493.57,225.37 495.37,224.43 497.17,223.50 498.97,222.58 500.77,221.67 502.57,220.77 504.37,219.88 506.17,219.00 507.97,218.13 509.76,217.27 511.56,216.41 513.36,215.56 515.16,214.72 516.96,213.89 518.76,213.06 520.56,212.24 522.36,211.43 524.16,210.62 525.96,209.82 527.76,209.03 529.55,208.24 531.35,207.46 533.15,206.68 534.95,205.91 536.75,205.15 538.55,204.39 540.35,203.64"/><polyline points="439.60,281.40 441.40,277.09 443.19,273.76 444.99,270.94 446.79,268.45 448.59,266.18 450.39,264.08 452.19,262.12 453.99,260.27 455.79,258.52 457.59,256.84 459.39,255.24 461.19,253.70 462.99,252.21 464.78,250.76 466.58,249.36 468.38,248.00 470.18,246.68 471.98,245.39 473.78,244.13 475.58,242.90 477.38,241.69 479.18,240.51 480.98,239.35 482.78,238.21 484.58,237.10 486.38,236.00 488.17,234.92 489.97,233.85 491.77,232.81 493.57,231.78 495.37,230.76 497.17,229.76 498.97,228.77 500.77,227.79 502.57,226.82 504.37,225.87 506.17,224.93 507.97,224.00 509.76,223.08 511.56,222.16 513.36,221.26 515.16,220.37 516.96,219.49 518.76,218.61 520.56,217.75 522.36,216.89 524.16,216.04 525.96,215.20 527.76,214.36 529.55,213.53 531.35,212.71 533.15,211.90 534.95,211.09 536.75,210.29 538.55,209.50 540.35,208.71"/><polyline points="450.39,282.45 452.19,277.95 453.99,274.54 455.79,271.68 457.59,269.14 459.39,266.85 461.19,264.73 462.99,262.76 464.78,260.90 466.58,259.13 468.38,257.45 470.18,255.84 471.98,254.28 473.78,252.79 475.58,251.34 477.38,249.93 479.18,248.57 480.98,247.24 482.78,245.94 484.58,244.68 486.38,243.44 488.17,242.23 489.97,241.05 491.77,239.88 493.57,238.74 495.37,237.62 497.17,236.52 498.97,235.44 500.77,234.37 502.57,233.32 504.37,232.29 506.17,231.27 507.97,230.26 509.76,229.27 511.56,228.29 513.36,227.32 515.16,226.37 516.96,225.42 518.76,224.49 520.56,223.57 522.36,222.65 524.16,221.75 525.96,220.86 527.76,219.97 529.55,219.09 531.35,218.23 533.15,217.37 534.95,216.52 536.75,215.67 538.55,214.83 540.35,214.00"/><polyline points="461.19,283.51 462.99,278.81 464.78,275.32 466.58,272.40 468.38,269.84 470.18,267.52 471.98,265.38 473.78,263.39 475.58,261.52 477.38,259.74 479.18,258.05 480.98,256.43 482.78,254.87 484.58,253.36 486.38,251.91 488.17,250.50 489.97,249.13 491.77,247.79 493.57,246.49 495.37,245.22 497.17,243.98 498.97,242.77 500.77,241.58 502.57,240.41 504.37,239.27 506.17,238.14 507.97,237.04 509.76,235.95 511.56,234.89 513.36,233.83 515.16,232.80 516.96,231.77 518.76,230.76 520.56,229.77 522.36,228.79 524.16,227.82 525.96,226.86 527.76,225.91 529.55,224.98 531.35,224.05 533.15,223.14 534.95,222.23 536.75,221.34 538.55,220.45 540.35,219.57"/><polyline points="471.98,284.59 473.78,279.66 475.58,276.09 477.38,273.12 479.18,270.52 480.98,268.18 482.78,266.03 484.58,264.02 486.38,262.13 488.17,260.35 489.97,258.64 491.77,257.01 493.57,255.45 495.37,253.93 497.17,252.47 498.97,251.06 500.77,249.68 502.57,248.34 504.37,247.04 506.17,245.76 507.97,244.52 509.76,243.30 511.56,242.11 513.36,240.94 515.16,239.79 516.96,238.66 518.76,237.56 520.56,236.47 522.36,235.40 524.16,234.34 525.96,233.30 527.76,232.28 529.55,231.26 531.35,230.27 533.15,229.28 534.95,228.31 536.75,227.35 538.55,226.40 540.35,225.47"/><polyline points="482.78,285.68 484.58,280.51 486.38,276.85 488.17,273.83 489.97,271.20 491.77,268.84 493.57,266.66 495.37,264.64 497.17,262.74 498.97,260.94 500.77,259.23 502.57,257.59 504.37,256.02 506.17,254.50 507.97,253.03 509.76,251.61 511.56,250.23 513.36,248.89 515.16,247.58 516.96,246.30 518.76,245.05 520.56,243.83 522.36,242.63 524.16,241.46 525.96,240.31 527.76,239.18 529.55,238.07 531.35,236.98 533.15,235.90 534.95,234.84 536.75,233.80 538.55,232.77 540.35,231.76"/><polyline points="493.57,286.81 495.37,281.35 497.17,277.60 498.97,274.53 500.77,271.87 502.57,269.48 504.37,267.29 506.17,265.26 507.97,263.35 509.76,261.54 511.56,259.81 513.36,258.17 515.16,256.59 516.96,255.06 518.76,253.59 520.56,252.16 522.36,250.77 524.16,249.43 525.96,248.11 527.76,246.83 529.55,245.58 531.35,244.35 533.15,243.15 534.95,241.98 536.75,240.82 538.55,239.69 540.35,238.58"/><polyline points="504.37,287.97 506.17,282.19 507.97,278.34 509.76,275.23 511.56,272.53 513.36,270.12 515.16,267.91 516.96,265.86 518.76,263.94 520.56,262.12 522.36,260.39 524.16,258.74 525.96,257.15 527.76,255.62 529.55,254.14 531.35,252.71 533.15,251.31 534.95,249.96 536.75,248.64 538.55,247.36 540.35,246.10"/><polyline points="515.16,289.17 516.96,283.01 518.76,279.07 520.56,275.91 522.36,273.19 524.16,270.75 525.96,268.53 527.76,266.46 529.55,264.53 531.35,262.70 533.15,260.96 534.95,259.30 536.75,257.70 538.55,256.17 540.35,254.68"/><polyline points="525.96,290.44 527.76,283.83 529.55,279.80 531.35,276.59 533.15,273.83 534.95,271.38 536.75,269.13 538.55,267.06 540.35,265.11"/><polyline points="536.75,291.82 538.55,284.64 540.35,280.51"/></g><polyline points="439.50,259.40 441.60,258.20 446.00,258.40 451.40,258.60 457.00,258.80 462.90,259.00 464.60,260.90 465.40,265.30 469.50,268.10 474.00,271.60 477.70,274.60 478.90,275.50" fill="none" stroke="#ff0000" stroke-width="4.2" stroke-linejoin="round" stroke-linecap="round"/><polyline points="439.50,259.40 441.60,258.20 446.00,258.40 451.40,258.60 457.00,258.80 462.90,259.00 464.60,260.90 465.40,265.30 469.50,268.10 474.00,271.60 477.70,274.60 478.90,275.50" fill="none" stroke="#e600e6" stroke-width="2.4" stroke-linejoin="round" stroke-linecap="round"/><line x1="431.20" y1="173.90" x2="541.55" y2="173.90" stroke="#e600e6" stroke-width="2.3" /><line x1="432.40" y1="173.90" x2="432.40" y2="167.90" stroke="#e600e6" stroke-width="1.2" /><line x1="436.00" y1="173.90" x2="436.00" y2="170.70" stroke="#e600e6" stroke-width="1.6" /><line x1="439.60" y1="173.90" x2="439.60" y2="170.70" stroke="#e600e6" stroke-width="1.6" /><line x1="443.19" y1="173.90" x2="443.19" y2="170.70" stroke="#e600e6" stroke-width="1.6" /><line x1="446.79" y1="173.90" x2="446.79" y2="170.70" stroke="#e600e6" stroke-width="1.6" /><line x1="450.39" y1="173.90" x2="450.39" y2="167.90" stroke="#e600e6" stroke-width="1.2" /><line x1="453.99" y1="173.90" x2="453.99" y2="170.70" stroke="#e600e6" stroke-width="1.6" /><line x1="457.59" y1="173.90" x2="457.59" y2="170.70" stroke="#e600e6" stroke-width="1.6" /><line x1="461.19" y1="173.90" x2="461.19" y2="170.70" stroke="#e600e6" stroke-width="1.6" /><line x1="464.78" y1="173.90" x2="464.78" y2="170.70" stroke="#e600e6" stroke-width="1.6" /><line x1="468.38" y1="173.90" x2="468.38" y2="167.90" stroke="#e600e6" stroke-width="1.2" /><line x1="471.98" y1="173.90" x2="471.98" y2="170.70" stroke="#e600e6" stroke-width="1.6" /><line x1="475.58" y1="173.90" x2="475.58" y2="170.70" stroke="#e600e6" stroke-width="1.6" /><line x1="479.18" y1="173.90" x2="479.18" y2="170.70" stroke="#e600e6" stroke-width="1.6" /><line x1="482.78" y1="173.90" x2="482.78" y2="170.70" stroke="#e600e6" stroke-width="1.6" /><line x1="486.38" y1="173.90" x2="486.38" y2="167.90" stroke="#e600e6" stroke-width="1.2" /><line x1="489.97" y1="173.90" x2="489.97" y2="170.70" stroke="#e600e6" stroke-width="1.6" /><line x1="493.57" y1="173.90" x2="493.57" y2="170.70" stroke="#e600e6" stroke-width="1.6" /><line x1="497.17" y1="173.90" x2="497.17" y2="170.70" stroke="#e600e6" stroke-width="1.6" /><line x1="500.77" y1="173.90" x2="500.77" y2="170.70" stroke="#e600e6" stroke-width="1.6" /><line x1="504.37" y1="173.90" x2="504.37" y2="167.90" stroke="#e600e6" stroke-width="1.2" /><line x1="507.97" y1="173.90" x2="507.97" y2="170.70" stroke="#e600e6" stroke-width="1.6" /><line x1="511.56" y1="173.90" x2="511.56" y2="170.70" stroke="#e600e6" stroke-width="1.6" /><line x1="515.16" y1="173.90" x2="515.16" y2="170.70" stroke="#e600e6" stroke-width="1.6" /><line x1="518.76" y1="173.90" x2="518.76" y2="170.70" stroke="#e600e6" stroke-width="1.6" /><line x1="522.36" y1="173.90" x2="522.36" y2="167.90" stroke="#e600e6" stroke-width="1.2" /><line x1="525.96" y1="173.90" x2="525.96" y2="170.70" stroke="#e600e6" stroke-width="1.6" /><line x1="529.56" y1="173.90" x2="529.56" y2="170.70" stroke="#e600e6" stroke-width="1.6" /><line x1="533.15" y1="173.90" x2="533.15" y2="170.70" stroke="#e600e6" stroke-width="1.6" /><line x1="536.75" y1="173.90" x2="536.75" y2="170.70" stroke="#e600e6" stroke-width="1.6" /><line x1="540.35" y1="173.90" x2="540.35" y2="167.90" stroke="#e600e6" stroke-width="1.2" /><line x1="431.20" y1="281.90" x2="541.55" y2="281.90" stroke="#e600e6" stroke-width="2.3" /><line x1="432.40" y1="281.90" x2="432.40" y2="287.90" stroke="#e600e6" stroke-width="1.2" /><line x1="436.00" y1="281.90" x2="436.00" y2="285.10" stroke="#e600e6" stroke-width="1.6" /><line x1="439.60" y1="281.90" x2="439.60" y2="285.10" stroke="#e600e6" stroke-width="1.6" /><line x1="443.19" y1="281.90" x2="443.19" y2="285.10" stroke="#e600e6" stroke-width="1.6" /><line x1="446.79" y1="281.90" x2="446.79" y2="285.10" stroke="#e600e6" stroke-width="1.6" /><line x1="450.39" y1="281.90" x2="450.39" y2="287.90" stroke="#e600e6" stroke-width="1.2" /><line x1="453.99" y1="281.90" x2="453.99" y2="285.10" stroke="#e600e6" stroke-width="1.6" /><line x1="457.59" y1="281.90" x2="457.59" y2="285.10" stroke="#e600e6" stroke-width="1.6" /><line x1="461.19" y1="281.90" x2="461.19" y2="285.10" stroke="#e600e6" stroke-width="1.6" /><line x1="464.78" y1="281.90" x2="464.78" y2="285.10" stroke="#e600e6" stroke-width="1.6" /><line x1="468.38" y1="281.90" x2="468.38" y2="287.90" stroke="#e600e6" stroke-width="1.2" /><line x1="471.98" y1="281.90" x2="471.98" y2="285.10" stroke="#e600e6" stroke-width="1.6" /><line x1="475.58" y1="281.90" x2="475.58" y2="285.10" stroke="#e600e6" stroke-width="1.6" /><line x1="479.18" y1="281.90" x2="479.18" y2="285.10" stroke="#e600e6" stroke-width="1.6" /><line x1="482.78" y1="281.90" x2="482.78" y2="285.10" stroke="#e600e6" stroke-width="1.6" /><line x1="486.38" y1="281.90" x2="486.38" y2="287.90" stroke="#e600e6" stroke-width="1.2" /><line x1="489.97" y1="281.90" x2="489.97" y2="285.10" stroke="#e600e6" stroke-width="1.6" /><line x1="493.57" y1="281.90" x2="493.57" y2="285.10" stroke="#e600e6" stroke-width="1.6" /><line x1="497.17" y1="281.90" x2="497.17" y2="285.10" stroke="#e600e6" stroke-width="1.6" /><line x1="500.77" y1="281.90" x2="500.77" y2="285.10" stroke="#e600e6" stroke-width="1.6" /><line x1="504.37" y1="281.90" x2="504.37" y2="287.90" stroke="#e600e6" stroke-width="1.2" /><line x1="507.97" y1="281.90" x2="507.97" y2="285.10" stroke="#e600e6" stroke-width="1.6" /><line x1="511.56" y1="281.90" x2="511.56" y2="285.10" stroke="#e600e6" stroke-width="1.6" /><line x1="515.16" y1="281.90" x2="515.16" y2="285.10" stroke="#e600e6" stroke-width="1.6" /><line x1="518.76" y1="281.90" x2="518.76" y2="285.10" stroke="#e600e6" stroke-width="1.6" /><line x1="522.36" y1="281.90" x2="522.36" y2="287.90" stroke="#e600e6" stroke-width="1.2" /><line x1="525.96" y1="281.90" x2="525.96" y2="285.10" stroke="#e600e6" stroke-width="1.6" /><line x1="529.56" y1="281.90" x2="529.56" y2="285.10" stroke="#e600e6" stroke-width="1.6" /><line x1="533.15" y1="281.90" x2="533.15" y2="285.10" stroke="#e600e6" stroke-width="1.6" /><line x1="536.75" y1="281.90" x2="536.75" y2="285.10" stroke="#e600e6" stroke-width="1.6" /><line x1="540.35" y1="281.90" x2="540.35" y2="287.90" stroke="#e600e6" stroke-width="1.2" /><line x1="432.40" y1="172.70" x2="432.40" y2="283.10" stroke="#e600e6" stroke-width="2.3" /><line x1="432.40" y1="281.90" x2="426.40" y2="281.90" stroke="#e600e6" stroke-width="1.2" /><line x1="432.40" y1="278.81" x2="429.20" y2="278.81" stroke="#e600e6" stroke-width="1.6" /><line x1="432.40" y1="275.73" x2="429.20" y2="275.73" stroke="#e600e6" stroke-width="1.6" /><line x1="432.40" y1="272.64" x2="429.20" y2="272.64" stroke="#e600e6" stroke-width="1.6" /><line x1="432.40" y1="269.56" x2="429.20" y2="269.56" stroke="#e600e6" stroke-width="1.6" /><line x1="432.40" y1="266.47" x2="426.40" y2="266.47" stroke="#e600e6" stroke-width="1.2" /><line x1="432.40" y1="263.39" x2="429.20" y2="263.39" stroke="#e600e6" stroke-width="1.6" /><line x1="432.40" y1="260.30" x2="429.20" y2="260.30" stroke="#e600e6" stroke-width="1.6" /><line x1="432.40" y1="257.21" x2="429.20" y2="257.21" stroke="#e600e6" stroke-width="1.6" /><line x1="432.40" y1="254.13" x2="429.20" y2="254.13" stroke="#e600e6" stroke-width="1.6" /><line x1="432.40" y1="251.04" x2="426.40" y2="251.04" stroke="#e600e6" stroke-width="1.2" /><line x1="432.40" y1="247.96" x2="429.20" y2="247.96" stroke="#e600e6" stroke-width="1.6" /><line x1="432.40" y1="244.87" x2="429.20" y2="244.87" stroke="#e600e6" stroke-width="1.6" /><line x1="432.40" y1="241.79" x2="429.20" y2="241.79" stroke="#e600e6" stroke-width="1.6" /><line x1="432.40" y1="238.70" x2="429.20" y2="238.70" stroke="#e600e6" stroke-width="1.6" /><line x1="432.40" y1="235.61" x2="426.40" y2="235.61" stroke="#e600e6" stroke-width="1.2" /><line x1="432.40" y1="232.53" x2="429.20" y2="232.53" stroke="#e600e6" stroke-width="1.6" /><line x1="432.40" y1="229.44" x2="429.20" y2="229.44" stroke="#e600e6" stroke-width="1.6" /><line x1="432.40" y1="226.36" x2="429.20" y2="226.36" stroke="#e600e6" stroke-width="1.6" /><line x1="432.40" y1="223.27" x2="429.20" y2="223.27" stroke="#e600e6" stroke-width="1.6" /><line x1="432.40" y1="220.19" x2="426.40" y2="220.19" stroke="#e600e6" stroke-width="1.2" /><line x1="432.40" y1="217.10" x2="429.20" y2="217.10" stroke="#e600e6" stroke-width="1.6" /><line x1="432.40" y1="214.01" x2="429.20" y2="214.01" stroke="#e600e6" stroke-width="1.6" /><line x1="432.40" y1="210.93" x2="429.20" y2="210.93" stroke="#e600e6" stroke-width="1.6" /><line x1="432.40" y1="207.84" x2="429.20" y2="207.84" stroke="#e600e6" stroke-width="1.6" /><line x1="432.40" y1="204.76" x2="426.40" y2="204.76" stroke="#e600e6" stroke-width="1.2" /><line x1="432.40" y1="201.67" x2="429.20" y2="201.67" stroke="#e600e6" stroke-width="1.6" /><line x1="432.40" y1="198.59" x2="429.20" y2="198.59" stroke="#e600e6" stroke-width="1.6" /><line x1="432.40" y1="195.50" x2="429.20" y2="195.50" stroke="#e600e6" stroke-width="1.6" /><line x1="432.40" y1="192.41" x2="429.20" y2="192.41" stroke="#e600e6" stroke-width="1.6" /><line x1="432.40" y1="189.33" x2="426.40" y2="189.33" stroke="#e600e6" stroke-width="1.2" /><line x1="432.40" y1="186.24" x2="429.20" y2="186.24" stroke="#e600e6" stroke-width="1.6" /><line x1="432.40" y1="183.16" x2="429.20" y2="183.16" stroke="#e600e6" stroke-width="1.6" /><line x1="432.40" y1="180.07" x2="429.20" y2="180.07" stroke="#e600e6" stroke-width="1.6" /><line x1="432.40" y1="176.99" x2="429.20" y2="176.99" stroke="#e600e6" stroke-width="1.6" /><line x1="432.40" y1="173.90" x2="426.40" y2="173.90" stroke="#e600e6" stroke-width="1.2" /><line x1="540.35" y1="172.70" x2="540.35" y2="283.10" stroke="#e600e6" stroke-width="2.3" /><line x1="540.35" y1="281.90" x2="546.35" y2="281.90" stroke="#e600e6" stroke-width="1.2" /><line x1="540.35" y1="278.81" x2="543.55" y2="278.81" stroke="#e600e6" stroke-width="1.6" /><line x1="540.35" y1="275.73" x2="543.55" y2="275.73" stroke="#e600e6" stroke-width="1.6" /><line x1="540.35" y1="272.64" x2="543.55" y2="272.64" stroke="#e600e6" stroke-width="1.6" /><line x1="540.35" y1="269.56" x2="543.55" y2="269.56" stroke="#e600e6" stroke-width="1.6" /><line x1="540.35" y1="266.47" x2="546.35" y2="266.47" stroke="#e600e6" stroke-width="1.2" /><line x1="540.35" y1="263.39" x2="543.55" y2="263.39" stroke="#e600e6" stroke-width="1.6" /><line x1="540.35" y1="260.30" x2="543.55" y2="260.30" stroke="#e600e6" stroke-width="1.6" /><line x1="540.35" y1="257.21" x2="543.55" y2="257.21" stroke="#e600e6" stroke-width="1.6" /><line x1="540.35" y1="254.13" x2="543.55" y2="254.13" stroke="#e600e6" stroke-width="1.6" /><line x1="540.35" y1="251.04" x2="546.35" y2="251.04" stroke="#e600e6" stroke-width="1.2" /><line x1="540.35" y1="247.96" x2="543.55" y2="247.96" stroke="#e600e6" stroke-width="1.6" /><line x1="540.35" y1="244.87" x2="543.55" y2="244.87" stroke="#e600e6" stroke-width="1.6" /><line x1="540.35" y1="241.79" x2="543.55" y2="241.79" stroke="#e600e6" stroke-width="1.6" /><line x1="540.35" y1="238.70" x2="543.55" y2="238.70" stroke="#e600e6" stroke-width="1.6" /><line x1="540.35" y1="235.61" x2="546.35" y2="235.61" stroke="#e600e6" stroke-width="1.2" /><line x1="540.35" y1="232.53" x2="543.55" y2="232.53" stroke="#e600e6" stroke-width="1.6" /><line x1="540.35" y1="229.44" x2="543.55" y2="229.44" stroke="#e600e6" stroke-width="1.6" /><line x1="540.35" y1="226.36" x2="543.55" y2="226.36" stroke="#e600e6" stroke-width="1.6" /><line x1="540.35" y1="223.27" x2="543.55" y2="223.27" stroke="#e600e6" stroke-width="1.6" /><line x1="540.35" y1="220.19" x2="546.35" y2="220.19" stroke="#e600e6" stroke-width="1.2" /><line x1="540.35" y1="217.10" x2="543.55" y2="217.10" stroke="#e600e6" stroke-width="1.6" /><line x1="540.35" y1="214.01" x2="543.55" y2="214.01" stroke="#e600e6" stroke-width="1.6" /><line x1="540.35" y1="210.93" x2="543.55" y2="210.93" stroke="#e600e6" stroke-width="1.6" /><line x1="540.35" y1="207.84" x2="543.55" y2="207.84" stroke="#e600e6" stroke-width="1.6" /><line x1="540.35" y1="204.76" x2="546.35" y2="204.76" stroke="#e600e6" stroke-width="1.2" /><line x1="540.35" y1="201.67" x2="543.55" y2="201.67" stroke="#e600e6" stroke-width="1.6" /><line x1="540.35" y1="198.59" x2="543.55" y2="198.59" stroke="#e600e6" stroke-width="1.6" /><line x1="540.35" y1="195.50" x2="543.55" y2="195.50" stroke="#e600e6" stroke-width="1.6" /><line x1="540.35" y1="192.41" x2="543.55" y2="192.41" stroke="#e600e6" stroke-width="1.6" /><line x1="540.35" y1="189.33" x2="546.35" y2="189.33" stroke="#e600e6" stroke-width="1.2" /><line x1="540.35" y1="186.24" x2="543.55" y2="186.24" stroke="#e600e6" stroke-width="1.6" /><line x1="540.35" y1="183.16" x2="543.55" y2="183.16" stroke="#e600e6" stroke-width="1.6" /><line x1="540.35" y1="180.07" x2="543.55" y2="180.07" stroke="#e600e6" stroke-width="1.6" /><line x1="540.35" y1="176.99" x2="543.55" y2="176.99" stroke="#e600e6" stroke-width="1.6" /><line x1="540.35" y1="173.90" x2="546.35" y2="173.90" stroke="#e600e6" stroke-width="1.2" /><text x="432.40" y="163.70" fill="#e600e6" stroke="#e600e6" stroke-width="0.6" font-size="14" text-anchor="middle" >32</text><text x="450.39" y="163.70" fill="#e600e6" stroke="#e600e6" stroke-width="0.6" font-size="14" text-anchor="middle" >33</text><text x="468.38" y="163.70" fill="#e600e6" stroke="#e600e6" stroke-width="0.6" font-size="14" text-anchor="middle" >34</text><text x="486.38" y="163.70" fill="#e600e6" stroke="#e600e6" stroke-width="0.6" font-size="14" text-anchor="middle" >35</text><text x="504.37" y="163.70" fill="#e600e6" stroke="#e600e6" stroke-width="0.6" font-size="14" text-anchor="middle" >36</text><text x="522.36" y="163.70" fill="#e600e6" stroke="#e600e6" stroke-width="0.6" font-size="14" text-anchor="middle" >37</text><text x="540.35" y="163.70" fill="#e600e6" stroke="#e600e6" stroke-width="0.6" font-size="14" text-anchor="middle" >38</text><text x="565.00" y="286.70" fill="#e600e6" stroke="#e600e6" stroke-width="0.6" font-size="14" text-anchor="end" >0</text><text x="565.00" y="271.27" fill="#e600e6" stroke="#e600e6" stroke-width="0.6" font-size="14" text-anchor="end" >5</text><text x="565.00" y="255.84" fill="#e600e6" stroke="#e600e6" stroke-width="0.6" font-size="14" text-anchor="end" >10</text><text x="565.00" y="240.41" fill="#e600e6" stroke="#e600e6" stroke-width="0.6" font-size="14" text-anchor="end" >15</text><text x="565.00" y="224.99" fill="#e600e6" stroke="#e600e6" stroke-width="0.6" font-size="14" text-anchor="end" >20</text><text x="565.00" y="209.56" fill="#e600e6" stroke="#e600e6" stroke-width="0.6" font-size="14" text-anchor="end" >25</text><text x="565.00" y="194.13" fill="#e600e6" stroke="#e600e6" stroke-width="0.6" font-size="14" text-anchor="end" >30</text><text x="565.00" y="178.70" fill="#e600e6" stroke="#e600e6" stroke-width="0.6" font-size="14" text-anchor="end" >35</text><text x="486.38" y="148.30" fill="#e600e6" stroke="#e600e6" stroke-width="0.6" font-size="14" text-anchor="middle" >Salinity (PSU)</text><text x="0.00" y="0.00" fill="#e600e6" stroke="#e600e6" stroke-width="0.6" font-size="14" text-anchor="middle" transform="translate(582,227.5) rotate(-90)">Insitu Temperature (˚C)</text><text x="432.60" y="318.00" fill="#000000" stroke="#000000" stroke-width="0.6" font-size="14" text-anchor="start" >Float:&#160; 20589</text><text x="432.60" y="331.95" fill="#000000" stroke="#000000" stroke-width="0.6" font-size="14" text-anchor="start" >Profile:&#160; 133</text><text x="432.60" y="345.90" fill="#000000" stroke="#000000" stroke-width="0.6" font-size="14" text-anchor="start" >Location:&#160; -0.0˚S &#160; 0.0˚E</text><text x="432.60" y="359.85" fill="#000000" stroke="#000000" stroke-width="0.6" font-size="14" text-anchor="start" >Date:&#160;<tspan dx="1.2">04/01/2026</tspan></text><clipPath id="mapclip"><path d="M482.33,424.58 L482.43,424.70 L482.53,424.81 L482.65,424.93 L482.77,425.04 L482.89,425.15 L483.03,425.26 L483.17,425.37 L483.32,425.48 L483.47,425.58 L483.64,425.69 L483.81,425.79 L483.98,425.89 L484.17,425.99 L484.36,426.09 L484.56,426.19 L484.76,426.29 L484.97,426.39 L485.18,426.48 L485.41,426.57 L485.64,426.67 L485.87,426.76 L486.11,426.85 L486.35,426.93 L486.61,427.02 L486.86,427.11 L487.13,427.19 L487.39,427.27 L487.67,427.36 L487.94,427.44 L488.23,427.51 L488.52,427.59 L488.81,427.67 L489.11,427.74 L489.41,427.82 L489.72,427.89 L490.03,427.96 L490.35,428.03 L490.67,428.10 L490.99,428.16 L491.32,428.23 L491.66,428.29 L491.99,428.36 L492.33,428.42 L492.68,428.48 L493.03,428.54 L493.38,428.59 L493.74,428.65 L494.10,428.70 L494.46,428.76 L494.83,428.81 L495.20,428.86 L495.57,428.91 L495.94,428.96 L496.32,429.01 L496.70,429.05 L497.09,429.10 L497.48,429.14 L497.87,429.18 L498.26,429.22 L498.65,429.26 L499.05,429.30 L499.45,429.33 L499.85,429.37 L500.26,429.40 L500.66,429.44 L501.07,429.47 L501.48,429.50 L501.89,429.53 L502.31,429.55 L502.72,429.58 L503.14,429.60 L503.56,429.63 L503.97,429.65 L504.40,429.67 L504.82,429.69 L505.24,429.71 L505.67,429.73 L506.09,429.74 L506.52,429.76 L506.95,429.77 L507.37,429.78 L507.80,429.79 L508.23,429.80 L508.66,429.81 L509.09,429.82 L509.52,429.82 L509.96,429.83 L510.39,429.83 L510.82,429.83 L511.25,429.83 L511.68,429.83 L512.11,429.83 L512.54,429.83 L512.98,429.82 L513.41,429.82 L513.84,429.81 L514.27,429.80 L514.70,429.79 L515.13,429.78 L515.55,429.77 L515.98,429.76 L516.41,429.74 L516.83,429.73 L517.26,429.71 L517.68,429.69 L518.10,429.67 L518.53,429.65 L518.94,429.63 L519.36,429.60 L519.78,429.58 L520.19,429.55 L520.61,429.53 L521.02,429.50 L521.43,429.47 L521.84,429.44 L522.24,429.40 L522.65,429.37 L523.05,429.33 L523.45,429.30 L523.85,429.26 L524.24,429.22 L524.63,429.18 L525.02,429.14 L525.41,429.10 L525.80,429.05 L526.18,429.01 L526.56,428.96 L526.93,428.91 L527.30,428.86 L527.67,428.81 L528.04,428.76 L528.40,428.70 L528.76,428.65 L529.12,428.59 L529.47,428.54 L529.82,428.48 L530.17,428.42 L530.51,428.36 L530.84,428.29 L531.18,428.23 L531.51,428.16 L531.83,428.10 L532.15,428.03 L532.47,427.96 L532.78,427.89 L533.09,427.82 L533.39,427.74 L533.69,427.67 L533.98,427.59 L534.27,427.51 L534.56,427.44 L534.83,427.36 L535.11,427.27 L535.37,427.19 L535.64,427.11 L535.89,427.02 L536.15,426.93 L536.39,426.85 L536.63,426.76 L536.86,426.67 L537.09,426.57 L537.32,426.48 L537.53,426.39 L537.74,426.29 L537.94,426.19 L538.14,426.09 L538.33,425.99 L538.52,425.89 L538.69,425.79 L538.86,425.69 L539.03,425.58 L539.18,425.48 L539.33,425.37 L539.47,425.26 L539.61,425.15 L539.73,425.04 L539.85,424.93 L539.97,424.81 L540.07,424.70 L540.17,424.58 L541.44,424.84 L542.71,425.11 L543.97,425.38 L545.22,425.67 L546.46,425.97 L547.68,426.28 L548.90,426.60 L550.10,426.93 L551.29,427.27 L552.48,427.62 L553.64,427.98 L554.80,428.35 L555.94,428.73 L557.07,429.12 L558.18,429.52 L559.28,429.93 L560.37,430.35 L561.44,430.78 L562.49,431.22 L563.53,431.67 L564.55,432.12 L565.56,432.59 L566.55,433.06 L567.53,433.54 L568.48,434.03 L569.42,434.53 L570.34,435.04 L571.25,435.55 L572.13,436.07 L573.00,436.60 L573.85,437.14 L574.67,437.68 L575.48,438.23 L576.27,438.79 L577.04,439.36 L577.79,439.93 L578.52,440.51 L579.23,441.09 L579.92,441.68 L580.59,442.28 L581.24,442.88 L581.86,443.48 L582.46,444.10 L583.05,444.71 L583.61,445.34 L584.14,445.96 L584.66,446.59 L585.15,447.23 L585.62,447.87 L586.07,448.51 L586.50,449.16 L586.90,449.81 L587.28,450.47 L587.64,451.13 L587.97,451.79 L588.28,452.45 L588.57,453.12 L588.83,453.79 L589.07,454.46 L589.28,455.13 L589.47,455.81 L589.64,456.48 L589.79,457.16 L589.91,457.84 L590.00,458.52 L590.07,459.20 L590.12,459.88 L590.15,460.56 L590.15,461.24 L590.12,461.92 L590.07,462.60 L590.00,463.28 L589.91,463.96 L589.79,464.64 L589.64,465.32 L589.47,465.99 L589.28,466.67 L589.07,467.34 L588.83,468.01 L588.57,468.68 L588.28,469.35 L587.97,470.01 L587.64,470.67 L587.28,471.33 L586.90,471.99 L586.50,472.64 L586.07,473.29 L585.62,473.93 L585.15,474.57 L584.66,475.21 L584.14,475.84 L583.61,476.46 L583.05,477.09 L582.46,477.70 L581.86,478.32 L581.24,478.92 L580.59,479.52 L579.92,480.12 L579.23,480.71 L578.52,481.29 L577.79,481.87 L577.04,482.44 L576.27,483.01 L575.48,483.57 L574.67,484.12 L573.85,484.66 L573.00,485.20 L572.13,485.73 L571.25,486.25 L570.34,486.76 L569.42,487.27 L568.48,487.77 L567.53,488.26 L566.55,488.74 L565.56,489.21 L564.55,489.68 L563.53,490.13 L562.49,490.58 L561.44,491.02 L560.37,491.45 L559.28,491.87 L558.18,492.28 L557.07,492.68 L555.94,493.07 L554.80,493.45 L553.64,493.82 L552.48,494.18 L551.29,494.53 L550.10,494.87 L548.90,495.20 L547.68,495.52 L546.46,495.83 L545.22,496.13 L543.97,496.42 L542.71,496.69 L541.44,496.96 L540.17,497.22 L540.17,497.22 L540.17,497.22 L540.17,497.22 L540.07,497.10 L539.97,496.99 L539.85,496.87 L539.73,496.76 L539.61,496.65 L539.47,496.54 L539.33,496.43 L539.18,496.32 L539.03,496.22 L538.86,496.11 L538.69,496.01 L538.52,495.91 L538.33,495.81 L538.14,495.71 L537.94,495.61 L537.74,495.51 L537.53,495.41 L537.32,495.32 L537.09,495.23 L536.86,495.13 L536.63,495.04 L536.39,494.95 L536.15,494.87 L535.89,494.78 L535.64,494.69 L535.37,494.61 L535.11,494.53 L534.83,494.44 L534.56,494.36 L534.27,494.29 L533.98,494.21 L533.69,494.13 L533.39,494.06 L533.09,493.98 L532.78,493.91 L532.47,493.84 L532.15,493.77 L531.83,493.70 L531.51,493.64 L531.18,493.57 L530.84,493.51 L530.51,493.44 L530.17,493.38 L529.82,493.32 L529.47,493.26 L529.12,493.21 L528.76,493.15 L528.40,493.10 L528.04,493.04 L527.67,492.99 L527.30,492.94 L526.93,492.89 L526.56,492.84 L526.18,492.79 L525.80,492.75 L525.41,492.70 L525.02,492.66 L524.63,492.62 L524.24,492.58 L523.85,492.54 L523.45,492.50 L523.05,492.47 L522.65,492.43 L522.24,492.40 L521.84,492.36 L521.43,492.33 L521.02,492.30 L520.61,492.27 L520.19,492.25 L519.78,492.22 L519.36,492.20 L518.94,492.17 L518.53,492.15 L518.10,492.13 L517.68,492.11 L517.26,492.09 L516.83,492.07 L516.41,492.06 L515.98,492.04 L515.55,492.03 L515.13,492.02 L514.70,492.01 L514.27,492.00 L513.84,491.99 L513.41,491.98 L512.98,491.98 L512.54,491.97 L512.11,491.97 L511.68,491.97 L511.25,491.97 L510.82,491.97 L510.39,491.97 L509.96,491.97 L509.52,491.98 L509.09,491.98 L508.66,491.99 L508.23,492.00 L507.80,492.01 L507.37,492.02 L506.95,492.03 L506.52,492.04 L506.09,492.06 L505.67,492.07 L505.24,492.09 L504.82,492.11 L504.40,492.13 L503.97,492.15 L503.56,492.17 L503.14,492.20 L502.72,492.22 L502.31,492.25 L501.89,492.27 L501.48,492.30 L501.07,492.33 L500.66,492.36 L500.26,492.40 L499.85,492.43 L499.45,492.47 L499.05,492.50 L498.65,492.54 L498.26,492.58 L497.87,492.62 L497.48,492.66 L497.09,492.70 L496.70,492.75 L496.32,492.79 L495.94,492.84 L495.57,492.89 L495.20,492.94 L494.83,492.99 L494.46,493.04 L494.10,493.10 L493.74,493.15 L493.38,493.21 L493.03,493.26 L492.68,493.32 L492.33,493.38 L491.99,493.44 L491.66,493.51 L491.32,493.57 L490.99,493.64 L490.67,493.70 L490.35,493.77 L490.03,493.84 L489.72,493.91 L489.41,493.98 L489.11,494.06 L488.81,494.13 L488.52,494.21 L488.23,494.29 L487.94,494.36 L487.67,494.44 L487.39,494.53 L487.13,494.61 L486.86,494.69 L486.61,494.78 L486.35,494.87 L486.11,494.95 L485.87,495.04 L485.64,495.13 L485.41,495.23 L485.18,495.32 L484.97,495.41 L484.76,495.51 L484.56,495.61 L484.36,495.71 L484.17,495.81 L483.98,495.91 L483.81,496.01 L483.64,496.11 L483.47,496.22 L483.32,496.32 L483.17,496.43 L483.03,496.54 L482.89,496.65 L482.77,496.76 L482.65,496.87 L482.53,496.99 L482.43,497.10 L482.33,497.22 L481.06,496.96 L479.79,496.69 L478.53,496.42 L477.28,496.13 L476.04,495.83 L474.82,495.52 L473.60,495.20 L472.40,494.87 L471.21,494.53 L470.02,494.18 L468.86,493.82 L467.70,493.45 L466.56,493.07 L465.43,492.68 L464.32,492.28 L463.22,491.87 L462.13,491.45 L461.06,491.02 L460.01,490.58 L458.97,490.13 L457.95,489.68 L456.94,489.21 L455.95,488.74 L454.97,488.26 L454.02,487.77 L453.08,487.27 L452.16,486.76 L451.25,486.25 L450.37,485.73 L449.50,485.20 L448.65,484.66 L447.83,484.12 L447.02,483.57 L446.23,483.01 L445.46,482.44 L444.71,481.87 L443.98,481.29 L443.27,480.71 L442.58,480.12 L441.91,479.52 L441.26,478.92 L440.64,478.32 L440.04,477.70 L439.45,477.09 L438.89,476.46 L438.36,475.84 L437.84,475.21 L437.35,474.57 L436.88,473.93 L436.43,473.29 L436.00,472.64 L435.60,471.99 L435.22,471.33 L434.86,470.67 L434.53,470.01 L434.22,469.35 L433.93,468.68 L433.67,468.01 L433.43,467.34 L433.22,466.67 L433.03,465.99 L432.86,465.32 L432.71,464.64 L432.59,463.96 L432.50,463.28 L432.43,462.60 L432.38,461.92 L432.35,461.24 L432.35,460.56 L432.38,459.88 L432.43,459.20 L432.50,458.52 L432.59,457.84 L432.71,457.16 L432.86,456.48 L433.03,455.81 L433.22,455.13 L433.43,454.46 L433.67,453.79 L433.93,453.12 L434.22,452.45 L434.53,451.79 L434.86,451.13 L435.22,450.47 L435.60,449.81 L436.00,449.16 L436.43,448.51 L436.88,447.87 L437.35,447.23 L437.84,446.59 L438.36,445.96 L438.89,445.34 L439.45,444.71 L440.04,444.10 L440.64,443.48 L441.26,442.88 L441.91,442.28 L442.58,441.68 L443.27,441.09 L443.98,440.51 L444.71,439.93 L445.46,439.36 L446.23,438.79 L447.02,438.23 L447.83,437.68 L448.65,437.14 L449.50,436.60 L450.37,436.07 L451.25,435.55 L452.16,435.04 L453.08,434.53 L454.02,434.03 L454.97,433.54 L455.95,433.06 L456.94,432.59 L457.95,432.12 L458.97,431.67 L460.01,431.22 L461.06,430.78 L462.13,430.35 L463.22,429.93 L464.32,429.52 L465.43,429.12 L466.56,428.73 L467.70,428.35 L468.86,427.98 L470.02,427.62 L471.21,427.27 L472.40,426.93 L473.60,426.60 L474.82,426.28 L476.04,425.97 L477.28,425.67 L478.53,425.38 L479.79,425.11 L481.06,424.84 L482.33,424.58 L482.33,424.58 L482.33,424.58Z"/></clipPath><path d="M482.33,424.58 L482.43,424.70 L482.53,424.81 L482.65,424.93 L482.77,425.04 L482.89,425.15 L483.03,425.26 L483.17,425.37 L483.32,425.48 L483.47,425.58 L483.64,425.69 L483.81,425.79 L483.98,425.89 L484.17,425.99 L484.36,426.09 L484.56,426.19 L484.76,426.29 L484.97,426.39 L485.18,426.48 L485.41,426.57 L485.64,426.67 L485.87,426.76 L486.11,426.85 L486.35,426.93 L486.61,427.02 L486.86,427.11 L487.13,427.19 L487.39,427.27 L487.67,427.36 L487.94,427.44 L488.23,427.51 L488.52,427.59 L488.81,427.67 L489.11,427.74 L489.41,427.82 L489.72,427.89 L490.03,427.96 L490.35,428.03 L490.67,428.10 L490.99,428.16 L491.32,428.23 L491.66,428.29 L491.99,428.36 L492.33,428.42 L492.68,428.48 L493.03,428.54 L493.38,428.59 L493.74,428.65 L494.10,428.70 L494.46,428.76 L494.83,428.81 L495.20,428.86 L495.57,428.91 L495.94,428.96 L496.32,429.01 L496.70,429.05 L497.09,429.10 L497.48,429.14 L497.87,429.18 L498.26,429.22 L498.65,429.26 L499.05,429.30 L499.45,429.33 L499.85,429.37 L500.26,429.40 L500.66,429.44 L501.07,429.47 L501.48,429.50 L501.89,429.53 L502.31,429.55 L502.72,429.58 L503.14,429.60 L503.56,429.63 L503.97,429.65 L504.40,429.67 L504.82,429.69 L505.24,429.71 L505.67,429.73 L506.09,429.74 L506.52,429.76 L506.95,429.77 L507.37,429.78 L507.80,429.79 L508.23,429.80 L508.66,429.81 L509.09,429.82 L509.52,429.82 L509.96,429.83 L510.39,429.83 L510.82,429.83 L511.25,429.83 L511.68,429.83 L512.11,429.83 L512.54,429.83 L512.98,429.82 L513.41,429.82 L513.84,429.81 L514.27,429.80 L514.70,429.79 L515.13,429.78 L515.55,429.77 L515.98,429.76 L516.41,429.74 L516.83,429.73 L517.26,429.71 L517.68,429.69 L518.10,429.67 L518.53,429.65 L518.94,429.63 L519.36,429.60 L519.78,429.58 L520.19,429.55 L520.61,429.53 L521.02,429.50 L521.43,429.47 L521.84,429.44 L522.24,429.40 L522.65,429.37 L523.05,429.33 L523.45,429.30 L523.85,429.26 L524.24,429.22 L524.63,429.18 L525.02,429.14 L525.41,429.10 L525.80,429.05 L526.18,429.01 L526.56,428.96 L526.93,428.91 L527.30,428.86 L527.67,428.81 L528.04,428.76 L528.40,428.70 L528.76,428.65 L529.12,428.59 L529.47,428.54 L529.82,428.48 L530.17,428.42 L530.51,428.36 L530.84,428.29 L531.18,428.23 L531.51,428.16 L531.83,428.10 L532.15,428.03 L532.47,427.96 L532.78,427.89 L533.09,427.82 L533.39,427.74 L533.69,427.67 L533.98,427.59 L534.27,427.51 L534.56,427.44 L534.83,427.36 L535.11,427.27 L535.37,427.19 L535.64,427.11 L535.89,427.02 L536.15,426.93 L536.39,426.85 L536.63,426.76 L536.86,426.67 L537.09,426.57 L537.32,426.48 L537.53,426.39 L537.74,426.29 L537.94,426.19 L538.14,426.09 L538.33,425.99 L538.52,425.89 L538.69,425.79 L538.86,425.69 L539.03,425.58 L539.18,425.48 L539.33,425.37 L539.47,425.26 L539.61,425.15 L539.73,425.04 L539.85,424.93 L539.97,424.81 L540.07,424.70 L540.17,424.58 L541.44,424.84 L542.71,425.11 L543.97,425.38 L545.22,425.67 L546.46,425.97 L547.68,426.28 L548.90,426.60 L550.10,426.93 L551.29,427.27 L552.48,427.62 L553.64,427.98 L554.80,428.35 L555.94,428.73 L557.07,429.12 L558.18,429.52 L559.28,429.93 L560.37,430.35 L561.44,430.78 L562.49,431.22 L563.53,431.67 L564.55,432.12 L565.56,432.59 L566.55,433.06 L567.53,433.54 L568.48,434.03 L569.42,434.53 L570.34,435.04 L571.25,435.55 L572.13,436.07 L573.00,436.60 L573.85,437.14 L574.67,437.68 L575.48,438.23 L576.27,438.79 L577.04,439.36 L577.79,439.93 L578.52,440.51 L579.23,441.09 L579.92,441.68 L580.59,442.28 L581.24,442.88 L581.86,443.48 L582.46,444.10 L583.05,444.71 L583.61,445.34 L584.14,445.96 L584.66,446.59 L585.15,447.23 L585.62,447.87 L586.07,448.51 L586.50,449.16 L586.90,449.81 L587.28,450.47 L587.64,451.13 L587.97,451.79 L588.28,452.45 L588.57,453.12 L588.83,453.79 L589.07,454.46 L589.28,455.13 L589.47,455.81 L589.64,456.48 L589.79,457.16 L589.91,457.84 L590.00,458.52 L590.07,459.20 L590.12,459.88 L590.15,460.56 L590.15,461.24 L590.12,461.92 L590.07,462.60 L590.00,463.28 L589.91,463.96 L589.79,464.64 L589.64,465.32 L589.47,465.99 L589.28,466.67 L589.07,467.34 L588.83,468.01 L588.57,468.68 L588.28,469.35 L587.97,470.01 L587.64,470.67 L587.28,471.33 L586.90,471.99 L586.50,472.64 L586.07,473.29 L585.62,473.93 L585.15,474.57 L584.66,475.21 L584.14,475.84 L583.61,476.46 L583.05,477.09 L582.46,477.70 L581.86,478.32 L581.24,478.92 L580.59,479.52 L579.92,480.12 L579.23,480.71 L578.52,481.29 L577.79,481.87 L577.04,482.44 L576.27,483.01 L575.48,483.57 L574.67,484.12 L573.85,484.66 L573.00,485.20 L572.13,485.73 L571.25,486.25 L570.34,486.76 L569.42,487.27 L568.48,487.77 L567.53,488.26 L566.55,488.74 L565.56,489.21 L564.55,489.68 L563.53,490.13 L562.49,490.58 L561.44,491.02 L560.37,491.45 L559.28,491.87 L558.18,492.28 L557.07,492.68 L555.94,493.07 L554.80,493.45 L553.64,493.82 L552.48,494.18 L551.29,494.53 L550.10,494.87 L548.90,495.20 L547.68,495.52 L546.46,495.83 L545.22,496.13 L543.97,496.42 L542.71,496.69 L541.44,496.96 L540.17,497.22 L540.17,497.22 L540.17,497.22 L540.17,497.22 L540.07,497.10 L539.97,496.99 L539.85,496.87 L539.73,496.76 L539.61,496.65 L539.47,496.54 L539.33,496.43 L539.18,496.32 L539.03,496.22 L538.86,496.11 L538.69,496.01 L538.52,495.91 L538.33,495.81 L538.14,495.71 L537.94,495.61 L537.74,495.51 L537.53,495.41 L537.32,495.32 L537.09,495.23 L536.86,495.13 L536.63,495.04 L536.39,494.95 L536.15,494.87 L535.89,494.78 L535.64,494.69 L535.37,494.61 L535.11,494.53 L534.83,494.44 L534.56,494.36 L534.27,494.29 L533.98,494.21 L533.69,494.13 L533.39,494.06 L533.09,493.98 L532.78,493.91 L532.47,493.84 L532.15,493.77 L531.83,493.70 L531.51,493.64 L531.18,493.57 L530.84,493.51 L530.51,493.44 L530.17,493.38 L529.82,493.32 L529.47,493.26 L529.12,493.21 L528.76,493.15 L528.40,493.10 L528.04,493.04 L527.67,492.99 L527.30,492.94 L526.93,492.89 L526.56,492.84 L526.18,492.79 L525.80,492.75 L525.41,492.70 L525.02,492.66 L524.63,492.62 L524.24,492.58 L523.85,492.54 L523.45,492.50 L523.05,492.47 L522.65,492.43 L522.24,492.40 L521.84,492.36 L521.43,492.33 L521.02,492.30 L520.61,492.27 L520.19,492.25 L519.78,492.22 L519.36,492.20 L518.94,492.17 L518.53,492.15 L518.10,492.13 L517.68,492.11 L517.26,492.09 L516.83,492.07 L516.41,492.06 L515.98,492.04 L515.55,492.03 L515.13,492.02 L514.70,492.01 L514.27,492.00 L513.84,491.99 L513.41,491.98 L512.98,491.98 L512.54,491.97 L512.11,491.97 L511.68,491.97 L511.25,491.97 L510.82,491.97 L510.39,491.97 L509.96,491.97 L509.52,491.98 L509.09,491.98 L508.66,491.99 L508.23,492.00 L507.80,492.01 L507.37,492.02 L506.95,492.03 L506.52,492.04 L506.09,492.06 L505.67,492.07 L505.24,492.09 L504.82,492.11 L504.40,492.13 L503.97,492.15 L503.56,492.17 L503.14,492.20 L502.72,492.22 L502.31,492.25 L501.89,492.27 L501.48,492.30 L501.07,492.33 L500.66,492.36 L500.26,492.40 L499.85,492.43 L499.45,492.47 L499.05,492.50 L498.65,492.54 L498.26,492.58 L497.87,492.62 L497.48,492.66 L497.09,492.70 L496.70,492.75 L496.32,492.79 L495.94,492.84 L495.57,492.89 L495.20,492.94 L494.83,492.99 L494.46,493.04 L494.10,493.10 L493.74,493.15 L493.38,493.21 L493.03,493.26 L492.68,493.32 L492.33,493.38 L491.99,493.44 L491.66,493.51 L491.32,493.57 L490.99,493.64 L490.67,493.70 L490.35,493.77 L490.03,493.84 L489.72,493.91 L489.41,493.98 L489.11,494.06 L488.81,494.13 L488.52,494.21 L488.23,494.29 L487.94,494.36 L487.67,494.44 L487.39,494.53 L487.13,494.61 L486.86,494.69 L486.61,494.78 L486.35,494.87 L486.11,494.95 L485.87,495.04 L485.64,495.13 L485.41,495.23 L485.18,495.32 L484.97,495.41 L484.76,495.51 L484.56,495.61 L484.36,495.71 L484.17,495.81 L483.98,495.91 L483.81,496.01 L483.64,496.11 L483.47,496.22 L483.32,496.32 L483.17,496.43 L483.03,496.54 L482.89,496.65 L482.77,496.76 L482.65,496.87 L482.53,496.99 L482.43,497.10 L482.33,497.22 L481.06,496.96 L479.79,496.69 L478.53,496.42 L477.28,496.13 L476.04,495.83 L474.82,495.52 L473.60,495.20 L472.40,494.87 L471.21,494.53 L470.02,494.18 L468.86,493.82 L467.70,493.45 L466.56,493.07 L465.43,492.68 L464.32,492.28 L463.22,491.87 L462.13,491.45 L461.06,491.02 L460.01,490.58 L458.97,490.13 L457.95,489.68 L456.94,489.21 L455.95,488.74 L454.97,488.26 L454.02,487.77 L453.08,487.27 L452.16,486.76 L451.25,486.25 L450.37,485.73 L449.50,485.20 L448.65,484.66 L447.83,484.12 L447.02,483.57 L446.23,483.01 L445.46,482.44 L444.71,481.87 L443.98,481.29 L443.27,480.71 L442.58,480.12 L441.91,479.52 L441.26,478.92 L440.64,478.32 L440.04,477.70 L439.45,477.09 L438.89,476.46 L438.36,475.84 L437.84,475.21 L437.35,474.57 L436.88,473.93 L436.43,473.29 L436.00,472.64 L435.60,471.99 L435.22,471.33 L434.86,470.67 L434.53,470.01 L434.22,469.35 L433.93,468.68 L433.67,468.01 L433.43,467.34 L433.22,466.67 L433.03,465.99 L432.86,465.32 L432.71,464.64 L432.59,463.96 L432.50,463.28 L432.43,462.60 L432.38,461.92 L432.35,461.24 L432.35,460.56 L432.38,459.88 L432.43,459.20 L432.50,458.52 L432.59,457.84 L432.71,457.16 L432.86,456.48 L433.03,455.81 L433.22,455.13 L433.43,454.46 L433.67,453.79 L433.93,453.12 L434.22,452.45 L434.53,451.79 L434.86,451.13 L435.22,450.47 L435.60,449.81 L436.00,449.16 L436.43,448.51 L436.88,447.87 L437.35,447.23 L437.84,446.59 L438.36,445.96 L438.89,445.34 L439.45,444.71 L440.04,444.10 L440.64,443.48 L441.26,442.88 L441.91,442.28 L442.58,441.68 L443.27,441.09 L443.98,440.51 L444.71,439.93 L445.46,439.36 L446.23,438.79 L447.02,438.23 L447.83,437.68 L448.65,437.14 L449.50,436.60 L450.37,436.07 L451.25,435.55 L452.16,435.04 L453.08,434.53 L454.02,434.03 L454.97,433.54 L455.95,433.06 L456.94,432.59 L457.95,432.12 L458.97,431.67 L460.01,431.22 L461.06,430.78 L462.13,430.35 L463.22,429.93 L464.32,429.52 L465.43,429.12 L466.56,428.73 L467.70,428.35 L468.86,427.98 L470.02,427.62 L471.21,427.27 L472.40,426.93 L473.60,426.60 L474.82,426.28 L476.04,425.97 L477.28,425.67 L478.53,425.38 L479.79,425.11 L481.06,424.84 L482.33,424.58 L482.33,424.58 L482.33,424.58Z" fill="#cff0fa"/><g clip-path="url(#mapclip)" fill="#fbd6d6" stroke="#281414" stroke-width="0.85" stroke-linejoin="round"><path d="M447.26,438.07 L445.48,439.34 L443.81,440.64 L442.24,441.98 L441.27,442.88 L439.94,444.20 L438.71,445.54 L437.59,446.91 L436.60,448.26 L435.72,449.62 L434.93,451.00 L433.80,453.45 L433.32,454.79 L432.90,456.31 L432.59,457.84 L432.62,457.67 L432.65,457.50 L432.73,457.06 L433.51,456.65 L434.17,457.09 L434.86,457.52 L435.56,457.94 L435.77,459.59 L435.52,461.56 L436.32,462.85 L437.22,464.12 L437.15,465.10 L437.83,466.85 L438.67,468.59 L439.08,470.19 L439.63,471.79 L441.16,473.43 L442.82,475.04 L444.00,476.36 L445.28,477.67 L447.03,478.71 L448.75,480.08 L450.58,481.41 L451.56,481.74 L452.06,481.35 L452.59,480.97 L452.48,480.16 L452.44,479.36 L451.61,477.59 L450.49,476.18 L450.54,474.94 L449.54,473.53 L448.46,472.42 L448.70,471.49 L448.99,470.56 L449.35,469.65 L448.88,468.49 L448.47,467.33 L447.52,465.61 L447.14,463.85 L447.87,461.90 L448.87,460.03 L450.47,458.03 L451.46,456.47 L452.56,454.94 L452.90,454.10 L451.98,454.34 L451.06,454.59 L450.15,454.84 L449.68,454.17 L449.50,452.87 L449.42,451.57 L449.50,450.26 L450.00,448.62 L450.45,446.97 L451.37,445.12 L452.29,443.50 L453.04,442.67 L451.78,442.71 L451.42,442.36 L451.08,442.00 L450.09,442.07 L449.11,442.14 L449.71,441.52 L449.12,441.32 L448.56,441.12 L448.32,440.71 L448.12,440.29 L450.76,438.09 L450.08,437.99 L449.41,437.88 L448.75,437.76 L447.49,438.03 L446.70,438.46 L446.98,438.26Z"/><path d="M573.84,438.54 L575.20,439.89 L576.43,441.27 L577.52,442.66 L577.54,443.72 L578.32,445.07 L578.99,446.42 L579.54,447.79 L580.34,449.06 L581.05,450.35 L581.68,451.65 L583.55,453.89 L584.68,455.11 L585.95,456.51 L587.12,457.94 L587.98,457.74 L588.82,457.54 L589.60,457.07 L589.67,456.62 L589.76,457.02 L589.84,457.43 L589.91,457.84 L590.10,459.54 L590.14,461.58 L590.04,462.94 L589.85,464.30 L589.64,465.32 L589.12,467.17 L588.43,469.02 L587.64,470.67 L586.70,472.31 L585.51,474.09 L584.14,475.84 L582.90,477.24 L581.55,478.62 L580.26,479.82 L578.52,481.29 L576.66,482.73 L576.04,483.18 L576.35,482.95 L576.66,482.73 L577.61,482.02 L578.52,481.29 L580.59,479.52 L582.16,478.01 L583.33,476.78 L584.66,475.21 L585.62,473.93 L586.29,472.96 L586.90,471.99 L587.46,471.00 L588.13,469.68 L588.70,468.35 L589.38,466.33 L589.85,464.30 L590.11,462.06 L590.12,459.88 L589.85,457.50 L589.43,455.64 L588.83,453.79 L588.43,452.78 L588.57,453.12 L588.70,453.45 L588.83,453.79 L588.54,453.05 L587.87,451.59 L587.09,450.14 L586.20,448.71 L584.91,446.91 L583.44,445.15 L581.55,443.18 L579.72,441.50 L578.67,440.62 L578.95,440.86 L578.63,440.59 L578.31,440.33 L578.59,440.56 L578.88,440.80 L578.09,440.16 L578.01,440.10 L577.94,440.04 L577.57,439.76 L577.19,439.47 L574.10,437.30 L574.21,437.37 L574.32,437.45 L574.43,437.52 L575.12,437.99 L575.34,438.61 L574.59,438.58Z"/><path d="M452.63,473.51 L453.96,475.15 L455.05,475.04 L454.47,473.71 L454.00,472.37 L453.63,471.03 L453.36,469.68 L452.14,467.74 L451.63,468.92 L451.34,470.68 L451.93,472.10Z"/><path d="M452.34,443.45 L452.91,443.78 L452.27,444.93 L451.71,446.08 L451.25,447.25 L450.88,448.41 L450.37,450.45 L450.19,452.50 L449.98,453.55 L450.63,453.41 L452.23,452.92 L454.02,451.99 L455.75,451.13 L457.14,450.37 L458.93,448.59 L458.30,447.36 L458.93,446.40 L457.33,447.44 L456.43,447.31 L456.74,446.06 L457.34,444.38 L458.26,444.20 L457.86,445.37 L458.62,445.66 L459.39,445.93 L459.34,446.83 L460.52,447.16 L461.51,447.18 L462.51,447.21 L462.38,448.07 L462.56,449.61 L463.77,449.52 L463.11,450.72 L462.83,452.33 L462.80,453.94 L463.01,455.82 L463.38,456.58 L463.91,456.11 L464.62,455.44 L465.20,453.86 L465.51,452.76 L466.62,452.17 L468.05,451.02 L469.50,450.04 L470.96,449.53 L471.87,449.42 L471.80,450.09 L472.11,451.44 L471.83,452.66 L473.27,452.45 L473.22,454.09 L472.90,455.34 L472.64,456.59 L473.41,458.08 L473.72,459.47 L474.70,460.19 L475.02,460.19 L474.72,458.81 L474.31,457.79 L473.60,457.22 L473.48,456.14 L473.72,455.07 L474.01,454.00 L474.84,454.69 L475.61,456.53 L475.85,455.82 L476.62,455.63 L477.86,455.05 L478.09,454.15 L477.95,452.83 L477.43,451.81 L477.99,450.47 L478.74,450.10 L479.70,450.28 L481.18,449.83 L482.93,449.24 L484.44,448.21 L485.70,447.03 L486.44,445.75 L486.20,444.97 L486.22,443.91 L488.14,442.70 L486.73,442.59 L486.73,441.77 L488.67,441.06 L489.45,441.53 L489.19,442.60 L489.02,444.07 L490.38,443.79 L490.77,443.00 L490.56,442.19 L491.72,441.21 L492.43,440.59 L493.40,440.40 L494.53,440.03 L496.17,438.81 L497.33,438.00 L497.97,436.64 L498.79,435.88 L498.18,435.69 L497.58,435.51 L497.22,435.18 L498.70,434.31 L500.12,433.45 L500.79,433.42 L501.46,433.38 L502.52,433.26 L503.36,433.58 L504.11,433.40 L504.96,432.54 L505.51,432.51 L506.06,432.49 L506.46,433.33 L505.75,433.64 L505.03,433.95 L504.29,434.25 L503.89,435.17 L503.51,436.10 L503.13,437.03 L504.25,436.23 L505.69,435.01 L506.29,434.26 L506.33,433.29 L507.35,433.14 L507.96,433.21 L508.58,433.28 L509.36,432.67 L510.12,432.47 L510.86,432.26 L511.13,431.32 L511.98,431.24 L512.48,431.38 L513.00,431.52 L513.05,431.03 L512.38,430.31 L511.80,429.97 L511.25,429.83 L510.82,429.83 L510.39,429.83 L509.96,429.83 L509.52,429.82 L509.09,429.82 L508.66,429.81 L508.23,429.80 L507.80,429.79 L507.37,429.78 L506.95,429.77 L506.52,429.76 L506.09,429.74 L505.67,429.73 L505.24,429.71 L504.82,429.69 L504.40,429.67 L503.97,429.65 L503.56,429.63 L503.14,429.60 L502.72,429.58 L502.31,429.55 L501.89,429.53 L501.48,429.50 L501.07,429.47 L500.66,429.44 L500.26,429.40 L499.85,429.37 L499.45,429.33 L499.05,429.30 L498.65,429.26 L498.26,429.22 L497.87,429.18 L497.48,429.14 L497.09,429.10 L496.70,429.05 L496.32,429.01 L495.94,428.96 L495.57,428.91 L495.20,428.86 L494.83,428.81 L494.46,428.76 L494.10,428.70 L493.74,428.65 L493.38,428.59 L493.03,428.54 L492.68,428.48 L492.33,428.42 L491.99,428.36 L491.66,428.29 L491.32,428.23 L490.99,428.16 L490.67,428.10 L490.35,428.03 L490.03,427.96 L489.72,427.89 L489.41,427.82 L489.11,427.74 L488.81,427.67 L488.52,427.59 L488.23,427.51 L487.87,427.42 L487.53,427.31 L487.26,427.23 L486.99,427.15 L486.63,427.10 L486.17,427.08 L485.71,427.05 L484.62,427.19 L483.52,427.32 L484.29,426.88 L485.11,426.45 L484.86,426.34 L484.61,426.22 L484.36,426.09 L484.17,425.99 L483.98,425.89 L483.81,425.79 L483.64,425.69 L483.47,425.58 L483.12,425.52 L481.96,425.65 L478.80,426.28 L477.40,426.45 L476.01,426.62 L474.62,426.78 L471.15,427.85 L470.18,428.32 L472.04,428.10 L468.60,429.45 L466.79,429.94 L469.25,428.81 L465.90,430.04 L464.96,429.92 L462.66,430.66 L461.85,430.72 L460.22,431.13 L458.97,431.67 L456.44,432.82 L454.49,433.79 L454.24,433.92 L453.99,434.05 L453.73,434.18 L451.82,435.22 L449.99,436.30 L448.24,437.41 L447.83,437.68 L447.91,437.63 L447.99,437.57 L449.67,436.50 L453.11,435.08 L454.33,434.45 L454.79,434.73 L456.46,434.29 L456.35,434.66 L454.77,436.03 L454.23,437.09 L452.70,438.06 L455.12,437.12 L455.56,436.29 L457.36,434.55 L458.61,434.12 L457.64,435.19 L456.79,436.29 L455.45,437.72 L453.76,439.05 L454.88,438.62 L457.45,437.32 L456.86,437.73 L458.12,437.35 L458.79,437.38 L460.24,437.19 L460.60,437.85 L461.41,437.86 L462.22,437.86 L460.98,438.62 L459.21,439.29 L457.45,439.97 L456.28,440.89 L454.54,442.16 L453.64,442.77Z"/><path d="M579.65,441.44 L579.92,441.68 L581.23,442.88 L582.46,444.10 L583.61,445.34 L584.66,446.59 L586.29,448.84 L587.64,451.13 L588.22,452.32 L588.13,452.12 L587.81,451.46 L587.17,450.27 L586.50,449.16 L585.85,448.19 L584.20,446.03 L583.05,444.71 L581.98,443.61 L583.22,444.90 L583.16,444.84 L581.86,443.48 L579.92,441.68 L579.58,441.38 L580.98,442.64 L581.20,442.85 L581.42,443.06 L582.40,444.03 L582.64,444.28 L582.58,444.22 L582.52,444.16 L583.44,445.15 L584.91,446.91 L584.76,446.72 L585.85,448.19 L587.09,450.14 L588.13,452.12 L589.07,454.46 L589.36,455.40 L589.18,454.79 L588.88,453.92 L588.03,451.92 L587.32,450.53 L586.86,449.75 L585.90,448.26 L584.96,446.98 L584.40,446.28 L584.25,446.09 L584.91,446.91 L586.12,448.58 L587.09,450.14 L586.90,449.81 L588.03,451.92 L588.74,453.55 L589.30,455.20 L589.79,457.16 L590.06,458.99 L590.13,459.95 L590.13,459.95 L589.95,458.11 L589.70,456.75 L589.53,456.01 L589.11,454.59 L588.59,453.19 L587.97,451.79 L588.37,452.65 L589.26,455.06 L588.95,454.12 L588.85,453.85 L588.54,453.05 L588.00,451.85 L587.09,450.14 L586.29,448.84 L585.06,447.10 L584.66,446.59 L584.81,446.79 L584.30,446.15 L583.61,445.34 L582.34,443.97 L580.78,442.46 L578.95,440.86 L577.79,439.93 L576.12,438.68 L573.93,437.19 L573.85,437.14 L572.39,436.23 L570.89,435.34 L571.69,435.81 L573.68,437.03 L576.20,438.74 L575.64,438.34 L574.26,437.41 L572.83,436.50 L570.89,435.34 L569.61,434.63 L569.14,434.38 L568.29,433.93 L565.56,432.59 L563.63,431.71 L560.37,430.35 L558.40,429.60 L558.02,429.46 L557.63,429.32 L556.84,429.04 L554.40,428.22 L551.89,427.44 L551.71,427.39 L551.53,427.34 L551.06,427.20 L551.89,427.44 L551.29,427.27 L548.78,426.57 L548.66,426.53 L548.53,426.50 L550.94,427.17 L551.85,427.43 L552.75,427.70 L553.64,427.98 L556.13,428.80 L558.55,429.66 L560.90,430.57 L558.84,429.77 L555.60,428.62 L553.53,427.94 L550.82,427.13 L550.34,427.00 L550.52,427.05 L550.70,427.10 L548.90,426.60 L548.29,426.44 L547.68,426.28 L544.84,425.58 L544.59,425.52 L545.03,425.63 L545.47,425.73 L543.97,425.38 L541.70,424.89 L540.61,424.67 L540.17,424.58 L540.17,424.58 L540.17,424.58 L540.17,424.58 L540.17,424.58 L540.17,424.58 L540.17,424.58 L540.17,424.58 L540.17,424.58 L540.17,424.58 L540.17,424.58 L540.17,424.58 L540.17,424.58 L540.17,424.58 L540.17,424.58 L540.17,424.58 L540.17,424.58 L540.17,424.58 L540.17,424.58 L540.17,424.58 L540.17,424.58 L540.17,424.58 L540.17,424.58 L540.17,424.58 L540.17,424.58 L540.17,424.58 L540.17,424.58 L540.17,424.58 L540.17,424.58 L540.17,424.58 L540.17,424.58 L540.17,424.58 L540.17,424.58 L540.17,424.58 L540.17,424.58 L540.17,424.58 L540.17,424.58 L540.17,424.58 L540.17,424.58 L540.17,424.58 L540.17,424.58 L540.17,424.58 L540.17,424.58 L540.17,424.58 L540.17,424.58 L540.17,424.58 L540.17,424.58 L540.17,424.58 L540.17,424.58 L540.17,424.58 L540.17,424.58 L540.17,424.58 L540.17,424.58 L540.17,424.58 L540.17,424.58 L540.17,424.58 L540.17,424.58 L540.17,424.58 L540.17,424.58 L540.17,424.58 L540.17,424.58 L540.17,424.58 L540.17,424.58 L540.17,424.58 L540.17,424.58 L540.29,424.61 L540.55,424.66 L540.81,424.71 L541.76,424.90 L542.71,425.11 L541.44,424.84 L540.17,424.58 L540.17,424.58 L540.17,424.58 L540.17,424.58 L540.17,424.58 L540.17,424.58 L540.17,424.58 L540.17,424.58 L540.17,424.58 L540.38,424.63 L541.44,424.84 L544.59,425.52 L545.84,425.82 L547.07,426.12 L548.29,426.44 L551.89,427.44 L553.06,427.80 L551.53,427.34 L555.37,428.54 L557.07,429.12 L554.22,428.16 L557.74,429.36 L558.18,429.52 L560.37,430.35 L560.90,430.57 L562.06,431.26 L562.82,432.04 L565.86,432.92 L567.74,433.91 L567.50,434.26 L567.24,434.60 L566.95,434.94 L568.77,435.97 L570.52,437.03 L572.19,438.11 L573.30,438.16 L573.69,437.95 L574.06,437.73 L572.83,436.50 L569.98,434.83 L568.77,434.18 L568.86,434.23 L567.62,433.59 L568.10,433.84 L570.34,435.04 L571.78,435.86 L573.42,436.87 L571.51,435.71 L570.34,435.04 L567.53,433.54 L566.45,433.01 L568.20,433.88 L569.88,434.78 L572.13,436.07 L574.26,437.41 L573.42,436.87 L570.98,435.40 L571.69,435.81 L570.80,435.29 L570.62,435.19 L569.88,434.78 L570.71,435.24 L570.48,435.11 L570.25,434.99 L571.69,435.81 L573.08,436.66 L574.43,437.52 L575.88,438.51 L577.79,439.93 L578.67,440.62Z"/><path d="M460.53,431.00 L460.96,430.83 L461.38,430.65 L462.02,430.60 L463.80,429.75 L466.56,428.73 L470.14,427.58 L470.02,427.62 L467.70,428.35 L465.99,428.93 L464.87,429.32 L463.77,429.73 L462.24,430.31Z"/><path d="M561.14,431.45 L561.09,431.09 L561.00,430.72 L560.69,430.48 L558.73,429.73 L555.74,428.87 L552.07,427.81 L551.97,427.99 L554.12,428.81 L555.91,429.32 L557.26,429.56 L558.15,430.09 L559.56,430.72Z"/><path d="M558.79,430.54 L556.32,429.60 L555.30,429.47 L556.84,430.31 L558.83,431.09Z"/><path d="M489.81,445.82 L490.94,444.52 L492.41,444.48 L493.31,444.29 L494.21,444.11 L495.20,443.62 L495.73,442.70 L496.26,441.79 L496.34,441.10 L495.71,441.22 L495.41,441.77 L494.54,442.67 L493.56,443.10 L491.87,443.75 L490.87,444.19Z"/><path d="M495.77,441.09 L497.07,439.39 L497.61,439.84 L498.19,440.29 L497.19,440.90Z"/><path d="M497.39,439.09 L498.02,438.88 L498.57,437.33 L499.00,436.46 L499.46,435.60 L498.91,436.01 L498.16,437.32 L497.76,438.20Z"/><path d="M484.17,449.77 L484.96,448.47 L485.31,448.58 L484.35,450.07Z"/><path d="M478.63,451.10 L479.52,450.82 L479.66,451.08 L478.79,451.75Z"/><path d="M464.25,457.45 L464.63,455.81 L465.21,456.93 L464.89,457.62Z"/><path d="M483.53,451.72 L484.52,451.75 L484.23,452.80 L483.97,453.86 L484.79,454.46 L483.28,453.84 L483.24,452.95Z"/><path d="M483.47,457.42 L485.24,456.20 L485.59,457.44 L484.97,458.08 L484.21,457.03Z"/><path d="M483.74,455.19 L484.52,454.71 L485.35,455.36 L484.56,456.04 L483.87,455.93Z"/><path d="M471.10,458.01 L472.07,458.22 L473.25,459.72 L474.19,460.70 L475.16,461.66 L475.88,462.42 L475.89,463.85 L475.03,463.45 L474.06,462.69 L472.63,460.90 L471.54,459.25Z"/><path d="M475.67,464.36 L476.23,463.94 L477.17,464.19 L478.33,464.18 L480.01,464.76 L480.07,465.26 L479.02,465.15 L477.96,465.04 L476.26,464.65Z"/><path d="M480.31,465.31 L481.23,465.22 L482.15,465.14 L483.08,465.13 L484.02,465.12 L484.95,465.06 L485.88,465.00 L484.58,465.96 L483.41,465.87 L482.23,465.79 L481.27,465.55Z"/><path d="M477.24,460.14 L478.17,460.14 L479.13,459.29 L480.37,458.14 L481.23,457.40 L482.09,458.31 L481.50,458.75 L481.34,460.40 L480.74,461.65 L480.55,462.85 L479.84,462.66 L478.20,462.41 L477.71,461.66Z"/><path d="M482.24,463.64 L481.93,462.40 L482.28,460.65 L482.61,460.30 L483.65,460.23 L484.69,460.16 L483.31,461.20 L482.85,461.65 L483.99,463.14 L482.89,462.89 L482.71,463.69Z"/><path d="M485.92,460.01 L486.40,459.86 L486.29,460.90 L486.01,461.15Z"/><path d="M486.18,462.38 L487.46,462.48 L487.14,462.73 L486.28,462.63Z"/><path d="M487.58,461.54 L489.01,461.29 L489.97,462.03 L490.92,461.68 L492.37,462.17 L493.46,462.63 L494.56,463.09 L495.55,463.82 L495.44,464.55 L496.34,465.27 L497.11,465.99 L495.42,465.76 L494.89,464.94 L493.71,465.09 L493.49,465.38 L492.53,465.34 L491.31,464.91 L490.89,463.50 L489.63,463.11 L488.57,462.87 L488.07,462.28Z"/><path d="M496.02,463.57 L497.44,463.08 L497.70,463.57 L496.75,463.91Z"/><path d="M499.64,464.05 L500.62,464.41 L501.60,464.77 L502.36,465.73 L501.15,465.49Z"/><path d="M481.15,471.87 L481.60,472.85 L482.09,473.82 L482.81,475.02 L483.57,476.22 L484.34,477.74 L485.74,478.06 L486.68,477.49 L487.70,477.01 L488.42,476.75 L489.15,476.48 L490.40,476.20 L491.81,476.82 L492.84,477.69 L493.28,476.83 L493.90,477.99 L495.08,478.98 L496.65,479.44 L497.79,479.50 L499.05,478.73 L499.16,477.06 L499.72,475.74 L499.57,474.81 L499.43,473.87 L499.30,472.92 L497.76,471.76 L496.92,470.71 L495.55,469.87 L494.86,468.19 L493.95,467.71 L493.31,466.12 L493.00,467.24 L493.18,468.93 L492.79,469.42 L492.06,469.19 L490.55,468.48 L490.72,467.02 L490.21,466.73 L489.13,466.69 L487.69,466.46 L487.49,468.23 L486.24,467.71 L485.44,468.41 L484.66,469.07 L484.39,469.91 L483.68,470.67 L482.49,471.19Z"/><path d="M497.45,480.34 L498.86,480.35 L499.06,481.39 L498.41,481.59Z"/><path d="M508.18,477.23 L508.97,477.96 L509.53,478.42 L510.64,478.73 L510.05,479.46 L509.69,480.37 L509.14,480.37 L509.25,479.56 L508.77,479.42 L509.00,478.42Z"/><path d="M508.33,480.01 L508.98,480.33 L508.70,481.36 L507.94,482.39 L507.25,482.75 L506.29,482.50 L506.83,481.60 L507.78,480.83Z"/><path d="M503.83,470.60 L505.28,471.54 L505.06,471.69 L503.95,470.89Z"/><path d="M509.93,469.30 L510.59,469.15 L510.55,469.63 L509.98,469.58Z"/><path d="M514.13,431.01 L514.48,429.80 L515.02,429.78 L515.55,429.77 L515.98,429.76 L516.41,429.74 L516.86,429.72 L517.32,429.71 L517.77,429.69 L518.22,429.66 L518.68,429.64 L519.12,429.62 L519.57,429.59 L520.02,429.56 L520.47,429.53 L520.92,429.50 L521.36,429.47 L521.80,429.44 L522.24,429.40 L522.68,429.37 L523.12,429.33 L523.55,429.29 L523.98,429.25 L524.49,429.27 L525.09,429.35 L525.49,429.31 L525.88,429.27 L526.27,429.22 L526.66,429.17 L527.05,429.12 L527.43,429.08 L527.81,429.02 L528.18,428.97 L528.56,428.92 L528.93,428.86 L529.12,428.67 L529.41,428.55 L529.82,428.48 L530.54,428.60 L531.65,428.91 L532.77,429.22 L533.13,429.67 L533.44,430.12 L533.55,430.48 L533.62,430.84 L533.66,431.20 L533.66,431.57 L535.12,432.35 L536.55,433.15 L537.55,433.35 L538.56,433.56 L539.58,433.76 L541.59,434.51 L541.78,433.96 L540.66,433.08 L539.47,432.22 L538.21,431.38 L536.17,430.42 L536.83,430.48 L537.50,430.53 L538.17,430.59 L539.04,430.69 L539.91,430.79 L540.79,430.89 L542.80,431.61 L544.80,432.34 L546.91,433.07 L549.03,433.81 L549.26,434.35 L549.46,434.89 L549.07,435.15 L548.66,435.40 L548.23,435.66 L550.99,436.90 L551.73,436.92 L552.46,436.94 L552.19,437.27 L551.91,437.59 L551.60,437.92 L551.27,438.24 L550.92,438.56 L551.73,439.27 L551.34,439.59 L550.94,439.90 L551.91,441.67 L552.95,442.63 L552.46,443.21 L552.29,444.54 L553.27,445.65 L554.19,446.77 L554.53,447.70 L553.55,447.08 L552.21,445.59 L550.78,445.28 L549.63,445.41 L549.61,446.03 L548.70,445.90 L547.80,445.78 L547.20,446.93 L547.84,448.68 L548.69,450.17 L550.03,451.40 L550.89,451.37 L551.75,451.33 L551.46,450.05 L552.83,449.73 L553.35,451.53 L553.28,452.58 L554.27,452.59 L555.25,452.61 L555.81,453.85 L556.31,455.10 L557.28,456.14 L558.10,455.86 L559.08,456.37 L559.68,455.12 L560.43,454.69 L561.17,454.27 L562.91,455.19 L563.76,455.16 L564.59,455.13 L565.43,455.10 L566.53,456.18 L568.04,457.54 L569.12,457.80 L570.19,458.06 L570.72,459.19 L571.19,460.33 L572.01,461.47 L572.81,461.91 L573.59,462.35 L574.58,462.66 L575.54,462.96 L576.26,463.57 L576.96,464.18 L576.51,466.26 L575.19,467.99 L573.72,469.68 L573.08,470.83 L572.37,471.96 L570.60,473.88 L569.06,474.14 L566.69,475.54 L565.44,476.86 L563.92,477.85 L562.35,478.82 L560.67,479.76 L560.00,479.67 L559.32,479.59 L558.37,480.89 L557.02,481.28 L555.67,481.66 L553.61,482.50 L552.48,483.45 L551.31,484.40 L549.66,484.98 L548.04,485.97 L546.39,486.95 L545.17,487.84 L544.14,488.77 L543.88,488.44 L543.60,488.12 L544.52,487.19 L545.36,486.25 L546.56,485.35 L547.70,484.44 L548.96,483.53 L550.18,482.61 L551.51,481.43 L552.78,480.22 L554.25,479.03 L555.66,477.81 L556.53,476.81 L557.36,475.80 L558.15,474.78 L558.88,473.75 L559.57,472.71 L560.21,471.66 L560.30,470.04 L559.66,469.20 L558.98,468.37 L558.87,467.30 L558.70,466.23 L558.26,465.15 L557.76,464.08 L558.35,462.49 L558.19,460.90 L559.03,459.57 L559.41,458.76 L559.22,457.16 L558.08,456.92 L556.67,456.42 L555.03,454.88 L553.91,453.96 L552.95,453.68 L551.99,453.40 L550.67,452.66 L549.57,452.70 L548.58,452.34 L547.58,451.99 L546.35,451.27 L545.11,450.55 L544.65,449.31 L542.65,448.14 L540.42,446.50 L538.90,445.34 L540.85,446.98 L541.90,448.17 L542.92,449.38 L541.56,448.68 L539.59,447.03 L538.69,445.96 L537.77,444.90 L535.88,444.02 L534.49,442.88 L533.17,441.52 L532.18,440.16 L531.36,438.57 L530.64,437.78 L529.13,436.86 L527.08,435.39 L525.93,434.68 L524.80,433.97 L524.00,433.69 L523.22,433.41 L522.11,433.03 L521.29,432.86 L520.49,432.68 L519.96,432.71 L519.42,432.73 L519.18,433.37 L518.98,434.23 L518.24,434.68 L517.47,435.13 L516.46,435.45 L517.15,434.86 L517.80,434.26 L517.90,433.75 L517.20,433.81 L516.49,433.87 L516.30,433.24 L515.35,432.84 L515.19,432.22 L515.33,431.81 L515.95,431.38 L515.45,431.40 L514.96,431.41Z"/><path d="M535.81,428.30 L537.46,429.20 L538.97,430.14 L538.38,430.18 L537.79,430.21 L537.19,430.23 L536.11,430.04 L535.05,429.84 L534.26,429.20 L533.40,428.57 L532.25,428.28 L531.51,428.16 L531.18,428.23 L530.84,428.29 L530.51,428.36 L530.17,428.42 L529.82,428.48 L529.47,428.54 L529.85,428.47 L530.22,428.41 L530.58,428.34 L530.94,428.27 L531.30,428.21 L531.65,428.13 L531.99,428.06 L532.31,427.99 L532.63,427.92 L532.94,427.85 L533.24,427.78 L533.54,427.71Z"/><path d="M544.82,429.88 L543.85,429.73 L542.88,429.57 L541.92,429.42 L538.78,428.41 L535.11,427.27 L534.83,427.36 L535.11,427.27 L535.37,427.19 L535.64,427.11 L535.89,427.02 L536.15,426.93 L536.39,426.85 L536.63,426.76 L536.86,426.67 L537.09,426.57 L537.32,426.48 L537.53,426.39 L537.74,426.29 L537.94,426.19 L538.14,426.09 L538.33,425.99 L538.52,425.89 L538.69,425.79 L538.86,425.69 L538.69,425.79 L538.52,425.89 L538.33,425.99 L538.14,426.09 L538.06,426.22 L538.30,426.45 L539.00,426.81 L539.66,427.18 L540.29,427.56 L541.81,428.27 L543.24,429.01Z"/><path d="M542.52,426.98 L541.02,426.39 L541.24,426.26 L541.46,426.13 L541.66,426.00 L543.57,426.37 L544.29,426.76 L544.98,427.16 L544.51,427.23 L544.03,427.30Z"/><path d="M553.59,449.54 L554.50,448.81 L555.60,449.09 L556.69,449.37 L558.44,450.13 L557.16,450.36 L555.27,449.50 L554.43,449.52Z"/><path d="M558.46,450.34 L559.38,450.51 L560.29,450.68 L561.21,450.84 L560.17,451.44 L558.81,451.13Z"/><path d="M482.33,497.22 L482.33,497.22 L482.33,497.22 L482.33,497.22 L482.33,497.22 L482.33,497.22 L482.33,497.22 L482.33,497.22 L482.33,497.22 L482.33,497.22 L482.33,497.22 L482.33,497.22 L482.33,497.22 L482.33,497.22 L482.33,497.22 L482.33,497.22 L482.33,497.22 L482.33,497.22 L482.33,497.22 L482.33,497.22 L482.33,497.22 L482.33,497.22 L482.33,497.22 L482.33,497.22 L482.33,497.22 L482.33,497.22 L482.33,497.22 L482.33,497.22 L482.33,497.22 L482.33,497.22 L482.33,497.22 L482.33,497.22 L482.33,497.22 L482.33,497.22 L482.33,497.22 L482.33,497.22 L482.33,497.22 L482.33,497.22 L482.33,497.22 L482.33,497.22 L482.33,497.22 L482.33,497.22 L482.33,497.22 L482.33,497.22 L482.33,497.22 L482.33,497.22 L482.33,497.22 L482.33,497.22 L482.33,497.22 L482.33,497.22 L482.33,497.22 L482.33,497.22 L482.33,497.22 L482.33,497.22 L482.33,497.22 L482.33,497.22 L482.33,497.22 L482.33,497.22 L482.33,497.22 L482.33,497.22 L482.33,497.22 L482.33,497.22 L481.69,497.09 L479.79,496.69 L477.91,496.28 L476.66,495.98 L475.43,495.68 L477.28,496.13 L481.69,497.09 L482.33,497.22 L482.33,497.22 L482.33,497.22 L482.33,497.22 L482.33,497.22 L482.33,497.22 L482.33,497.22 L482.33,497.22 L482.33,497.22 L482.33,497.22 L482.33,497.22 L482.33,497.22 L482.33,497.22 L482.33,497.22 L482.33,497.22 L482.33,497.22 L482.33,497.22 L482.33,497.22 L482.33,497.22 L482.33,497.22 L482.33,497.22 L482.33,497.22 L482.33,497.22 L482.33,497.22 L482.33,497.22 L482.33,497.22 L482.33,497.22 L482.33,497.22 L482.33,497.22 L482.43,497.10 L482.53,496.99 L482.65,496.87 L482.77,496.76 L482.89,496.65 L483.03,496.54 L483.17,496.43 L483.32,496.32 L483.47,496.22 L483.64,496.11 L483.81,496.01 L483.98,495.91 L484.17,495.81 L484.36,495.71 L484.56,495.61 L484.76,495.51 L484.97,495.41 L485.18,495.32 L485.41,495.23 L485.64,495.13 L485.87,495.04 L485.80,494.86 L485.63,494.63 L485.49,494.41 L485.37,494.19 L485.75,494.13 L486.13,494.08 L486.51,494.03 L486.90,493.98 L487.29,493.94 L487.69,493.89 L488.08,493.85 L488.48,493.81 L488.88,493.77 L489.28,493.73 L489.43,493.59 L489.59,493.45 L489.76,493.30 L489.95,493.16 L490.14,493.02 L490.34,492.88 L490.55,492.74 L490.78,492.60 L491.01,492.46 L491.25,492.32 L491.64,492.26 L492.04,492.20 L492.43,492.15 L492.83,492.09 L493.24,492.04 L493.65,491.98 L494.06,491.93 L494.47,491.88 L494.89,491.83 L495.31,491.78 L495.73,491.74 L496.16,491.69 L496.59,491.65 L497.02,491.60 L497.45,491.56 L497.95,491.58 L498.44,491.59 L498.94,491.61 L499.43,491.63 L499.92,491.64 L500.41,491.66 L500.90,491.69 L501.38,491.71 L501.86,491.73 L502.34,491.76 L502.82,491.79 L503.29,491.82 L503.76,491.85 L504.23,491.88 L504.69,491.91 L505.26,492.06 L505.73,492.07 L506.18,492.06 L506.64,492.04 L507.10,492.03 L507.56,492.01 L508.02,492.00 L508.55,491.99 L509.09,491.98 L509.52,491.98 L509.96,491.97 L510.39,491.97 L510.82,491.97 L511.25,491.97 L511.25,491.97 L511.25,491.97 L511.25,491.97 L511.25,491.97 L511.25,491.97 L511.25,491.97 L510.82,491.97 L510.39,491.97 L509.96,491.97 L509.52,491.98 L509.09,491.98 L508.66,491.99 L508.23,492.00 L507.80,492.01 L507.37,492.02 L506.95,492.03 L506.52,492.04 L506.09,492.06 L505.67,492.07 L505.24,492.09 L504.82,492.11 L504.40,492.13 L503.97,492.15 L503.56,492.17 L503.14,492.20 L502.72,492.22 L502.31,492.25 L501.89,492.27 L501.48,492.30 L501.07,492.33 L500.66,492.36 L500.26,492.40 L499.85,492.43 L499.45,492.47 L499.05,492.50 L498.65,492.54 L498.26,492.58 L497.87,492.62 L497.48,492.66 L497.09,492.70 L496.70,492.75 L496.32,492.79 L495.94,492.84 L495.57,492.89 L495.20,492.94 L494.83,492.99 L494.46,493.04 L494.10,493.10 L493.74,493.15 L493.38,493.21 L493.03,493.26 L492.68,493.32 L492.33,493.38 L491.99,493.44 L491.66,493.51 L491.32,493.57 L490.99,493.64 L490.67,493.70 L490.35,493.77 L490.03,493.84 L489.72,493.91 L489.41,493.98 L489.11,494.06 L488.81,494.13 L488.52,494.21 L488.23,494.29 L487.94,494.36 L487.67,494.44 L487.39,494.53 L487.13,494.61 L486.86,494.69 L486.61,494.78 L486.35,494.87 L486.11,494.95 L485.87,495.04 L485.64,495.13 L485.41,495.23 L485.18,495.32 L484.97,495.41 L484.76,495.51 L484.56,495.61 L484.36,495.71 L484.17,495.81 L483.98,495.91 L483.81,496.01 L483.64,496.11 L483.47,496.22 L483.32,496.32 L483.17,496.43 L483.03,496.54 L482.89,496.65 L482.77,496.76 L482.65,496.87 L482.53,496.99 L482.43,497.10 L482.33,497.22 L482.33,497.22 L482.33,497.22 L482.33,497.22 L482.33,497.22 L482.33,497.22 L482.33,497.22 L482.33,497.22 L482.33,497.22 L482.33,497.22 L482.33,497.22 L482.33,497.22 L482.33,497.22 L482.33,497.22 L482.33,497.22 L482.33,497.22 L482.33,497.22 L482.33,497.22 L482.33,497.22 L482.33,497.22 L482.33,497.22 L482.33,497.22 L482.33,497.22 L482.33,497.22 L482.33,497.22 L482.33,497.22 L482.33,497.22 L482.33,497.22 L482.33,497.22 L482.33,497.22 L482.33,497.22 L482.33,497.22 L482.33,497.22 L482.33,497.22 L482.33,497.22 L482.33,497.22 L482.33,497.22 L482.33,497.22 L482.33,497.22 L482.33,497.22 L482.33,497.22 L482.33,497.22 L482.33,497.22 L482.33,497.22 L482.33,497.22 L482.33,497.22 L482.33,497.22 L482.33,497.22 L482.33,497.22 L482.33,497.22 L482.33,497.22 L482.33,497.22 L482.33,497.22 L482.33,497.22 L482.33,497.22 L482.33,497.22 L482.33,497.22 L482.33,497.22 L482.33,497.22 L482.33,497.22 L482.33,497.22 L482.33,497.22 L482.33,497.22 L482.33,497.22 L482.33,497.22 L482.33,497.22 L482.33,497.22 L482.33,497.22 L482.33,497.22 L482.33,497.22 L482.33,497.22 L482.33,497.22 L482.33,497.22 L482.33,497.22 L482.33,497.22 L482.33,497.22 L482.33,497.22 L482.33,497.22 L482.33,497.22 L482.33,497.22 L482.33,497.22 L482.33,497.22 L482.33,497.22 L482.33,497.22 L482.33,497.22 L482.33,497.22 L482.33,497.22 L482.33,497.22 L482.33,497.22 L482.33,497.22Z"/><path d="M511.25,491.97 L511.25,491.97 L511.25,491.97 L511.25,491.97 L511.25,491.97 L511.25,491.97 L511.25,491.97 L511.68,491.97 L512.11,491.97 L512.54,491.97 L512.98,491.98 L513.41,491.98 L513.84,491.99 L514.27,492.00 L514.70,492.01 L515.13,492.02 L515.55,492.03 L515.98,492.04 L516.41,492.06 L516.83,492.07 L517.26,492.09 L517.68,492.11 L518.10,492.13 L518.53,492.15 L518.94,492.17 L519.36,492.20 L519.78,492.22 L520.19,492.25 L520.61,492.27 L521.02,492.30 L521.43,492.33 L521.84,492.36 L522.24,492.40 L522.65,492.43 L523.05,492.47 L523.45,492.50 L523.85,492.54 L524.24,492.58 L524.63,492.62 L525.02,492.66 L525.41,492.70 L525.80,492.75 L526.18,492.79 L526.56,492.84 L526.93,492.89 L527.30,492.94 L527.67,492.99 L528.06,493.04 L528.43,493.10 L528.81,493.16 L529.18,493.22 L529.55,493.28 L529.91,493.34 L530.27,493.40 L530.62,493.47 L530.97,493.53 L531.32,493.60 L531.66,493.67 L531.99,493.74 L532.35,493.81 L532.70,493.89 L533.05,493.97 L533.84,493.88 L535.49,493.42 L537.15,492.96 L538.46,492.69 L539.79,492.43 L538.27,492.94 L534.74,494.11 L534.58,494.37 L534.87,494.46 L535.16,494.54 L535.45,494.63 L535.73,494.72 L536.00,494.82 L536.27,494.91 L536.53,495.00 L536.78,495.10 L537.03,495.20 L537.27,495.30 L537.50,495.40 L537.73,495.50 L537.94,495.61 L538.14,495.71 L538.33,495.81 L538.52,495.91 L538.69,496.01 L538.86,496.11 L539.03,496.22 L539.18,496.32 L539.33,496.43 L539.47,496.54 L539.61,496.65 L539.73,496.76 L539.85,496.87 L539.97,496.99 L540.07,497.10 L540.17,497.22 L540.17,497.22 L540.17,497.22 L540.17,497.22 L540.17,497.22 L540.17,497.22 L540.17,497.22 L540.17,497.22 L540.17,497.22 L540.17,497.22 L540.17,497.22 L540.17,497.22 L540.17,497.22 L540.17,497.22 L540.17,497.22 L540.17,497.22 L540.17,497.22 L540.17,497.22 L540.17,497.22 L540.17,497.22 L540.17,497.22 L540.17,497.22 L540.55,497.14 L541.06,497.04 L541.57,496.93 L542.08,496.83 L541.95,496.86 L541.82,496.88 L541.70,496.91 L541.57,496.93 L541.44,496.96 L541.32,496.99 L541.19,497.01 L541.06,497.04 L540.93,497.06 L540.81,497.09 L541.06,497.04 L541.32,496.99 L541.57,496.93 L541.82,496.88 L542.08,496.83 L542.33,496.78 L542.58,496.72 L542.84,496.67 L543.09,496.61 L543.34,496.56 L543.34,496.56 L543.34,496.56 L543.34,496.56 L543.34,496.56 L543.34,496.56 L543.34,496.56 L543.34,496.56 L543.34,496.56 L543.34,496.56 L543.34,496.56 L543.34,496.56 L543.34,496.56 L543.34,496.56 L543.34,496.56 L543.34,496.56 L543.17,496.59 L543.01,496.63 L542.84,496.67 L542.67,496.70 L542.50,496.74 L542.33,496.78 L542.16,496.81 L541.99,496.85 L541.82,496.88 L541.66,496.92 L541.49,496.95 L541.32,496.99 L541.15,497.02 L540.98,497.06 L540.81,497.09 L540.26,497.20 L540.17,497.22 L540.17,497.22 L540.17,497.22 L540.17,497.22 L540.17,497.22 L540.17,497.22 L540.17,497.22 L540.17,497.22 L540.17,497.22 L540.17,497.22 L540.17,497.22 L540.17,497.22 L540.17,497.22 L540.17,497.22 L540.17,497.22 L540.17,497.22 L540.17,497.22 L540.17,497.22 L540.17,497.22 L540.17,497.22 L540.17,497.22 L540.17,497.22 L540.17,497.22 L540.17,497.22 L540.17,497.22 L540.17,497.22 L540.17,497.22 L540.17,497.22 L540.17,497.22 L540.17,497.22 L540.17,497.22 L540.17,497.22 L540.17,497.22 L540.17,497.22 L540.17,497.22 L540.17,497.22 L540.17,497.22 L540.17,497.22 L540.17,497.22 L540.17,497.22 L540.17,497.22 L540.17,497.22 L540.17,497.22 L540.17,497.22 L540.17,497.22 L540.17,497.22 L540.17,497.22 L540.17,497.22 L540.17,497.22 L540.17,497.22 L540.17,497.22 L540.17,497.22 L540.17,497.22 L540.17,497.22 L540.17,497.22 L540.17,497.22 L540.17,497.22 L540.17,497.22 L540.17,497.22 L540.17,497.22 L540.17,497.22 L540.17,497.22 L540.17,497.22 L540.17,497.22 L540.17,497.22 L540.17,497.22 L540.17,497.22 L540.17,497.22 L540.17,497.22 L540.17,497.22 L540.17,497.22 L540.17,497.22 L540.17,497.22 L540.17,497.22 L540.17,497.22 L540.17,497.22 L540.17,497.22 L540.17,497.22 L540.17,497.22 L540.17,497.22 L540.17,497.22 L540.17,497.22 L540.17,497.22 L540.17,497.22 L540.17,497.22 L540.17,497.22 L540.17,497.22 L540.17,497.22 L540.17,497.22 L540.17,497.22 L540.17,497.22 L540.17,497.22 L540.17,497.22 L540.17,497.22 L540.17,497.22 L540.17,497.22 L540.17,497.22 L540.17,497.22 L540.17,497.22 L540.17,497.22 L540.17,497.22 L540.17,497.22 L540.17,497.22 L540.17,497.22 L540.17,497.22 L540.17,497.22 L540.17,497.22 L540.17,497.22 L540.17,497.22 L540.07,497.10 L539.97,496.99 L539.85,496.87 L539.73,496.76 L539.61,496.65 L539.47,496.54 L539.33,496.43 L539.18,496.32 L539.03,496.22 L538.86,496.11 L538.69,496.01 L538.52,495.91 L538.33,495.81 L538.14,495.71 L537.94,495.61 L537.74,495.51 L537.53,495.41 L537.32,495.32 L537.09,495.23 L536.86,495.13 L536.63,495.04 L536.39,494.95 L536.15,494.87 L535.89,494.78 L535.64,494.69 L535.37,494.61 L535.11,494.53 L534.83,494.44 L534.56,494.36 L534.27,494.29 L533.98,494.21 L533.69,494.13 L533.39,494.06 L533.09,493.98 L532.78,493.91 L532.47,493.84 L532.15,493.77 L531.83,493.70 L531.51,493.64 L531.18,493.57 L530.84,493.51 L530.51,493.44 L530.17,493.38 L529.82,493.32 L529.47,493.26 L529.12,493.21 L528.76,493.15 L528.40,493.10 L528.04,493.04 L527.67,492.99 L527.30,492.94 L526.93,492.89 L526.56,492.84 L526.18,492.79 L525.80,492.75 L525.41,492.70 L525.02,492.66 L524.63,492.62 L524.24,492.58 L523.85,492.54 L523.45,492.50 L523.05,492.47 L522.65,492.43 L522.24,492.40 L521.84,492.36 L521.43,492.33 L521.02,492.30 L520.61,492.27 L520.19,492.25 L519.78,492.22 L519.36,492.20 L518.94,492.17 L518.53,492.15 L518.10,492.13 L517.68,492.11 L517.26,492.09 L516.83,492.07 L516.41,492.06 L515.98,492.04 L515.55,492.03 L515.13,492.02 L514.70,492.01 L514.27,492.00 L513.84,491.99 L513.41,491.98 L512.98,491.98 L512.54,491.97 L512.11,491.97 L511.68,491.97Z"/></g><g clip-path="url(#mapclip)" fill="#cff0fa" stroke="#3a2222" stroke-width="0.6"><path d="M458.34,437.20 L460.08,436.13 L462.39,435.16 L462.17,435.98 L463.54,435.78 L465.35,435.11 L464.08,436.10 L462.22,437.86 L461.41,437.86 L460.60,437.85 L460.24,437.19 L458.79,437.38Z"/><path d="M466.41,436.29 L468.27,435.87 L467.98,436.71 L465.97,437.71 L465.47,438.45 L464.19,439.83 L462.13,440.69 L462.13,440.04 L463.80,438.82 L464.70,437.60Z"/><path d="M466.79,429.94 L466.78,430.40 L467.49,430.43 L468.20,430.45 L468.91,430.48 L471.51,429.50 L471.62,429.80 L473.72,428.96 L474.27,429.01 L474.83,429.05 L475.39,429.09 L475.54,428.76 L475.72,428.42 L477.46,427.51 L478.80,427.29 L480.15,427.07 L480.67,426.61 L478.44,427.05 L476.22,427.50 L473.79,428.38 L470.29,429.37 L468.95,429.63 L468.18,429.70Z"/><path d="M483.15,426.79 L483.03,427.01 L482.93,427.24 L482.24,427.65 L481.59,428.06 L480.66,428.08 L480.56,427.82 L481.90,427.21Z"/></g><g clip-path="url(#mapclip)" fill="#201010"><circle cx="531.93" cy="432.22" r="0.55"/><circle cx="538.70" cy="432.15" r="0.55"/><circle cx="532.34" cy="431.94" r="0.55"/><circle cx="528.92" cy="432.92" r="0.55"/><circle cx="531.49" cy="430.28" r="0.55"/><circle cx="529.19" cy="434.60" r="0.55"/><circle cx="525.38" cy="430.83" r="0.55"/><circle cx="540.20" cy="435.82" r="0.55"/><circle cx="532.61" cy="428.54" r="0.55"/><circle cx="533.78" cy="431.51" r="0.55"/><circle cx="532.09" cy="436.77" r="0.55"/><circle cx="537.56" cy="435.94" r="0.55"/><circle cx="531.04" cy="434.96" r="0.55"/><circle cx="527.18" cy="433.44" r="0.55"/><circle cx="528.94" cy="430.20" r="0.55"/><circle cx="531.93" cy="431.54" r="0.55"/><circle cx="531.48" cy="431.40" r="0.55"/><circle cx="534.61" cy="434.34" r="0.55"/><circle cx="532.29" cy="428.31" r="0.55"/><circle cx="534.75" cy="430.54" r="0.55"/><circle cx="532.98" cy="434.90" r="0.55"/><circle cx="533.79" cy="436.18" r="0.55"/><circle cx="537.53" cy="432.92" r="0.55"/><circle cx="538.70" cy="432.88" r="0.55"/><circle cx="534.07" cy="429.37" r="0.55"/><circle cx="528.39" cy="435.41" r="0.55"/><circle cx="538.49" cy="432.14" r="0.55"/><circle cx="540.21" cy="432.55" r="0.55"/><circle cx="526.56" cy="432.16" r="0.55"/><circle cx="539.11" cy="433.89" r="0.55"/><circle cx="528.89" cy="434.38" r="0.55"/><circle cx="535.36" cy="429.97" r="0.55"/><circle cx="529.93" cy="435.01" r="0.55"/><circle cx="530.89" cy="436.48" r="0.55"/><circle cx="540.33" cy="434.57" r="0.55"/><circle cx="534.39" cy="432.90" r="0.55"/><circle cx="527.19" cy="431.29" r="0.55"/><circle cx="527.18" cy="432.00" r="0.55"/><circle cx="528.68" cy="433.68" r="0.55"/><circle cx="531.17" cy="434.72" r="0.55"/><circle cx="534.80" cy="429.64" r="0.55"/><circle cx="527.06" cy="430.06" r="0.55"/><circle cx="530.19" cy="433.77" r="0.55"/><circle cx="535.73" cy="430.99" r="0.55"/><circle cx="523.98" cy="429.55" r="0.55"/><circle cx="531.26" cy="434.81" r="0.55"/><circle cx="538.40" cy="433.45" r="0.55"/><circle cx="533.88" cy="436.15" r="0.55"/><circle cx="527.13" cy="432.49" r="0.55"/><circle cx="528.94" cy="432.18" r="0.55"/><circle cx="531.89" cy="433.13" r="0.55"/><circle cx="538.89" cy="431.95" r="0.55"/><circle cx="530.07" cy="429.84" r="0.55"/><circle cx="531.55" cy="435.65" r="0.55"/><circle cx="534.00" cy="429.66" r="0.55"/><circle cx="532.31" cy="435.30" r="0.55"/><circle cx="530.78" cy="429.09" r="0.55"/><circle cx="525.32" cy="429.72" r="0.55"/><circle cx="536.51" cy="431.22" r="0.55"/><circle cx="535.57" cy="435.74" r="0.55"/><circle cx="486.52" cy="427.87" r="0.55"/><circle cx="484.33" cy="430.75" r="0.55"/><circle cx="486.74" cy="429.74" r="0.55"/><circle cx="485.91" cy="435.71" r="0.55"/><circle cx="483.58" cy="430.40" r="0.55"/><circle cx="473.09" cy="434.75" r="0.55"/><circle cx="492.11" cy="430.27" r="0.55"/><circle cx="486.20" cy="435.88" r="0.55"/><circle cx="493.25" cy="437.22" r="0.55"/><circle cx="472.70" cy="434.13" r="0.55"/><circle cx="479.59" cy="437.72" r="0.55"/><circle cx="477.56" cy="433.73" r="0.55"/><circle cx="483.60" cy="437.30" r="0.55"/><circle cx="489.53" cy="429.44" r="0.55"/><circle cx="498.11" cy="432.86" r="0.55"/><circle cx="491.25" cy="433.06" r="0.55"/><circle cx="471.75" cy="437.04" r="0.55"/><circle cx="485.14" cy="428.22" r="0.55"/><circle cx="495.96" cy="429.57" r="0.55"/><circle cx="479.53" cy="430.61" r="0.55"/><circle cx="489.01" cy="431.20" r="0.55"/><circle cx="490.83" cy="428.40" r="0.55"/><circle cx="478.71" cy="431.65" r="0.55"/><circle cx="495.78" cy="430.20" r="0.55"/><circle cx="493.51" cy="432.02" r="0.55"/><circle cx="496.92" cy="430.17" r="0.55"/><circle cx="485.97" cy="431.27" r="0.55"/><circle cx="498.38" cy="430.74" r="0.55"/><circle cx="488.77" cy="430.48" r="0.55"/><circle cx="494.86" cy="433.49" r="0.55"/><circle cx="487.55" cy="434.88" r="0.55"/><circle cx="489.29" cy="432.58" r="0.55"/><circle cx="480.53" cy="430.80" r="0.55"/><circle cx="500.16" cy="430.78" r="0.55"/><circle cx="490.03" cy="435.04" r="0.55"/><circle cx="492.14" cy="433.18" r="0.55"/><circle cx="489.92" cy="430.11" r="0.55"/><circle cx="482.73" cy="429.82" r="0.55"/><circle cx="478.99" cy="430.96" r="0.55"/><circle cx="482.41" cy="436.06" r="0.55"/><circle cx="490.46" cy="433.91" r="0.55"/><circle cx="493.99" cy="429.78" r="0.55"/><circle cx="474.22" cy="437.68" r="0.55"/><circle cx="484.96" cy="431.18" r="0.55"/><circle cx="475.10" cy="435.84" r="0.55"/><circle cx="477.24" cy="428.36" r="0.55"/><circle cx="479.61" cy="425.61" r="0.55"/><circle cx="474.22" cy="426.47" r="0.55"/><circle cx="552.70" cy="428.34" r="0.55"/><circle cx="481.66" cy="426.53" r="0.55"/><circle cx="471.98" cy="430.16" r="0.55"/><circle cx="468.44" cy="429.65" r="0.55"/><circle cx="551.02" cy="428.14" r="0.55"/><circle cx="480.49" cy="427.00" r="0.55"/><circle cx="481.95" cy="426.08" r="0.55"/><circle cx="558.41" cy="429.88" r="0.55"/><circle cx="466.74" cy="429.46" r="0.55"/><circle cx="553.14" cy="428.40" r="0.55"/><circle cx="472.17" cy="428.57" r="0.55"/><circle cx="544.45" cy="425.51" r="0.55"/><circle cx="474.03" cy="429.99" r="0.55"/><circle cx="559.47" cy="431.73" r="0.55"/><circle cx="466.07" cy="432.73" r="0.55"/><circle cx="474.20" cy="428.34" r="0.55"/><circle cx="545.50" cy="425.78" r="0.55"/><circle cx="495.31" cy="470.06" r="0.4"/><circle cx="513.50" cy="472.33" r="0.4"/><circle cx="529.54" cy="467.88" r="0.4"/><circle cx="500.60" cy="471.91" r="0.4"/><circle cx="521.25" cy="463.27" r="0.4"/><circle cx="521.29" cy="458.74" r="0.4"/><circle cx="528.35" cy="452.09" r="0.4"/><circle cx="523.32" cy="468.64" r="0.4"/><circle cx="514.43" cy="469.04" r="0.4"/><circle cx="494.29" cy="462.73" r="0.4"/><circle cx="524.53" cy="469.09" r="0.4"/><circle cx="505.72" cy="465.45" r="0.4"/><circle cx="524.24" cy="461.67" r="0.4"/><circle cx="520.55" cy="456.54" r="0.4"/><circle cx="510.97" cy="455.78" r="0.4"/><circle cx="532.15" cy="471.19" r="0.4"/><circle cx="534.27" cy="457.21" r="0.4"/><circle cx="499.47" cy="463.12" r="0.4"/><circle cx="520.83" cy="453.21" r="0.4"/><circle cx="510.23" cy="460.61" r="0.4"/><circle cx="531.84" cy="455.59" r="0.4"/><circle cx="534.87" cy="462.94" r="0.4"/><circle cx="480.98" cy="461.35" r="0.45"/><circle cx="482.09" cy="455.23" r="0.45"/><circle cx="481.20" cy="456.22" r="0.45"/><circle cx="477.58" cy="454.34" r="0.45"/><circle cx="484.74" cy="453.70" r="0.45"/><circle cx="480.34" cy="455.48" r="0.45"/><circle cx="478.57" cy="454.26" r="0.45"/><circle cx="482.91" cy="459.92" r="0.45"/><circle cx="475.75" cy="458.96" r="0.45"/><circle cx="480.42" cy="455.71" r="0.45"/><circle cx="479.52" cy="463.13" r="0.45"/><circle cx="482.50" cy="462.75" r="0.45"/><circle cx="482.38" cy="461.67" r="0.45"/><circle cx="478.48" cy="455.48" r="0.45"/><circle cx="476.24" cy="461.93" r="0.45"/></g><path d="M482.33,424.58 L482.43,424.70 L482.53,424.81 L482.65,424.93 L482.77,425.04 L482.89,425.15 L483.03,425.26 L483.17,425.37 L483.32,425.48 L483.47,425.58 L483.64,425.69 L483.81,425.79 L483.98,425.89 L484.17,425.99 L484.36,426.09 L484.56,426.19 L484.76,426.29 L484.97,426.39 L485.18,426.48 L485.41,426.57 L485.64,426.67 L485.87,426.76 L486.11,426.85 L486.35,426.93 L486.61,427.02 L486.86,427.11 L487.13,427.19 L487.39,427.27 L487.67,427.36 L487.94,427.44 L488.23,427.51 L488.52,427.59 L488.81,427.67 L489.11,427.74 L489.41,427.82 L489.72,427.89 L490.03,427.96 L490.35,428.03 L490.67,428.10 L490.99,428.16 L491.32,428.23 L491.66,428.29 L491.99,428.36 L492.33,428.42 L492.68,428.48 L493.03,428.54 L493.38,428.59 L493.74,428.65 L494.10,428.70 L494.46,428.76 L494.83,428.81 L495.20,428.86 L495.57,428.91 L495.94,428.96 L496.32,429.01 L496.70,429.05 L497.09,429.10 L497.48,429.14 L497.87,429.18 L498.26,429.22 L498.65,429.26 L499.05,429.30 L499.45,429.33 L499.85,429.37 L500.26,429.40 L500.66,429.44 L501.07,429.47 L501.48,429.50 L501.89,429.53 L502.31,429.55 L502.72,429.58 L503.14,429.60 L503.56,429.63 L503.97,429.65 L504.40,429.67 L504.82,429.69 L505.24,429.71 L505.67,429.73 L506.09,429.74 L506.52,429.76 L506.95,429.77 L507.37,429.78 L507.80,429.79 L508.23,429.80 L508.66,429.81 L509.09,429.82 L509.52,429.82 L509.96,429.83 L510.39,429.83 L510.82,429.83 L511.25,429.83 L511.68,429.83 L512.11,429.83 L512.54,429.83 L512.98,429.82 L513.41,429.82 L513.84,429.81 L514.27,429.80 L514.70,429.79 L515.13,429.78 L515.55,429.77 L515.98,429.76 L516.41,429.74 L516.83,429.73 L517.26,429.71 L517.68,429.69 L518.10,429.67 L518.53,429.65 L518.94,429.63 L519.36,429.60 L519.78,429.58 L520.19,429.55 L520.61,429.53 L521.02,429.50 L521.43,429.47 L521.84,429.44 L522.24,429.40 L522.65,429.37 L523.05,429.33 L523.45,429.30 L523.85,429.26 L524.24,429.22 L524.63,429.18 L525.02,429.14 L525.41,429.10 L525.80,429.05 L526.18,429.01 L526.56,428.96 L526.93,428.91 L527.30,428.86 L527.67,428.81 L528.04,428.76 L528.40,428.70 L528.76,428.65 L529.12,428.59 L529.47,428.54 L529.82,428.48 L530.17,428.42 L530.51,428.36 L530.84,428.29 L531.18,428.23 L531.51,428.16 L531.83,428.10 L532.15,428.03 L532.47,427.96 L532.78,427.89 L533.09,427.82 L533.39,427.74 L533.69,427.67 L533.98,427.59 L534.27,427.51 L534.56,427.44 L534.83,427.36 L535.11,427.27 L535.37,427.19 L535.64,427.11 L535.89,427.02 L536.15,426.93 L536.39,426.85 L536.63,426.76 L536.86,426.67 L537.09,426.57 L537.32,426.48 L537.53,426.39 L537.74,426.29 L537.94,426.19 L538.14,426.09 L538.33,425.99 L538.52,425.89 L538.69,425.79 L538.86,425.69 L539.03,425.58 L539.18,425.48 L539.33,425.37 L539.47,425.26 L539.61,425.15 L539.73,425.04 L539.85,424.93 L539.97,424.81 L540.07,424.70 L540.17,424.58 L541.44,424.84 L542.71,425.11 L543.97,425.38 L545.22,425.67 L546.46,425.97 L547.68,426.28 L548.90,426.60 L550.10,426.93 L551.29,427.27 L552.48,427.62 L553.64,427.98 L554.80,428.35 L555.94,428.73 L557.07,429.12 L558.18,429.52 L559.28,429.93 L560.37,430.35 L561.44,430.78 L562.49,431.22 L563.53,431.67 L564.55,432.12 L565.56,432.59 L566.55,433.06 L567.53,433.54 L568.48,434.03 L569.42,434.53 L570.34,435.04 L571.25,435.55 L572.13,436.07 L573.00,436.60 L573.85,437.14 L574.67,437.68 L575.48,438.23 L576.27,438.79 L577.04,439.36 L577.79,439.93 L578.52,440.51 L579.23,441.09 L579.92,441.68 L580.59,442.28 L581.24,442.88 L581.86,443.48 L582.46,444.10 L583.05,444.71 L583.61,445.34 L584.14,445.96 L584.66,446.59 L585.15,447.23 L585.62,447.87 L586.07,448.51 L586.50,449.16 L586.90,449.81 L587.28,450.47 L587.64,451.13 L587.97,451.79 L588.28,452.45 L588.57,453.12 L588.83,453.79 L589.07,454.46 L589.28,455.13 L589.47,455.81 L589.64,456.48 L589.79,457.16 L589.91,457.84 L590.00,458.52 L590.07,459.20 L590.12,459.88 L590.15,460.56 L590.15,461.24 L590.12,461.92 L590.07,462.60 L590.00,463.28 L589.91,463.96 L589.79,464.64 L589.64,465.32 L589.47,465.99 L589.28,466.67 L589.07,467.34 L588.83,468.01 L588.57,468.68 L588.28,469.35 L587.97,470.01 L587.64,470.67 L587.28,471.33 L586.90,471.99 L586.50,472.64 L586.07,473.29 L585.62,473.93 L585.15,474.57 L584.66,475.21 L584.14,475.84 L583.61,476.46 L583.05,477.09 L582.46,477.70 L581.86,478.32 L581.24,478.92 L580.59,479.52 L579.92,480.12 L579.23,480.71 L578.52,481.29 L577.79,481.87 L577.04,482.44 L576.27,483.01 L575.48,483.57 L574.67,484.12 L573.85,484.66 L573.00,485.20 L572.13,485.73 L571.25,486.25 L570.34,486.76 L569.42,487.27 L568.48,487.77 L567.53,488.26 L566.55,488.74 L565.56,489.21 L564.55,489.68 L563.53,490.13 L562.49,490.58 L561.44,491.02 L560.37,491.45 L559.28,491.87 L558.18,492.28 L557.07,492.68 L555.94,493.07 L554.80,493.45 L553.64,493.82 L552.48,494.18 L551.29,494.53 L550.10,494.87 L548.90,495.20 L547.68,495.52 L546.46,495.83 L545.22,496.13 L543.97,496.42 L542.71,496.69 L541.44,496.96 L540.17,497.22 L540.17,497.22 L540.17,497.22 L540.17,497.22 L540.07,497.10 L539.97,496.99 L539.85,496.87 L539.73,496.76 L539.61,496.65 L539.47,496.54 L539.33,496.43 L539.18,496.32 L539.03,496.22 L538.86,496.11 L538.69,496.01 L538.52,495.91 L538.33,495.81 L538.14,495.71 L537.94,495.61 L537.74,495.51 L537.53,495.41 L537.32,495.32 L537.09,495.23 L536.86,495.13 L536.63,495.04 L536.39,494.95 L536.15,494.87 L535.89,494.78 L535.64,494.69 L535.37,494.61 L535.11,494.53 L534.83,494.44 L534.56,494.36 L534.27,494.29 L533.98,494.21 L533.69,494.13 L533.39,494.06 L533.09,493.98 L532.78,493.91 L532.47,493.84 L532.15,493.77 L531.83,493.70 L531.51,493.64 L531.18,493.57 L530.84,493.51 L530.51,493.44 L530.17,493.38 L529.82,493.32 L529.47,493.26 L529.12,493.21 L528.76,493.15 L528.40,493.10 L528.04,493.04 L527.67,492.99 L527.30,492.94 L526.93,492.89 L526.56,492.84 L526.18,492.79 L525.80,492.75 L525.41,492.70 L525.02,492.66 L524.63,492.62 L524.24,492.58 L523.85,492.54 L523.45,492.50 L523.05,492.47 L522.65,492.43 L522.24,492.40 L521.84,492.36 L521.43,492.33 L521.02,492.30 L520.61,492.27 L520.19,492.25 L519.78,492.22 L519.36,492.20 L518.94,492.17 L518.53,492.15 L518.10,492.13 L517.68,492.11 L517.26,492.09 L516.83,492.07 L516.41,492.06 L515.98,492.04 L515.55,492.03 L515.13,492.02 L514.70,492.01 L514.27,492.00 L513.84,491.99 L513.41,491.98 L512.98,491.98 L512.54,491.97 L512.11,491.97 L511.68,491.97 L511.25,491.97 L510.82,491.97 L510.39,491.97 L509.96,491.97 L509.52,491.98 L509.09,491.98 L508.66,491.99 L508.23,492.00 L507.80,492.01 L507.37,492.02 L506.95,492.03 L506.52,492.04 L506.09,492.06 L505.67,492.07 L505.24,492.09 L504.82,492.11 L504.40,492.13 L503.97,492.15 L503.56,492.17 L503.14,492.20 L502.72,492.22 L502.31,492.25 L501.89,492.27 L501.48,492.30 L501.07,492.33 L500.66,492.36 L500.26,492.40 L499.85,492.43 L499.45,492.47 L499.05,492.50 L498.65,492.54 L498.26,492.58 L497.87,492.62 L497.48,492.66 L497.09,492.70 L496.70,492.75 L496.32,492.79 L495.94,492.84 L495.57,492.89 L495.20,492.94 L494.83,492.99 L494.46,493.04 L494.10,493.10 L493.74,493.15 L493.38,493.21 L493.03,493.26 L492.68,493.32 L492.33,493.38 L491.99,493.44 L491.66,493.51 L491.32,493.57 L490.99,493.64 L490.67,493.70 L490.35,493.77 L490.03,493.84 L489.72,493.91 L489.41,493.98 L489.11,494.06 L488.81,494.13 L488.52,494.21 L488.23,494.29 L487.94,494.36 L487.67,494.44 L487.39,494.53 L487.13,494.61 L486.86,494.69 L486.61,494.78 L486.35,494.87 L486.11,494.95 L485.87,495.04 L485.64,495.13 L485.41,495.23 L485.18,495.32 L484.97,495.41 L484.76,495.51 L484.56,495.61 L484.36,495.71 L484.17,495.81 L483.98,495.91 L483.81,496.01 L483.64,496.11 L483.47,496.22 L483.32,496.32 L483.17,496.43 L483.03,496.54 L482.89,496.65 L482.77,496.76 L482.65,496.87 L482.53,496.99 L482.43,497.10 L482.33,497.22 L481.06,496.96 L479.79,496.69 L478.53,496.42 L477.28,496.13 L476.04,495.83 L474.82,495.52 L473.60,495.20 L472.40,494.87 L471.21,494.53 L470.02,494.18 L468.86,493.82 L467.70,493.45 L466.56,493.07 L465.43,492.68 L464.32,492.28 L463.22,491.87 L462.13,491.45 L461.06,491.02 L460.01,490.58 L458.97,490.13 L457.95,489.68 L456.94,489.21 L455.95,488.74 L454.97,488.26 L454.02,487.77 L453.08,487.27 L452.16,486.76 L451.25,486.25 L450.37,485.73 L449.50,485.20 L448.65,484.66 L447.83,484.12 L447.02,483.57 L446.23,483.01 L445.46,482.44 L444.71,481.87 L443.98,481.29 L443.27,480.71 L442.58,480.12 L441.91,479.52 L441.26,478.92 L440.64,478.32 L440.04,477.70 L439.45,477.09 L438.89,476.46 L438.36,475.84 L437.84,475.21 L437.35,474.57 L436.88,473.93 L436.43,473.29 L436.00,472.64 L435.60,471.99 L435.22,471.33 L434.86,470.67 L434.53,470.01 L434.22,469.35 L433.93,468.68 L433.67,468.01 L433.43,467.34 L433.22,466.67 L433.03,465.99 L432.86,465.32 L432.71,464.64 L432.59,463.96 L432.50,463.28 L432.43,462.60 L432.38,461.92 L432.35,461.24 L432.35,460.56 L432.38,459.88 L432.43,459.20 L432.50,458.52 L432.59,457.84 L432.71,457.16 L432.86,456.48 L433.03,455.81 L433.22,455.13 L433.43,454.46 L433.67,453.79 L433.93,453.12 L434.22,452.45 L434.53,451.79 L434.86,451.13 L435.22,450.47 L435.60,449.81 L436.00,449.16 L436.43,448.51 L436.88,447.87 L437.35,447.23 L437.84,446.59 L438.36,445.96 L438.89,445.34 L439.45,444.71 L440.04,444.10 L440.64,443.48 L441.26,442.88 L441.91,442.28 L442.58,441.68 L443.27,441.09 L443.98,440.51 L444.71,439.93 L445.46,439.36 L446.23,438.79 L447.02,438.23 L447.83,437.68 L448.65,437.14 L449.50,436.60 L450.37,436.07 L451.25,435.55 L452.16,435.04 L453.08,434.53 L454.02,434.03 L454.97,433.54 L455.95,433.06 L456.94,432.59 L457.95,432.12 L458.97,431.67 L460.01,431.22 L461.06,430.78 L462.13,430.35 L463.22,429.93 L464.32,429.52 L465.43,429.12 L466.56,428.73 L467.70,428.35 L468.86,427.98 L470.02,427.62 L471.21,427.27 L472.40,426.93 L473.60,426.60 L474.82,426.28 L476.04,425.97 L477.28,425.67 L478.53,425.38 L479.79,425.11 L481.06,424.84 L482.33,424.58 L482.33,424.58 L482.33,424.58Z" fill="none" stroke="#000" stroke-width="2.4" stroke-linejoin="round"/></svg></body></html>
